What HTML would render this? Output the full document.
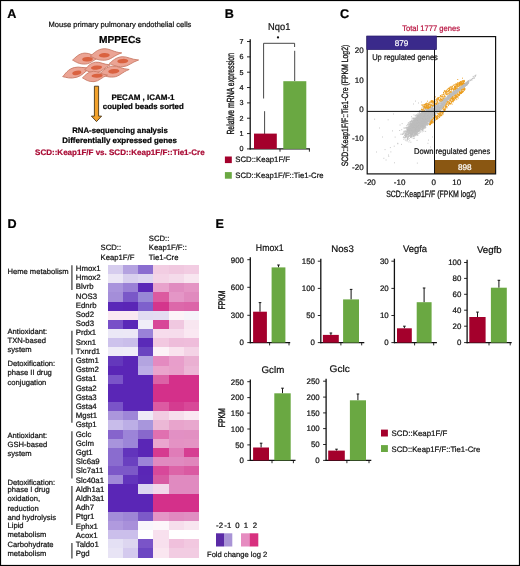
<!DOCTYPE html>
<html><head><meta charset="utf-8"><style>
html,body{margin:0;padding:0;background:#fff;}
body{width:520px;height:566px;overflow:hidden;}
svg{display:block;font-family:"Liberation Sans", sans-serif;text-rendering:geometricPrecision;filter:blur(0.3px);}
</style></head><body>
<svg width="520" height="566" viewBox="0 0 520 566">
<defs><clipPath id="cclip"><rect x="367.5" y="37" width="127" height="136.2"/></clipPath></defs>
<rect x="0.5" y="0.5" width="519" height="565" fill="none" stroke="#000" stroke-width="1.2"/>
<text x="7.2" y="17.9" font-size="12.6" text-anchor="start" font-weight="bold" fill="#000" stroke="#000" stroke-width="0.22" >A</text>
<text x="224.8" y="18.3" font-size="12.6" text-anchor="start" font-weight="bold" fill="#000" stroke="#000" stroke-width="0.22" >B</text>
<text x="340" y="18.3" font-size="12.6" text-anchor="start" font-weight="bold" fill="#000" stroke="#000" stroke-width="0.22" >C</text>
<text x="7.6" y="228" font-size="12.6" text-anchor="start" font-weight="bold" fill="#000" stroke="#000" stroke-width="0.22" >D</text>
<text x="215.6" y="227.8" font-size="12.6" text-anchor="start" font-weight="bold" fill="#000" stroke="#000" stroke-width="0.22" >E</text>
<text x="120" y="26.9" font-size="7.5" text-anchor="middle" fill="#111" stroke="#111" stroke-width="0.22" textLength="142.8" lengthAdjust="spacingAndGlyphs" >Mouse primary pulmonary endothelial cells</text>
<text x="120" y="43.2" font-size="10.1" text-anchor="middle" font-weight="bold" fill="#000" stroke="#000" stroke-width="0.22" textLength="41.8" lengthAdjust="spacingAndGlyphs" >MPPECs</text>
<g transform="translate(86.5,58.5) rotate(-3)"><path d="M-14.00,0.82 C-10.92,-1.38 -7.70,-5.50 -1.40,-5.50 C3.50,-5.50 7.00,-1.65 14.00,-0.66 C7.00,1.38 4.20,5.50 -1.40,5.50 C-7.70,5.50 -10.92,2.75 -14.00,0.82 Z" fill="#eba494" stroke="#c97a66" stroke-width="0.85"/></g>
<ellipse cx="87.5" cy="59.2" rx="5.3" ry="2.2" transform="rotate(-3 87.5 59.2)" fill="#da6240"/>
<g transform="translate(106,54.4) rotate(-3)"><path d="M-15.80,0.86 C-12.32,-1.44 -8.69,-5.75 -1.58,-5.75 C3.95,-5.75 7.90,-1.72 15.80,-0.69 C7.90,1.44 4.74,5.75 -1.58,5.75 C-8.69,5.75 -12.32,2.88 -15.80,0.86 Z" fill="#eba494" stroke="#c97a66" stroke-width="0.85"/></g>
<ellipse cx="104.3" cy="55.3" rx="5.5" ry="2.2" transform="rotate(-3 104.3 55.3)" fill="#da6240"/>
<g transform="translate(124,61.6) rotate(-4)"><path d="M-14.70,0.75 C-11.47,-1.25 -8.09,-5.00 -1.47,-5.00 C3.67,-5.00 7.35,-1.50 14.70,-0.60 C7.35,1.25 4.41,5.00 -1.47,5.00 C-8.09,5.00 -11.47,2.50 -14.70,0.75 Z" fill="#eba494" stroke="#c97a66" stroke-width="0.85"/></g>
<ellipse cx="122.8" cy="61.1" rx="5.5" ry="2.2" transform="rotate(-4 122.8 61.1)" fill="#da6240"/>
<g transform="translate(77,72) rotate(-15)"><path d="M-15.00,0.75 C-11.70,-1.25 -8.25,-5.00 -1.50,-5.00 C3.75,-5.00 7.50,-1.50 15.00,-0.60 C7.50,1.25 4.50,5.00 -1.50,5.00 C-8.25,5.00 -11.70,2.50 -15.00,0.75 Z" fill="#eba494" stroke="#c97a66" stroke-width="0.85"/></g>
<ellipse cx="76.8" cy="72.9" rx="4.6" ry="2.1" transform="rotate(-12 76.8 72.9)" fill="#da6240"/>
<g transform="translate(97.5,67.2) rotate(-8)"><path d="M-13.00,0.79 C-10.14,-1.31 -7.15,-5.25 -1.30,-5.25 C3.25,-5.25 6.50,-1.57 13.00,-0.63 C6.50,1.31 3.90,5.25 -1.30,5.25 C-7.15,5.25 -10.14,2.62 -13.00,0.79 Z" fill="#eba494" stroke="#c97a66" stroke-width="0.85"/></g>
<ellipse cx="96.5" cy="67.6" rx="5.6" ry="2.1" transform="rotate(-5 96.5 67.6)" fill="#da6240"/>
<g transform="translate(114.6,71.4) rotate(-5)"><path d="M-14.70,0.82 C-11.47,-1.38 -8.09,-5.50 -1.47,-5.50 C3.67,-5.50 7.35,-1.65 14.70,-0.66 C7.35,1.38 4.41,5.50 -1.47,5.50 C-8.09,5.50 -11.47,2.75 -14.70,0.82 Z" fill="#eba494" stroke="#c97a66" stroke-width="0.85"/></g>
<ellipse cx="113.8" cy="71.3" rx="5.6" ry="2.3" transform="rotate(-5 113.8 71.3)" fill="#da6240"/>
<g transform="translate(95,76.4) rotate(-3)"><path d="M-12.60,0.78 C-9.83,-1.30 -6.93,-5.20 -1.26,-5.20 C3.15,-5.20 6.30,-1.56 12.60,-0.62 C6.30,1.30 3.78,5.20 -1.26,5.20 C-6.93,5.20 -9.83,2.60 -12.60,0.78 Z" fill="#eba494" stroke="#c97a66" stroke-width="0.85"/></g>
<ellipse cx="97.1" cy="75.7" rx="5.6" ry="2.0" transform="rotate(-3 97.1 75.7)" fill="#da6240"/>
<path d="M94.4,86.2 L98.6,86.2 L98.6,116.1 L101.6,116.1 L96.5,121.6 L91.4,116.1 L94.4,116.1 Z" fill="#f2a22c" stroke="#3e2c10" stroke-width="0.85" stroke-linejoin="miter"/>
<text x="143" y="99.7" font-size="8" text-anchor="middle" font-weight="bold" fill="#000" stroke="#000" stroke-width="0.22" textLength="63.1" lengthAdjust="spacingAndGlyphs" >PECAM , ICAM-1</text>
<text x="143.3" y="109.2" font-size="7.9" text-anchor="middle" font-weight="bold" fill="#000" stroke="#000" stroke-width="0.22" textLength="80.9" lengthAdjust="spacingAndGlyphs" >coupled beads sorted</text>
<text x="120" y="132.9" font-size="7.9" text-anchor="middle" font-weight="bold" fill="#000" stroke="#000" stroke-width="0.22" textLength="95.6" lengthAdjust="spacingAndGlyphs" >RNA-sequencing analysis</text>
<text x="119.6" y="142.5" font-size="7.9" text-anchor="middle" font-weight="bold" fill="#000" stroke="#000" stroke-width="0.22" textLength="114.7" lengthAdjust="spacingAndGlyphs" >Differentially expressed genes</text>
<text x="119.85" y="154.8" font-size="8" text-anchor="middle" font-weight="bold" fill="#a90a34" stroke="#a90a34" stroke-width="0.22" textLength="169.5" lengthAdjust="spacingAndGlyphs" >SCD::Keap1F/F vs. SCD::Keap1F/F::Tie1-Cre</text>
<text x="279.2" y="30.4" font-size="9.9" text-anchor="middle" fill="#111" stroke="#111" stroke-width="0.22" textLength="22.2" lengthAdjust="spacingAndGlyphs" >Nqo1</text>
<line x1="250.2" y1="39.3" x2="250.2" y2="149.5" stroke="#111" stroke-width="1.3"/>
<line x1="247" y1="148.90" x2="250.2" y2="148.90" stroke="#111" stroke-width="0.9"/>
<text x="243.4" y="151.4" font-size="7.2" text-anchor="end" fill="#111" stroke="#111" stroke-width="0.22" >0</text>
<line x1="247" y1="133.56" x2="250.2" y2="133.56" stroke="#111" stroke-width="0.9"/>
<text x="243.4" y="136.06" font-size="7.2" text-anchor="end" fill="#111" stroke="#111" stroke-width="0.22" >1</text>
<line x1="247" y1="118.22" x2="250.2" y2="118.22" stroke="#111" stroke-width="0.9"/>
<text x="243.4" y="120.72" font-size="7.2" text-anchor="end" fill="#111" stroke="#111" stroke-width="0.22" >2</text>
<line x1="247" y1="102.88" x2="250.2" y2="102.88" stroke="#111" stroke-width="0.9"/>
<text x="243.4" y="105.38000000000001" font-size="7.2" text-anchor="end" fill="#111" stroke="#111" stroke-width="0.22" >3</text>
<line x1="247" y1="87.54" x2="250.2" y2="87.54" stroke="#111" stroke-width="0.9"/>
<text x="243.4" y="90.04" font-size="7.2" text-anchor="end" fill="#111" stroke="#111" stroke-width="0.22" >4</text>
<line x1="247" y1="72.20" x2="250.2" y2="72.20" stroke="#111" stroke-width="0.9"/>
<text x="243.4" y="74.7" font-size="7.2" text-anchor="end" fill="#111" stroke="#111" stroke-width="0.22" >5</text>
<line x1="247" y1="56.86" x2="250.2" y2="56.86" stroke="#111" stroke-width="0.9"/>
<text x="243.4" y="59.360000000000014" font-size="7.2" text-anchor="end" fill="#111" stroke="#111" stroke-width="0.22" >6</text>
<line x1="247" y1="41.52" x2="250.2" y2="41.52" stroke="#111" stroke-width="0.9"/>
<text x="243.4" y="44.02000000000001" font-size="7.2" text-anchor="end" fill="#111" stroke="#111" stroke-width="0.22" >7</text>
<line x1="249.7" y1="148.9" x2="309.9" y2="148.9" stroke="#111" stroke-width="1.3"/>
<line x1="280" y1="148.9" x2="280" y2="151.70000000000002" stroke="#111" stroke-width="0.9"/>
<line x1="309.4" y1="148.9" x2="309.4" y2="151.70000000000002" stroke="#111" stroke-width="0.9"/>
<line x1="264.6" y1="111.2" x2="264.6" y2="134" stroke="#333" stroke-width="0.9"/>
<line x1="294.7" y1="50.8" x2="294.7" y2="81" stroke="#333" stroke-width="0.9"/>
<rect x="254" y="133.6" width="22.8" height="15.30" fill="#a4002c"/>
<rect x="283.3" y="81.2" width="23" height="67.70" fill="#6aa842"/>
<path d="M263.6,98.5 V43.3 H294.6 V47" fill="none" stroke="#333" stroke-width="0.9"/>
<circle cx="278.0" cy="37.4" r="1.15" fill="#111"/>
<text x="230.6" y="93.8" font-size="10.3" text-anchor="middle" fill="#111" stroke="#111" stroke-width="0.35" textLength="81.6" lengthAdjust="spacingAndGlyphs" transform="rotate(-90 230.6 93.8)" dy="3.1">Relative mRNA expression</text>
<rect x="224.9" y="156.5" width="6.9" height="6.6" fill="#a4002c"/>
<rect x="224.9" y="172.1" width="6.9" height="6.6" fill="#6aa842"/>
<text x="235.3" y="162.4" font-size="7.8" text-anchor="start" fill="#111" stroke="#111" stroke-width="0.22" textLength="54.7" lengthAdjust="spacingAndGlyphs" >SCD::Keap1F/F</text>
<text x="235.3" y="177.6" font-size="7.8" text-anchor="start" fill="#111" stroke="#111" stroke-width="0.22" textLength="88.2" lengthAdjust="spacingAndGlyphs" >SCD::Keap1F/F::Tie1-Cre</text>
<text x="402.2" y="30.8" font-size="8.1" text-anchor="start" fill="#b8123f" stroke="#b8123f" stroke-width="0.22" textLength="57.9" lengthAdjust="spacingAndGlyphs" >Total 1777 genes</text>
<g clip-path="url(#cclip)">
<path d="M418.9 124.8h0.9M417.4 122.9h0.9M413.6 127.2h0.9M426.4 116.8h0.9M425.6 116.9h0.9M421.9 120.4h0.9M411.7 133.5h0.9M423.2 120.4h0.9M406.2 128.4h0.9M413.3 126.4h0.9M420.9 120.5h0.9M420.9 118.0h0.9M421.8 121.3h0.9M419.1 129.6h0.9M424.9 121.6h0.9M414.3 124.3h0.9M417.2 124.0h0.9M423.4 119.2h0.9M414.8 122.9h0.9M418.9 127.8h0.9M415.3 127.4h0.9M418.6 116.8h0.9M422.3 124.7h0.9M407.3 133.1h0.9M417.0 121.2h0.9M422.0 119.3h0.9M412.8 132.3h0.9M425.0 120.4h0.9M428.1 114.8h0.9M417.3 119.0h0.9M421.5 117.5h0.9M414.1 122.3h0.9M412.8 126.7h0.9M422.3 110.8h0.9M411.6 131.1h0.9M428.6 115.2h0.9M403.4 128.0h0.9M419.8 118.8h0.9M415.0 130.7h0.9M425.8 116.3h0.9M421.6 121.8h0.9M429.5 114.5h0.9M423.3 120.5h0.9M413.2 133.9h0.9M425.8 117.9h0.9M406.9 132.3h0.9M420.3 113.8h0.9M420.4 125.4h0.9M415.3 133.1h0.9M422.1 118.8h0.9M422.5 121.8h0.9M422.3 123.9h0.9M414.7 125.2h0.9M425.2 116.4h0.9M416.3 129.2h0.9M426.6 113.0h0.9M411.3 129.9h0.9M417.8 122.5h0.9M425.1 112.2h0.9M423.7 112.5h0.9M416.2 128.1h0.9M427.4 117.6h0.9M421.5 120.6h0.9M421.3 122.6h0.9M418.9 123.9h0.9M422.5 119.0h0.9M424.8 119.1h0.9M431.2 111.5h0.9M416.1 124.0h0.9M421.1 124.3h0.9M418.2 125.0h0.9M424.3 106.6h0.9M413.5 129.2h0.9M422.0 120.5h0.9M418.2 126.1h0.9M419.8 119.6h0.9M433.7 109.2h0.9M416.0 125.3h0.9M417.9 123.5h0.9M403.0 136.9h0.9M422.5 114.2h0.9M420.9 124.6h0.9M427.2 120.4h0.9M409.0 131.3h0.9M418.7 125.5h0.9M419.9 110.6h0.9M422.4 113.1h0.9M420.0 115.4h0.9M422.8 123.7h0.9M418.9 123.5h0.9M424.1 118.0h0.9M422.0 125.9h0.9M424.6 115.7h0.9M432.3 104.3h0.9M423.9 116.5h0.9M421.5 123.0h0.9M421.9 122.3h0.9M407.6 127.9h0.9M420.8 116.8h0.9M410.5 125.2h0.9M427.9 116.6h0.9M425.6 112.0h0.9M416.9 120.0h0.9M426.9 121.2h0.9M417.5 130.6h0.9M424.5 116.3h0.9M411.2 136.4h0.9M417.5 121.6h0.9M422.4 120.9h0.9M425.6 111.7h0.9M428.7 118.8h0.9M427.1 113.6h0.9M417.2 128.6h0.9M420.2 121.9h0.9M426.7 113.6h0.9M405.6 134.6h0.9M410.6 134.5h0.9M419.8 119.2h0.9M421.0 124.0h0.9M422.5 124.5h0.9M421.1 124.8h0.9M431.0 117.1h0.9M417.4 127.9h0.9M406.5 130.8h0.9M410.5 135.7h0.9M412.4 129.3h0.9M418.2 123.3h0.9M416.5 126.2h0.9M429.4 112.2h0.9M424.3 121.3h0.9M415.6 120.9h0.9M418.4 127.7h0.9M408.8 130.5h0.9M426.6 118.2h0.9M421.0 123.9h0.9M417.8 119.0h0.9M409.2 129.9h0.9M423.3 115.9h0.9M412.6 125.9h0.9M410.5 130.8h0.9M413.4 129.8h0.9M406.7 136.4h0.9M411.7 122.0h0.9M422.8 117.6h0.9M405.0 133.2h0.9M420.0 119.7h0.9M425.2 119.4h0.9M423.7 119.2h0.9M428.1 116.0h0.9M417.5 115.5h0.9M427.0 119.8h0.9M416.7 123.0h0.9M426.5 107.7h0.9M426.9 124.6h0.9M415.5 129.0h0.9M429.6 111.3h0.9M424.3 120.9h0.9M414.0 127.3h0.9M422.6 122.3h0.9M418.7 122.1h0.9M412.9 127.4h0.9M424.5 117.4h0.9M412.8 125.5h0.9M436.6 109.4h0.9M417.5 113.4h0.9M423.8 119.7h0.9M429.6 113.6h0.9M420.0 123.7h0.9M410.5 135.5h0.9M419.7 119.0h0.9M430.5 118.4h0.9M410.1 128.9h0.9M421.3 121.0h0.9M415.1 122.6h0.9M433.3 112.3h0.9M409.8 126.4h0.9M430.9 114.6h0.9M431.2 113.6h0.9M414.9 127.8h0.9M405.6 133.1h0.9M420.1 123.7h0.9M415.0 126.2h0.9M422.7 120.4h0.9M423.3 119.1h0.9M419.1 125.8h0.9M417.9 120.3h0.9M415.8 125.9h0.9M419.0 123.2h0.9M419.7 122.7h0.9M415.9 120.5h0.9M423.8 122.0h0.9M421.3 119.4h0.9M419.8 117.8h0.9M408.8 133.2h0.9M415.6 129.1h0.9M407.8 123.1h0.9M416.7 131.4h0.9M414.3 121.7h0.9M416.1 127.7h0.9M422.5 119.8h0.9M429.1 115.3h0.9M420.4 123.6h0.9M430.6 114.8h0.9M422.8 114.3h0.9M420.0 124.6h0.9M419.8 126.2h0.9M424.5 120.7h0.9M423.4 128.7h0.9M425.8 114.8h0.9M425.2 127.1h0.9M419.2 126.0h0.9M424.8 116.7h0.9M413.1 129.3h0.9M423.7 122.5h0.9M423.7 117.9h0.9M425.2 118.5h0.9M420.6 121.2h0.9M419.4 125.1h0.9M412.1 127.0h0.9M416.3 119.3h0.9M412.7 120.7h0.9M416.6 127.4h0.9M422.4 119.0h0.9M415.1 120.7h0.9M430.6 112.9h0.9M423.6 114.3h0.9M414.5 119.7h0.9M425.6 119.7h0.9M408.6 133.0h0.9M419.2 115.1h0.9M406.9 130.6h0.9M412.9 123.0h0.9M420.0 122.6h0.9M424.3 120.1h0.9M430.1 116.1h0.9M410.9 128.8h0.9M411.1 126.2h0.9M418.9 122.8h0.9M418.8 116.3h0.9M412.3 129.3h0.9M417.5 122.8h0.9M417.4 121.1h0.9M424.0 119.0h0.9M417.4 121.4h0.9M412.7 117.8h0.9M413.9 128.0h0.9M411.3 131.3h0.9M417.3 118.7h0.9M417.2 123.1h0.9M423.1 120.9h0.9M417.3 120.8h0.9M418.4 123.0h0.9M424.0 118.7h0.9M412.4 123.7h0.9M415.7 122.9h0.9M412.8 128.4h0.9M416.8 125.3h0.9M421.4 118.5h0.9M431.7 108.4h0.9M425.7 116.3h0.9M420.6 111.1h0.9M415.6 127.1h0.9M427.5 123.6h0.9M423.8 123.1h0.9M425.6 119.9h0.9M421.8 119.1h0.9M419.9 117.2h0.9M423.8 113.5h0.9M425.1 125.2h0.9M418.1 123.6h0.9M425.9 115.7h0.9M415.3 127.4h0.9M424.0 120.4h0.9M418.6 130.3h0.9M428.7 112.8h0.9M419.9 119.9h0.9M425.8 112.8h0.9M422.1 117.5h0.9M416.9 127.7h0.9M426.8 114.7h0.9M417.2 127.8h0.9M419.7 123.2h0.9M430.2 115.9h0.9M421.1 129.9h0.9M420.9 123.9h0.9M415.6 125.9h0.9M413.2 135.9h0.9M424.4 112.0h0.9M407.5 127.6h0.9M424.9 114.7h0.9M418.3 122.0h0.9M416.4 120.8h0.9M416.5 119.2h0.9M419.5 123.3h0.9M421.4 119.2h0.9M414.6 127.8h0.9M419.8 128.2h0.9M423.4 117.7h0.9M415.2 123.6h0.9M413.3 126.9h0.9M422.0 121.7h0.9M426.8 123.3h0.9M415.4 126.3h0.9M431.1 102.6h0.9M416.7 125.6h0.9M421.0 122.2h0.9M418.7 124.4h0.9M421.2 123.6h0.9M406.9 131.3h0.9M417.2 120.2h0.9M414.7 129.5h0.9M417.0 127.3h0.9M424.1 118.7h0.9M421.9 119.2h0.9M411.3 130.3h0.9M420.8 118.6h0.9M420.3 124.4h0.9M415.7 128.6h0.9M428.6 110.5h0.9M419.8 121.2h0.9M428.6 114.2h0.9M422.9 115.8h0.9M419.2 122.4h0.9M412.3 135.4h0.9M420.7 113.6h0.9M423.2 117.8h0.9M422.6 120.5h0.9M410.5 130.4h0.9M426.5 112.6h0.9M410.8 125.4h0.9M413.1 129.9h0.9M429.7 113.5h0.9M425.3 125.4h0.9M415.0 123.9h0.9M423.4 120.4h0.9M411.2 125.7h0.9M421.4 121.1h0.9M411.6 129.3h0.9M417.2 126.3h0.9M418.5 122.8h0.9M419.5 126.5h0.9M426.3 113.6h0.9M422.5 115.9h0.9M421.3 123.4h0.9M427.0 112.9h0.9M419.3 123.1h0.9M410.9 130.9h0.9M416.3 126.9h0.9M408.9 124.7h0.9M420.1 122.6h0.9M418.1 127.2h0.9M416.5 122.6h0.9M418.7 116.4h0.9M415.5 126.1h0.9M423.7 117.1h0.9M419.7 119.2h0.9M424.4 124.0h0.9M420.3 131.0h0.9M415.7 126.0h0.9M422.4 123.4h0.9M408.0 125.1h0.9M424.3 120.5h0.9M428.2 124.1h0.9M421.0 121.6h0.9M425.3 117.7h0.9M426.1 110.3h0.9M423.1 116.9h0.9M428.9 121.4h0.9M418.7 121.8h0.9M414.8 123.4h0.9M417.1 127.2h0.9M419.6 122.2h0.9M420.2 125.1h0.9M421.8 119.2h0.9M422.7 118.2h0.9M415.8 131.8h0.9M419.9 117.7h0.9M426.1 116.8h0.9M413.9 134.5h0.9M423.0 122.2h0.9M420.1 120.9h0.9M412.6 133.1h0.9M418.9 121.5h0.9M421.4 120.5h0.9M422.3 117.7h0.9M414.7 118.2h0.9M418.3 126.1h0.9M426.0 113.9h0.9M421.9 126.2h0.9M419.0 125.7h0.9M428.8 112.8h0.9M424.7 113.9h0.9M420.3 121.0h0.9M422.3 123.9h0.9M431.3 107.3h0.9M417.1 126.6h0.9M414.4 129.3h0.9M421.9 118.5h0.9M419.1 116.1h0.9M420.4 114.8h0.9M414.2 125.1h0.9M418.8 126.3h0.9M418.9 121.0h0.9M425.6 122.4h0.9M420.1 123.0h0.9M426.8 115.8h0.9M417.3 134.7h0.9M427.6 105.7h0.9M419.9 123.4h0.9M426.1 118.1h0.9M415.6 121.7h0.9M422.0 123.8h0.9M411.1 126.4h0.9M415.2 118.5h0.9M416.9 122.9h0.9M420.4 118.3h0.9M413.5 126.5h0.9M417.6 121.2h0.9M420.9 123.8h0.9M429.5 119.0h0.9M414.0 125.9h0.9M409.3 140.3h0.9M415.2 126.4h0.9M419.4 116.6h0.9M421.8 119.6h0.9M409.7 133.3h0.9M422.1 111.7h0.9M424.3 118.1h0.9M422.9 120.5h0.9M426.1 114.4h0.9M423.4 116.5h0.9M421.7 116.5h0.9M422.3 126.4h0.9M421.5 119.4h0.9M411.2 127.2h0.9M422.3 123.1h0.9M422.8 120.9h0.9M421.9 125.3h0.9M416.0 123.4h0.9M424.4 117.4h0.9M416.5 122.7h0.9M419.1 125.0h0.9M418.8 117.8h0.9M422.1 120.2h0.9M415.3 129.6h0.9M417.0 123.2h0.9M426.5 120.4h0.9M416.3 127.1h0.9M419.2 132.0h0.9M419.0 127.5h0.9M417.3 127.6h0.9M426.5 104.5h0.9M417.9 125.8h0.9M417.4 121.5h0.9M431.5 110.2h0.9M411.8 133.4h0.9M412.0 134.5h0.9M416.4 125.9h0.9M426.6 115.3h0.9M408.0 126.8h0.9M427.5 117.1h0.9M416.5 128.7h0.9M423.4 120.8h0.9M406.0 134.6h0.9M425.9 118.7h0.9M419.2 112.3h0.9M421.3 122.3h0.9M431.6 105.8h0.9M417.5 124.3h0.9M423.4 116.3h0.9M424.1 114.2h0.9M419.7 119.7h0.9M418.8 120.0h0.9M412.6 133.6h0.9M419.8 119.4h0.9M422.5 123.2h0.9M413.6 127.7h0.9M423.4 120.3h0.9M413.1 119.9h0.9M426.9 115.9h0.9M418.8 121.7h0.9M419.9 119.9h0.9M412.0 126.6h0.9M414.7 124.5h0.9M414.1 130.2h0.9M413.3 131.1h0.9M414.3 128.8h0.9M427.4 114.9h0.9M415.3 126.6h0.9M416.5 117.9h0.9M416.2 126.1h0.9M416.8 125.1h0.9M425.0 119.7h0.9M425.6 118.3h0.9M417.6 123.9h0.9M417.1 123.2h0.9M414.7 119.8h0.9M417.4 124.2h0.9M413.8 127.8h0.9M421.9 119.0h0.9M425.6 105.2h0.9M414.4 119.8h0.9M430.3 122.1h0.9M405.5 136.8h0.9M421.6 118.7h0.9M417.8 114.6h0.9M424.8 118.2h0.9M418.2 121.0h0.9M421.9 117.7h0.9M419.5 120.0h0.9M406.6 135.1h0.9M422.0 122.7h0.9M414.3 127.2h0.9M423.1 119.1h0.9M430.4 119.3h0.9M410.2 123.6h0.9M427.3 120.5h0.9M426.2 118.7h0.9M414.4 124.4h0.9M422.4 115.4h0.9M407.1 130.6h0.9M437.3 112.0h0.9M413.9 124.7h0.9M419.0 119.5h0.9M426.5 114.7h0.9M415.9 131.2h0.9M416.5 126.1h0.9M418.6 121.7h0.9M419.7 119.0h0.9M404.4 128.3h0.9M410.6 128.0h0.9M419.3 122.5h0.9M422.7 119.4h0.9M413.4 125.4h0.9M407.1 134.0h0.9M423.1 120.6h0.9M418.3 122.6h0.9M424.6 117.0h0.9M424.6 119.3h0.9M423.2 123.7h0.9M415.3 124.8h0.9M413.1 125.3h0.9M431.7 117.0h0.9M420.6 123.3h0.9M427.6 117.2h0.9M423.4 112.9h0.9M416.7 126.9h0.9M427.6 114.3h0.9M413.8 126.5h0.9M413.8 124.3h0.9M426.4 112.5h0.9M423.9 126.6h0.9M426.6 116.2h0.9M416.7 126.6h0.9M429.7 114.3h0.9M426.6 115.3h0.9M421.8 118.9h0.9M424.4 122.5h0.9M411.1 130.3h0.9M419.5 119.8h0.9M419.2 125.7h0.9M431.8 112.2h0.9M417.9 117.3h0.9M430.3 111.5h0.9M416.8 120.2h0.9M416.7 120.4h0.9M420.7 122.8h0.9M420.1 122.7h0.9M417.5 130.1h0.9M411.9 122.3h0.9M416.7 121.8h0.9M412.9 127.3h0.9M418.5 118.2h0.9M421.5 126.0h0.9M422.8 118.1h0.9M419.8 121.3h0.9M420.5 124.1h0.9M413.8 117.9h0.9M417.3 120.6h0.9M421.7 117.3h0.9M424.6 125.9h0.9M411.1 126.0h0.9M406.4 125.5h0.9M409.5 133.8h0.9M411.9 122.1h0.9M412.3 132.0h0.9M414.2 126.0h0.9M424.0 123.2h0.9M432.3 113.3h0.9M420.5 121.9h0.9M432.4 114.9h0.9M418.5 125.0h0.9M421.0 120.8h0.9M413.8 122.5h0.9M413.1 122.2h0.9M427.3 116.4h0.9M415.4 132.0h0.9M420.4 113.3h0.9M431.3 113.4h0.9M428.3 108.0h0.9M423.2 120.1h0.9M420.8 121.5h0.9M422.1 113.3h0.9M409.5 126.6h0.9M414.9 124.3h0.9M421.9 120.7h0.9M418.1 120.7h0.9M418.8 126.8h0.9M423.8 118.1h0.9M420.7 127.3h0.9M417.3 127.0h0.9M425.2 115.2h0.9M421.6 115.3h0.9M425.4 116.9h0.9M411.8 132.7h0.9M416.9 130.0h0.9M415.2 125.8h0.9M420.2 120.0h0.9M419.6 119.7h0.9M423.1 118.5h0.9M414.8 115.5h0.9M425.9 115.7h0.9M409.5 132.7h0.9M424.1 121.8h0.9M416.4 131.6h0.9M423.4 128.1h0.9M419.9 124.5h0.9M414.9 122.1h0.9M427.3 117.9h0.9M429.7 115.3h0.9M412.6 122.2h0.9M414.3 124.6h0.9M415.9 128.1h0.9M420.6 119.9h0.9M420.0 121.0h0.9M422.0 122.6h0.9M423.3 115.4h0.9M413.8 133.8h0.9M422.2 123.9h0.9M409.4 131.0h0.9M416.5 119.2h0.9M417.9 126.7h0.9M428.6 119.4h0.9M411.6 124.4h0.9M424.2 121.2h0.9M417.7 118.6h0.9M425.3 119.4h0.9M421.4 118.2h0.9M422.6 122.2h0.9M412.4 121.7h0.9M422.1 121.4h0.9M421.2 124.0h0.9M415.8 125.5h0.9M418.8 125.2h0.9M427.7 112.7h0.9M434.0 113.7h0.9M424.9 119.0h0.9M428.9 111.8h0.9M416.5 120.8h0.9M424.7 122.3h0.9M423.2 120.1h0.9M418.5 123.8h0.9M413.5 132.6h0.9M414.7 122.4h0.9M413.4 124.9h0.9M426.3 119.6h0.9M413.6 131.9h0.9M423.1 116.1h0.9M409.4 129.3h0.9M416.5 126.6h0.9M413.1 120.2h0.9M417.4 117.8h0.9M421.9 114.7h0.9M413.6 124.5h0.9M418.9 128.0h0.9M425.3 118.7h0.9M417.9 117.3h0.9M415.2 124.1h0.9M414.9 128.9h0.9M413.7 125.1h0.9M409.2 124.1h0.9M425.4 121.6h0.9M418.3 119.3h0.9M404.5 138.1h0.9M426.7 116.0h0.9M427.6 120.0h0.9M424.7 115.0h0.9M426.8 117.9h0.9M409.8 130.2h0.9M411.1 130.2h0.9M420.3 116.8h0.9M410.5 136.7h0.9M424.5 123.1h0.9M414.1 132.0h0.9M435.1 114.5h0.9M418.7 124.0h0.9M420.5 125.2h0.9M425.3 116.6h0.9M413.2 131.6h0.9M418.0 126.3h0.9M424.1 124.1h0.9M424.7 114.9h0.9M424.9 123.9h0.9M417.2 126.2h0.9M428.6 118.1h0.9M419.5 116.7h0.9M412.7 130.0h0.9M426.7 125.3h0.9M416.8 129.5h0.9M420.2 114.5h0.9M415.1 127.3h0.9M416.2 124.8h0.9M420.3 118.0h0.9M420.6 118.3h0.9M417.4 126.5h0.9M416.7 126.2h0.9M428.3 113.2h0.9M420.0 124.6h0.9M419.5 126.6h0.9M413.4 130.9h0.9M414.8 123.6h0.9M427.5 110.5h0.9M430.5 113.6h0.9M425.4 112.0h0.9M429.0 118.4h0.9M418.4 122.7h0.9M433.4 108.6h0.9M415.6 123.4h0.9M422.5 120.4h0.9M423.9 124.8h0.9M418.4 125.1h0.9M425.4 111.9h0.9M428.9 120.1h0.9M409.4 127.8h0.9M409.7 124.5h0.9M418.0 115.9h0.9M425.1 122.4h0.9M409.6 130.9h0.9M410.2 134.8h0.9M414.6 126.0h0.9M420.7 123.1h0.9M417.4 124.3h0.9M416.5 125.7h0.9M412.9 129.1h0.9M407.5 132.3h0.9M430.2 111.5h0.9M412.8 130.0h0.9M410.4 124.5h0.9M416.7 128.0h0.9M421.3 119.9h0.9M411.9 125.4h0.9M427.4 115.1h0.9M409.6 123.4h0.9M416.7 135.1h0.9M412.7 128.7h0.9M420.2 120.8h0.9M414.9 121.1h0.9M416.9 131.7h0.9M416.8 128.3h0.9M409.2 131.4h0.9M422.9 122.9h0.9M414.2 129.9h0.9M419.9 118.6h0.9M420.1 117.8h0.9M414.8 126.8h0.9M403.9 137.6h0.9M410.7 125.0h0.9M418.5 126.3h0.9M419.7 127.2h0.9M410.1 126.2h0.9M428.8 114.3h0.9M422.9 115.2h0.9M424.3 118.2h0.9M423.0 118.7h0.9M424.7 114.1h0.9M410.8 124.8h0.9M424.3 114.2h0.9M411.5 126.3h0.9M414.2 122.3h0.9M416.4 122.7h0.9M414.2 123.5h0.9M418.6 121.2h0.9M420.5 122.2h0.9M416.7 115.9h0.9M414.6 123.7h0.9M420.4 114.7h0.9M414.7 125.8h0.9M419.5 126.2h0.9M418.8 126.8h0.9M407.3 127.0h0.9M427.0 116.2h0.9M422.3 119.8h0.9M419.5 117.1h0.9M423.5 115.8h0.9M425.0 116.9h0.9M405.6 130.9h0.9M425.3 115.6h0.9M417.6 125.0h0.9M415.8 123.6h0.9M420.2 122.0h0.9M427.9 113.7h0.9M433.6 115.2h0.9M431.1 114.7h0.9M420.3 121.8h0.9M417.0 121.6h0.9M417.6 121.4h0.9M429.6 114.0h0.9M412.8 121.0h0.9M418.1 121.8h0.9M410.9 126.2h0.9M407.9 136.3h0.9M424.3 127.9h0.9M418.8 122.2h0.9M427.7 114.3h0.9M419.5 120.6h0.9M419.0 128.8h0.9M428.5 120.1h0.9M417.4 124.4h0.9M416.4 129.3h0.9M412.7 131.4h0.9M428.4 118.9h0.9M416.3 129.9h0.9M413.7 124.8h0.9M414.3 132.2h0.9M427.3 111.7h0.9M414.3 125.9h0.9M435.4 110.0h0.9M412.5 121.7h0.9M418.0 128.6h0.9M429.2 111.1h0.9M414.4 125.2h0.9M410.6 134.9h0.9M415.4 130.7h0.9M407.1 129.5h0.9M419.3 119.1h0.9M423.7 117.9h0.9M414.0 130.3h0.9M420.1 113.6h0.9M430.6 112.9h0.9M419.7 114.2h0.9M414.5 125.7h0.9M422.3 113.2h0.9M410.1 123.2h0.9M418.7 124.4h0.9M408.6 130.7h0.9M425.4 122.6h0.9M422.4 117.9h0.9M410.8 127.1h0.9M415.9 126.4h0.9M422.5 126.0h0.9M418.7 118.5h0.9M429.9 115.4h0.9M418.4 120.3h0.9M406.7 130.9h0.9M422.8 115.5h0.9M412.3 130.2h0.9M421.9 122.1h0.9M425.9 121.4h0.9M416.6 129.1h0.9M415.2 129.3h0.9M420.8 121.8h0.9M424.7 116.7h0.9M427.3 117.7h0.9M418.9 120.4h0.9M414.0 125.5h0.9M418.1 123.4h0.9M421.8 116.2h0.9M414.7 125.7h0.9M418.2 119.1h0.9M427.2 112.0h0.9M420.5 111.4h0.9M419.8 122.9h0.9M421.6 122.4h0.9M421.2 121.0h0.9M407.2 131.6h0.9M407.5 136.9h0.9M420.6 120.1h0.9M413.5 125.8h0.9M433.2 115.3h0.9M421.6 125.3h0.9M406.4 127.4h0.9M414.8 123.3h0.9M416.6 125.9h0.9M420.1 122.6h0.9M421.0 124.4h0.9M426.7 109.6h0.9M419.7 120.8h0.9M418.1 117.2h0.9M404.7 127.6h0.9M422.6 119.7h0.9M414.8 117.1h0.9M415.6 122.9h0.9M409.5 128.5h0.9M424.3 119.4h0.9M420.2 123.5h0.9M416.1 125.9h0.9M420.7 123.2h0.9M418.6 122.4h0.9M417.2 121.8h0.9M432.9 110.6h0.9M426.4 124.5h0.9M423.9 111.1h0.9M424.9 120.0h0.9M432.6 114.2h0.9M421.2 115.5h0.9M415.0 127.8h0.9M420.0 117.3h0.9M416.3 123.7h0.9M420.3 122.6h0.9M415.1 121.4h0.9M429.6 118.5h0.9M420.8 125.0h0.9M423.2 121.1h0.9M420.4 118.0h0.9M424.6 121.1h0.9M418.3 131.4h0.9M434.8 114.1h0.9M432.0 112.5h0.9M416.2 123.0h0.9M415.0 127.2h0.9M420.5 123.8h0.9M412.8 138.5h0.9M432.0 109.3h0.9M424.1 119.4h0.9M420.4 120.3h0.9M416.9 121.3h0.9M420.2 121.2h0.9M419.3 118.7h0.9M419.6 122.2h0.9M420.5 116.7h0.9M423.7 121.9h0.9M421.9 118.1h0.9M416.1 124.6h0.9M426.6 121.3h0.9M417.1 121.9h0.9M421.8 120.6h0.9M412.7 126.0h0.9M420.1 124.2h0.9M410.5 127.0h0.9M419.6 117.0h0.9M420.6 122.4h0.9M416.6 120.9h0.9M418.3 122.0h0.9M419.4 118.7h0.9M422.0 112.7h0.9M418.3 123.3h0.9M423.4 115.6h0.9M421.2 118.0h0.9M427.0 121.6h0.9M418.0 125.5h0.9M416.1 129.6h0.9M426.2 115.5h0.9M413.8 129.6h0.9M428.0 118.0h0.9M420.1 113.9h0.9M418.4 129.1h0.9M414.8 131.6h0.9M431.4 113.1h0.9M424.9 115.2h0.9M412.2 129.1h0.9M418.1 123.3h0.9M422.9 118.0h0.9M421.3 122.1h0.9M423.1 126.1h0.9M422.0 119.9h0.9M416.8 122.2h0.9M427.1 114.9h0.9M412.1 127.3h0.9M417.6 122.2h0.9M423.0 113.8h0.9M422.4 119.8h0.9M412.8 129.1h0.9M419.8 123.9h0.9M417.4 125.5h0.9M407.7 129.6h0.9M425.9 119.9h0.9M418.0 121.2h0.9M421.0 111.9h0.9M416.2 128.2h0.9M420.8 116.5h0.9M411.7 136.0h0.9M418.3 119.6h0.9M421.5 123.8h0.9M407.1 139.3h0.9M419.1 113.8h0.9M419.9 114.3h0.9M426.5 116.6h0.9M430.7 108.2h0.9M421.5 124.4h0.9M414.3 124.5h0.9M417.1 124.3h0.9M414.2 129.5h0.9M422.5 119.3h0.9M428.2 111.9h0.9M425.5 113.7h0.9M419.5 114.1h0.9M420.0 120.8h0.9M415.3 123.9h0.9M415.9 122.8h0.9M405.8 133.6h0.9M415.1 124.4h0.9M413.1 128.1h0.9M423.2 117.3h0.9M419.3 127.9h0.9M426.7 118.6h0.9M425.1 115.0h0.9M420.9 125.3h0.9M415.9 125.2h0.9M422.2 120.9h0.9M419.8 125.9h0.9M419.8 124.8h0.9M426.7 117.5h0.9M421.0 115.8h0.9M410.7 128.5h0.9M425.1 122.6h0.9M413.1 129.9h0.9M413.0 125.7h0.9M419.2 125.3h0.9M422.9 123.5h0.9M415.6 129.7h0.9M424.7 117.1h0.9M420.8 118.4h0.9M412.4 127.7h0.9M421.7 131.8h0.9M420.0 128.4h0.9M421.1 121.8h0.9M421.9 116.5h0.9M425.2 117.8h0.9M412.0 132.2h0.9M423.3 120.1h0.9M427.3 112.4h0.9M423.7 120.9h0.9M416.7 129.9h0.9M408.5 127.9h0.9M420.0 117.1h0.9M415.2 119.6h0.9M417.3 119.6h0.9M418.0 117.2h0.9M421.3 119.2h0.9M419.5 121.8h0.9M417.3 118.9h0.9M405.0 137.0h0.9M413.1 126.7h0.9M417.6 115.8h0.9M413.8 125.4h0.9M414.0 129.0h0.9M416.8 121.4h0.9M415.4 129.6h0.9M416.8 127.3h0.9M417.9 115.9h0.9M413.2 128.5h0.9M422.8 121.9h0.9M425.9 119.8h0.9M416.8 124.0h0.9M422.8 117.0h0.9M421.9 113.0h0.9M422.6 118.2h0.9M410.3 135.5h0.9M421.1 120.6h0.9M412.3 127.5h0.9M426.1 112.0h0.9M412.3 128.9h0.9M415.2 122.7h0.9M416.7 129.2h0.9M415.3 134.5h0.9M414.0 123.2h0.9M424.9 119.0h0.9M415.0 129.8h0.9M407.1 130.9h0.9M425.1 115.4h0.9M413.1 130.8h0.9M424.4 117.0h0.9M408.5 131.9h0.9M423.2 121.5h0.9M429.2 111.2h0.9M416.5 125.0h0.9M424.1 113.5h0.9M420.9 109.3h0.9M422.4 116.4h0.9M423.3 121.1h0.9M412.5 128.9h0.9M421.9 122.1h0.9M412.0 125.6h0.9M413.8 138.4h0.9M417.8 122.9h0.9M412.8 132.7h0.9M419.3 128.3h0.9M424.1 117.5h0.9M421.1 115.9h0.9M416.3 123.0h0.9M412.2 129.6h0.9M421.5 126.0h0.9M413.2 126.6h0.9M422.5 120.7h0.9M418.5 121.2h0.9M422.8 120.2h0.9M408.4 132.3h0.9M409.1 127.7h0.9M420.2 121.6h0.9M418.1 119.9h0.9M416.3 121.6h0.9M422.9 121.5h0.9M431.8 114.9h0.9M413.8 126.0h0.9M414.7 128.3h0.9M431.9 112.4h0.9M404.4 132.3h0.9M413.1 130.7h0.9M419.9 122.9h0.9M427.6 110.5h0.9M418.6 131.1h0.9M419.6 118.8h0.9M404.8 130.8h0.9M405.7 136.4h0.9M421.6 124.1h0.9M417.1 121.7h0.9M419.1 130.4h0.9M409.8 132.7h0.9M420.7 123.4h0.9M418.1 125.6h0.9M423.6 117.3h0.9M416.3 124.5h0.9M413.5 127.4h0.9M418.0 124.5h0.9M429.5 117.3h0.9M418.1 126.1h0.9M422.5 122.2h0.9M420.0 122.7h0.9M415.0 123.4h0.9M426.9 120.0h0.9M423.9 119.4h0.9M419.9 119.9h0.9M410.7 133.8h0.9M419.3 120.0h0.9M416.5 130.4h0.9M412.8 136.2h0.9M427.8 123.5h0.9M415.2 126.4h0.9M416.8 125.5h0.9M416.6 122.0h0.9M423.7 114.6h0.9M417.6 126.3h0.9M415.4 124.5h0.9M420.5 119.5h0.9M412.1 129.2h0.9M421.6 127.0h0.9M415.2 130.5h0.9M414.2 126.1h0.9M418.0 124.7h0.9M427.8 120.9h0.9M418.5 128.6h0.9M426.6 118.3h0.9M416.9 128.5h0.9M419.4 123.6h0.9M419.2 125.2h0.9M427.9 118.2h0.9M420.2 125.5h0.9M425.5 112.1h0.9M424.8 111.2h0.9M423.6 120.4h0.9M428.2 114.4h0.9M415.0 123.4h0.9M413.9 131.0h0.9M416.5 122.2h0.9M420.7 117.7h0.9M415.9 123.9h0.9M431.6 115.8h0.9M415.2 120.0h0.9M421.0 120.9h0.9M422.4 121.5h0.9M419.4 126.0h0.9M424.4 118.0h0.9M416.0 123.6h0.9M420.9 116.1h0.9M416.9 121.7h0.9M412.7 131.5h0.9M419.2 122.5h0.9M421.1 114.3h0.9M419.5 123.3h0.9M421.7 115.3h0.9M423.8 118.7h0.9M429.3 116.9h0.9M426.8 123.5h0.9M418.4 121.4h0.9M415.4 122.3h0.9M415.3 118.6h0.9M419.7 123.6h0.9M424.1 115.9h0.9M425.7 113.1h0.9M414.7 119.3h0.9M413.4 125.0h0.9M428.6 115.0h0.9M414.3 129.5h0.9M421.5 119.2h0.9M418.8 121.6h0.9M412.7 121.8h0.9M421.4 125.4h0.9M426.6 113.8h0.9M414.8 126.0h0.9M424.9 118.0h0.9M416.8 126.3h0.9M419.2 124.5h0.9M414.1 121.7h0.9M421.2 123.5h0.9M413.0 128.3h0.9M423.3 116.7h0.9M419.8 129.9h0.9M425.9 119.7h0.9M417.4 130.8h0.9M409.2 130.5h0.9M426.0 120.8h0.9M412.9 126.2h0.9M416.5 117.4h0.9M423.9 119.9h0.9M417.9 125.8h0.9M424.2 118.6h0.9M425.2 122.4h0.9M417.0 125.3h0.9M418.5 127.2h0.9M418.0 125.5h0.9M420.2 121.7h0.9M428.5 112.6h0.9M428.7 116.1h0.9M426.1 114.7h0.9M425.9 118.7h0.9M416.5 126.2h0.9M418.5 122.9h0.9M424.9 113.7h0.9M406.7 128.2h0.9M415.6 123.5h0.9M420.5 123.3h0.9M429.4 113.2h0.9M420.3 118.3h0.9M425.2 121.8h0.9M422.7 111.1h0.9M427.3 120.5h0.9M420.8 114.8h0.9M418.8 125.1h0.9M419.9 118.4h0.9M416.4 129.1h0.9M414.9 132.4h0.9M420.0 122.8h0.9M410.9 128.5h0.9M420.1 115.6h0.9M427.7 108.2h0.9M412.8 129.1h0.9M423.4 121.1h0.9M416.9 123.9h0.9M416.9 122.5h0.9M407.3 138.3h0.9M421.0 121.2h0.9M416.4 126.2h0.9M419.1 122.2h0.9M421.8 112.9h0.9M418.5 118.8h0.9M420.6 127.0h0.9M413.3 128.0h0.9M418.0 127.4h0.9M410.7 124.4h0.9M421.4 118.8h0.9M419.7 126.2h0.9M413.8 126.4h0.9M420.9 122.3h0.9M418.6 127.2h0.9M430.6 109.2h0.9M425.2 107.9h0.9M426.2 113.9h0.9M419.4 120.9h0.9M413.3 123.3h0.9M419.7 127.0h0.9M424.7 115.4h0.9M415.1 123.8h0.9M416.4 132.4h0.9M423.1 118.9h0.9M414.6 123.0h0.9M427.9 116.6h0.9M416.1 129.4h0.9M414.6 129.6h0.9M413.3 126.8h0.9M422.8 120.4h0.9M423.1 115.1h0.9M430.5 116.3h0.9M420.2 123.3h0.9M414.8 126.3h0.9M412.4 129.7h0.9M423.0 123.8h0.9M426.0 118.7h0.9M416.9 123.8h0.9M417.9 124.6h0.9M410.4 134.4h0.9M409.8 129.9h0.9M418.4 121.2h0.9M428.1 113.0h0.9M430.1 116.0h0.9M417.4 125.8h0.9M425.6 114.5h0.9M418.7 120.7h0.9M418.9 121.3h0.9M421.7 123.8h0.9M427.1 114.9h0.9M422.1 122.9h0.9M415.6 121.8h0.9M423.4 114.4h0.9M422.4 115.3h0.9M427.1 110.2h0.9M426.8 120.6h0.9M417.1 130.5h0.9M411.4 123.4h0.9M424.6 119.7h0.9M413.2 118.5h0.9M418.4 122.0h0.9M416.7 123.8h0.9M408.5 131.0h0.9M432.1 115.5h0.9M415.9 122.9h0.9M423.5 122.2h0.9M420.9 116.1h0.9M420.5 121.7h0.9M429.4 116.8h0.9M424.5 121.8h0.9M420.2 127.5h0.9M417.8 125.4h0.9M422.4 115.5h0.9M412.0 122.7h0.9M420.1 121.3h0.9M418.5 125.1h0.9M407.9 133.8h0.9M419.2 121.3h0.9M427.1 121.4h0.9M415.0 122.9h0.9M416.2 125.8h0.9M420.7 117.4h0.9M422.6 114.8h0.9M424.6 118.6h0.9M426.1 124.0h0.9M417.6 123.4h0.9M423.6 121.4h0.9M412.6 130.2h0.9M416.6 127.6h0.9M426.8 114.9h0.9M419.1 123.2h0.9M404.9 140.0h0.9M422.6 119.5h0.9M415.7 123.0h0.9M420.7 125.6h0.9M421.4 125.5h0.9M404.5 135.5h0.9M420.7 120.8h0.9M409.0 130.1h0.9M423.5 112.9h0.9M411.8 125.6h0.9M417.6 126.6h0.9M418.5 115.1h0.9M426.0 113.1h0.9M419.4 128.8h0.9M416.4 120.3h0.9M414.4 124.4h0.9M413.2 127.2h0.9M424.7 118.2h0.9M417.4 135.3h0.9M414.2 127.9h0.9M421.0 123.6h0.9M418.4 125.0h0.9M430.8 111.0h0.9M414.1 128.9h0.9M414.2 126.0h0.9M421.0 121.9h0.9M419.5 125.5h0.9M415.7 120.8h0.9M423.3 116.8h0.9M424.5 114.4h0.9M423.0 119.8h0.9M401.8 134.2h0.9M416.1 131.2h0.9M411.0 134.4h0.9M426.2 117.3h0.9M421.9 117.6h0.9M419.7 122.8h0.9M423.0 121.4h0.9M416.8 122.1h0.9M417.1 126.2h0.9M407.9 129.0h0.9M416.0 123.5h0.9M412.6 118.6h0.9M417.0 123.7h0.9M419.5 114.2h0.9M418.6 124.9h0.9M424.3 122.0h0.9M422.9 114.5h0.9M422.1 118.2h0.9M418.0 129.7h0.9M414.2 124.1h0.9M415.4 122.9h0.9M425.5 117.5h0.9M427.7 115.4h0.9M418.1 127.7h0.9M414.8 125.0h0.9M418.5 123.3h0.9M424.5 114.6h0.9M421.1 120.3h0.9M410.3 127.1h0.9M418.9 124.3h0.9M422.0 121.5h0.9M418.7 121.2h0.9M419.6 118.0h0.9M411.4 129.0h0.9M410.6 129.2h0.9M414.2 125.3h0.9M417.5 121.0h0.9M413.6 121.3h0.9M418.3 119.8h0.9M415.8 114.5h0.9M415.5 127.2h0.9M405.4 135.0h0.9M420.0 122.0h0.9M411.7 131.0h0.9M418.2 119.6h0.9M423.2 118.1h0.9M418.5 121.3h0.9M422.5 119.5h0.9M426.4 116.9h0.9M415.5 125.3h0.9M423.5 116.5h0.9M422.4 121.2h0.9M413.7 118.7h0.9M420.4 122.0h0.9M418.5 120.1h0.9M425.6 115.4h0.9M414.5 124.3h0.9M419.1 118.2h0.9M417.9 131.8h0.9M428.5 117.1h0.9M427.9 115.9h0.9M412.6 133.9h0.9M427.0 116.4h0.9M411.2 135.5h0.9M425.7 113.8h0.9M421.5 123.1h0.9M421.0 124.9h0.9M421.1 123.2h0.9M416.8 118.9h0.9M423.4 123.3h0.9M428.9 119.4h0.9M421.1 118.1h0.9M415.6 118.4h0.9M420.1 125.1h0.9M407.9 134.7h0.9M426.4 120.4h0.9M413.0 126.1h0.9M407.1 130.7h0.9M426.4 123.4h0.9M415.8 131.4h0.9M420.6 119.0h0.9M426.2 105.2h0.9M419.4 123.1h0.9M434.5 114.0h0.9M431.9 110.0h0.9M427.4 119.6h0.9M422.8 120.2h0.9M417.5 122.5h0.9M416.5 133.0h0.9M412.7 120.7h0.9M420.7 120.8h0.9M423.9 124.9h0.9M418.2 122.4h0.9M415.2 126.4h0.9M417.3 125.1h0.9M418.5 130.9h0.9M425.7 119.1h0.9M424.8 120.0h0.9M425.8 121.3h0.9M427.5 119.4h0.9M416.6 125.1h0.9M417.2 128.2h0.9M422.9 116.8h0.9M427.8 124.2h0.9M423.8 113.2h0.9M420.1 124.1h0.9M419.9 123.3h0.9M426.4 116.4h0.9M414.7 129.8h0.9M419.0 123.1h0.9M413.4 122.7h0.9M411.8 128.5h0.9M408.0 122.9h0.9M423.2 113.6h0.9M416.4 127.4h0.9M408.8 138.4h0.9M416.4 127.9h0.9M417.3 125.6h0.9M419.9 121.7h0.9M406.4 129.5h0.9M421.9 125.3h0.9M417.4 126.4h0.9M421.2 122.4h0.9M421.7 113.8h0.9M420.4 120.4h0.9M415.9 122.3h0.9M412.9 124.6h0.9M418.4 133.4h0.9M428.6 112.9h0.9M421.4 116.2h0.9M400.4 134.2h0.9M423.0 124.4h0.9M417.1 120.6h0.9M416.0 121.7h0.9M411.2 129.6h0.9M415.5 122.9h0.9M412.6 125.4h0.9M423.4 123.7h0.9M422.7 127.9h0.9M411.0 131.8h0.9M412.7 128.4h0.9M421.0 122.8h0.9M424.4 114.9h0.9M412.1 128.8h0.9M419.5 119.3h0.9M427.6 120.7h0.9M412.3 130.9h0.9M421.0 112.8h0.9M420.0 120.7h0.9M414.2 132.8h0.9M419.5 120.1h0.9M423.0 121.1h0.9M424.7 119.2h0.9M419.2 117.7h0.9M417.3 124.9h0.9M408.5 141.9h0.9M415.1 122.3h0.9M409.9 132.9h0.9M418.3 121.0h0.9M415.2 122.9h0.9M415.0 126.3h0.9M417.2 127.2h0.9M418.8 123.4h0.9M424.1 122.6h0.9M423.0 119.4h0.9M416.8 121.6h0.9M418.8 125.6h0.9M419.8 120.3h0.9M408.9 126.7h0.9M423.1 122.5h0.9M418.6 117.5h0.9M418.6 123.9h0.9M415.0 128.1h0.9M416.5 121.8h0.9M414.1 130.8h0.9M419.5 118.6h0.9M415.6 129.7h0.9M421.9 118.4h0.9M427.4 112.9h0.9M415.7 130.3h0.9M419.0 124.0h0.9M417.5 120.1h0.9M412.4 128.5h0.9M425.0 112.5h0.9M427.2 115.2h0.9M413.8 129.0h0.9M420.6 117.4h0.9M408.4 134.8h0.9M414.1 129.3h0.9M408.6 132.6h0.9M411.9 123.9h0.9M418.3 124.0h0.9M413.9 123.1h0.9M416.9 117.7h0.9M423.2 120.3h0.9M430.2 114.7h0.9M421.8 120.9h0.9M416.8 119.5h0.9M428.3 115.2h0.9M415.4 121.6h0.9M428.5 115.1h0.9M414.2 130.2h0.9M429.6 111.7h0.9M420.6 119.3h0.9M418.0 127.9h0.9M420.2 124.6h0.9M419.1 125.4h0.9M421.8 115.7h0.9M413.3 128.1h0.9M424.4 118.2h0.9M423.3 112.7h0.9M420.7 118.3h0.9M420.5 122.4h0.9M413.6 127.2h0.9M413.5 129.3h0.9M413.7 126.0h0.9M419.2 119.8h0.9M424.3 114.7h0.9M424.5 118.2h0.9M413.2 127.6h0.9M414.0 126.2h0.9M421.5 127.4h0.9M420.2 127.7h0.9M419.1 117.3h0.9M408.1 136.4h0.9M409.9 134.7h0.9M425.7 117.4h0.9M417.7 123.0h0.9M420.1 120.3h0.9M415.7 124.5h0.9M424.4 114.6h0.9M419.1 117.9h0.9M412.7 123.5h0.9M419.6 124.7h0.9M420.0 119.6h0.9M421.9 118.2h0.9M421.9 120.8h0.9M417.3 114.4h0.9M413.8 131.0h0.9M423.2 127.3h0.9M416.9 122.5h0.9M428.5 115.1h0.9M430.6 112.8h0.9M419.6 124.8h0.9M414.1 125.8h0.9M415.8 124.9h0.9M422.6 117.1h0.9M420.0 119.5h0.9M418.6 112.0h0.9M418.5 123.8h0.9M415.5 130.2h0.9M423.0 123.6h0.9M425.8 118.3h0.9M416.3 121.0h0.9M417.2 122.6h0.9M419.7 120.0h0.9M424.7 114.9h0.9M419.8 125.5h0.9M416.9 119.9h0.9M421.2 119.6h0.9M408.5 134.0h0.9M412.1 126.7h0.9M422.5 120.2h0.9M422.1 128.2h0.9M420.3 118.8h0.9M420.3 120.8h0.9M404.2 131.3h0.9M415.9 134.0h0.9M417.8 122.8h0.9M418.2 127.3h0.9M422.9 125.5h0.9M426.9 121.2h0.9M419.4 123.7h0.9M416.6 124.4h0.9M408.8 130.7h0.9M412.9 126.3h0.9M426.4 116.1h0.9M427.6 117.2h0.9M426.3 119.2h0.9M417.6 127.2h0.9M416.5 123.0h0.9M430.1 120.0h0.9M417.5 131.1h0.9M422.1 116.1h0.9M421.5 121.5h0.9M420.6 119.5h0.9M412.4 129.4h0.9M425.5 119.1h0.9M425.1 120.8h0.9M413.9 127.7h0.9M423.1 122.4h0.9M421.2 122.5h0.9M424.2 125.7h0.9M407.5 134.3h0.9M433.1 109.2h0.9M409.7 132.6h0.9M410.2 128.9h0.9M423.9 124.4h0.9M423.1 121.1h0.9M425.2 117.1h0.9M414.5 126.8h0.9M420.6 119.9h0.9M415.0 125.3h0.9M409.1 128.5h0.9M418.1 122.1h0.9M422.3 124.8h0.9M420.9 120.6h0.9M410.8 126.6h0.9M419.6 118.5h0.9M419.5 117.8h0.9M419.9 121.4h0.9M423.9 116.1h0.9M417.8 124.8h0.9M423.0 125.3h0.9M416.8 122.7h0.9M418.5 125.0h0.9M421.9 122.4h0.9M416.8 134.7h0.9M429.2 112.1h0.9M413.1 129.2h0.9M417.1 115.7h0.9M416.4 119.3h0.9M424.5 122.5h0.9M421.9 113.7h0.9M428.6 116.5h0.9M418.4 125.3h0.9M426.8 113.3h0.9M418.1 121.3h0.9M421.3 111.7h0.9M425.0 112.6h0.9M421.1 114.0h0.9M413.1 126.3h0.9M420.5 114.6h0.9M421.3 117.7h0.9M425.4 114.9h0.9M421.6 119.3h0.9M428.3 111.7h0.9M423.1 126.3h0.9M421.1 123.2h0.9M415.7 126.7h0.9M407.3 135.0h0.9M412.8 122.9h0.9M413.9 132.3h0.9M418.6 117.0h0.9M427.7 111.0h0.9M417.8 124.8h0.9M409.9 125.4h0.9M417.6 128.7h0.9M421.3 114.0h0.9M425.9 115.8h0.9M422.1 119.7h0.9M419.5 118.1h0.9M413.0 125.9h0.9M418.5 125.5h0.9M415.9 132.1h0.9M414.7 124.6h0.9M424.0 119.3h0.9M415.3 122.1h0.9M410.7 124.7h0.9M427.6 118.1h0.9M430.4 113.0h0.9M422.6 122.0h0.9M423.9 116.6h0.9M425.5 124.6h0.9M407.4 128.9h0.9M415.6 129.1h0.9M425.0 115.1h0.9M422.8 118.5h0.9M419.8 119.6h0.9M419.1 122.4h0.9M429.8 120.5h0.9M410.6 133.3h0.9M421.2 124.2h0.9M426.6 118.0h0.9M421.8 116.0h0.9M413.4 134.9h0.9M423.9 113.8h0.9M427.6 116.5h0.9M407.8 137.5h0.9M416.3 130.0h0.9M414.1 124.6h0.9M410.5 130.4h0.9M423.5 115.4h0.9M413.5 136.7h0.9M430.6 113.5h0.9M414.0 122.9h0.9M411.6 132.4h0.9M424.2 113.1h0.9M418.7 121.8h0.9M418.9 124.7h0.9M429.3 109.5h0.9M426.1 119.8h0.9M417.5 123.6h0.9M414.2 131.8h0.9M415.1 123.9h0.9M418.0 120.2h0.9M413.1 127.4h0.9M426.9 113.7h0.9M419.2 116.5h0.9M412.4 136.6h0.9M414.1 121.5h0.9M419.9 124.1h0.9M408.2 130.1h0.9M418.9 119.1h0.9M425.5 119.8h0.9M420.8 119.0h0.9M417.8 121.3h0.9M419.2 123.6h0.9M419.6 125.9h0.9M432.2 106.9h0.9M422.8 122.0h0.9M422.3 118.3h0.9M418.7 126.9h0.9M423.7 119.9h0.9M416.2 128.0h0.9M423.2 117.6h0.9M427.1 123.0h0.9M410.3 133.8h0.9M410.2 126.1h0.9M419.1 124.7h0.9M417.3 119.7h0.9M410.4 129.1h0.9M417.7 120.6h0.9M414.7 134.0h0.9M414.4 126.6h0.9M415.2 124.2h0.9M418.9 121.5h0.9M420.3 116.6h0.9M415.1 134.3h0.9M420.4 124.2h0.9M426.8 116.9h0.9M416.4 119.0h0.9M412.6 133.1h0.9M424.1 119.7h0.9M406.0 127.3h0.9M411.2 125.8h0.9M418.1 119.4h0.9M426.6 112.3h0.9M418.0 127.1h0.9M419.3 118.7h0.9M427.6 121.5h0.9M412.1 128.6h0.9M409.6 124.4h0.9M424.1 120.2h0.9M425.5 117.8h0.9M408.3 133.4h0.9M413.3 123.7h0.9M414.8 129.9h0.9M421.6 127.8h0.9M418.0 115.9h0.9M426.7 119.8h0.9M417.0 119.7h0.9M426.3 109.9h0.9M415.0 119.0h0.9M409.0 125.9h0.9M427.6 118.6h0.9M414.4 121.9h0.9M419.7 123.4h0.9M408.6 128.5h0.9M420.2 124.3h0.9M420.6 122.8h0.9M407.5 124.3h0.9M419.2 118.7h0.9M417.9 122.2h0.9M420.4 118.1h0.9M427.3 114.3h0.9M423.5 120.6h0.9M425.8 117.3h0.9M408.5 130.8h0.9M430.4 112.9h0.9M423.3 120.1h0.9M414.4 124.5h0.9M418.1 128.2h0.9M424.9 123.8h0.9M425.9 123.3h0.9M419.4 117.4h0.9M429.5 113.3h0.9M426.3 116.1h0.9M417.8 124.5h0.9M410.7 126.2h0.9M413.4 126.2h0.9M411.6 129.7h0.9M425.1 124.6h0.9M429.3 111.9h0.9M423.7 116.9h0.9M421.4 120.0h0.9M416.5 125.5h0.9M412.1 131.5h0.9M415.5 121.8h0.9M418.4 125.4h0.9M416.5 127.1h0.9M425.6 122.2h0.9M413.1 128.2h0.9M425.2 122.4h0.9M422.3 122.3h0.9M410.0 129.4h0.9M427.9 112.4h0.9M429.8 108.7h0.9M414.5 120.7h0.9M423.4 119.3h0.9M430.8 111.3h0.9M415.0 120.9h0.9M420.8 124.7h0.9M425.9 120.6h0.9M424.0 117.3h0.9M423.0 119.2h0.9M415.4 133.2h0.9M419.2 118.1h0.9M422.0 120.7h0.9M427.8 119.6h0.9M425.8 111.8h0.9M409.6 133.3h0.9M421.9 121.1h0.9M412.2 127.6h0.9M421.9 122.7h0.9M432.1 110.5h0.9M411.1 121.0h0.9M425.0 116.0h0.9M416.7 120.9h0.9M419.7 114.5h0.9M420.2 121.9h0.9M423.6 123.2h0.9M418.9 123.0h0.9M420.9 114.3h0.9M417.8 124.1h0.9M423.0 115.3h0.9M424.6 118.5h0.9M408.0 127.7h0.9M411.6 130.7h0.9M421.9 122.6h0.9M422.7 116.5h0.9M426.9 117.9h0.9M422.9 120.6h0.9M412.9 130.3h0.9M411.1 125.7h0.9M417.6 124.6h0.9M418.3 121.9h0.9M414.1 128.3h0.9M412.3 123.7h0.9M422.8 124.7h0.9M414.9 122.5h0.9M430.5 117.9h0.9M417.2 123.5h0.9M422.1 123.6h0.9M418.0 116.1h0.9M410.6 126.1h0.9M421.9 120.1h0.9M428.7 111.6h0.9M421.2 120.7h0.9M424.8 126.2h0.9M423.9 123.7h0.9M425.3 113.7h0.9M422.3 117.6h0.9M420.2 122.0h0.9M418.4 121.2h0.9M427.5 112.9h0.9M426.7 121.7h0.9M424.9 120.8h0.9M429.3 116.6h0.9M426.0 109.6h0.9M430.3 111.2h0.9M408.2 130.9h0.9M411.5 130.2h0.9M408.9 128.7h0.9M421.3 120.9h0.9M414.4 126.4h0.9M418.9 123.0h0.9M418.8 121.9h0.9M420.9 114.0h0.9M416.8 125.4h0.9M415.9 123.5h0.9M417.3 125.2h0.9M425.9 114.8h0.9M418.5 124.5h0.9M413.9 119.8h0.9M420.0 120.0h0.9M417.4 126.8h0.9M418.4 120.9h0.9M403.5 131.2h0.9M419.1 122.0h0.9M422.2 120.3h0.9M414.0 122.5h0.9M412.9 128.3h0.9M414.4 130.4h0.9M408.2 126.2h0.9M414.5 119.8h0.9M426.4 111.0h0.9M418.5 122.1h0.9M411.0 123.4h0.9M410.7 134.7h0.9M429.5 120.9h0.9M412.3 131.8h0.9M421.0 124.1h0.9M417.9 126.7h0.9M425.6 118.4h0.9M427.0 113.7h0.9M426.5 112.1h0.9M423.0 107.2h0.9M417.7 120.6h0.9M421.4 124.4h0.9M423.5 118.4h0.9M425.8 109.6h0.9M417.9 130.0h0.9M416.8 116.2h0.9M418.8 117.9h0.9M430.0 116.2h0.9M418.9 128.1h0.9M416.5 128.9h0.9M422.3 118.7h0.9M410.7 129.8h0.9M405.3 134.2h0.9M411.4 135.3h0.9M408.8 122.9h0.9M423.3 119.7h0.9M420.8 129.5h0.9M423.8 118.0h0.9M424.0 121.5h0.9M413.1 122.8h0.9M415.6 119.1h0.9M420.9 123.8h0.9M428.3 114.2h0.9M422.0 122.7h0.9M426.5 113.7h0.9M410.8 127.7h0.9M410.4 127.7h0.9M419.3 123.7h0.9M420.3 121.6h0.9M418.2 125.2h0.9M425.8 118.8h0.9M427.1 113.2h0.9M421.4 127.2h0.9M421.3 122.0h0.9M419.4 126.2h0.9M415.0 122.5h0.9M418.0 121.7h0.9M423.2 116.8h0.9M419.5 121.2h0.9M419.9 119.1h0.9M422.5 113.1h0.9M415.7 123.1h0.9M423.0 118.7h0.9M421.3 118.9h0.9M413.0 124.1h0.9M416.3 123.1h0.9M421.6 121.4h0.9M424.6 116.5h0.9M412.9 124.4h0.9M420.4 122.7h0.9M430.6 111.6h0.9M433.0 116.1h0.9M415.9 130.7h0.9M428.5 118.5h0.9M421.2 124.3h0.9M416.5 124.9h0.9M423.1 125.8h0.9M420.1 125.5h0.9M418.2 120.5h0.9M422.0 122.3h0.9M416.6 127.7h0.9M413.5 124.6h0.9M420.0 120.6h0.9M410.4 124.6h0.9M419.9 122.7h0.9M417.1 125.3h0.9M411.5 131.8h0.9M422.2 120.5h0.9M416.0 126.0h0.9M422.2 123.7h0.9M421.4 121.2h0.9M417.0 128.2h0.9M424.9 114.6h0.9M423.5 119.3h0.9M416.4 120.0h0.9M425.3 108.5h0.9M420.2 119.8h0.9M424.8 114.9h0.9M420.8 123.3h0.9M420.8 118.6h0.9M423.9 119.2h0.9M423.8 115.6h0.9M418.2 121.8h0.9M415.1 127.6h0.9M424.5 122.8h0.9M418.3 124.9h0.9M425.5 115.6h0.9M419.9 122.2h0.9M413.4 124.2h0.9M425.9 116.3h0.9M416.3 120.2h0.9M422.4 124.0h0.9M411.0 127.0h0.9M428.4 118.9h0.9M426.8 112.4h0.9M421.1 117.4h0.9M421.5 118.6h0.9M423.2 123.9h0.9M420.7 119.9h0.9M420.2 122.5h0.9M416.9 125.6h0.9M425.9 122.0h0.9M405.4 131.6h0.9M414.2 131.1h0.9M433.3 108.8h0.9M422.3 123.9h0.9M405.3 135.8h0.9M415.5 124.2h0.9M420.0 119.2h0.9M425.5 116.0h0.9M426.6 125.3h0.9M418.7 126.7h0.9M417.3 129.5h0.9M425.0 117.1h0.9M428.1 119.9h0.9M427.0 114.5h0.9M421.3 124.8h0.9M409.9 129.4h0.9M423.2 120.7h0.9M433.3 115.3h0.9M422.0 121.4h0.9M411.6 129.4h0.9M420.3 120.4h0.9M420.9 123.2h0.9M412.9 126.5h0.9M411.8 134.7h0.9M410.0 124.8h0.9M423.1 117.5h0.9M423.9 116.1h0.9M432.6 111.7h0.9M420.4 121.7h0.9M419.8 125.1h0.9M429.5 110.2h0.9M414.5 129.6h0.9M422.2 113.3h0.9M413.4 124.2h0.9M423.5 120.1h0.9M412.9 124.2h0.9M418.9 114.3h0.9M422.5 118.4h0.9M432.0 113.5h0.9M415.5 125.0h0.9M416.3 122.4h0.9M421.7 123.8h0.9M410.5 130.3h0.9M429.1 115.4h0.9M413.2 125.3h0.9M411.3 123.9h0.9M425.8 116.0h0.9M412.5 123.4h0.9M416.1 123.4h0.9M427.9 111.7h0.9M422.1 123.8h0.9M422.6 118.2h0.9M410.1 137.4h0.9M421.7 118.1h0.9M416.9 120.9h0.9M411.3 124.4h0.9M423.1 120.5h0.9M421.9 122.9h0.9M422.5 119.5h0.9M415.6 128.4h0.9M427.1 116.9h0.9M425.2 114.4h0.9M416.4 130.3h0.9M416.6 126.1h0.9M418.3 123.4h0.9M416.7 122.7h0.9M413.4 136.1h0.9M416.5 117.3h0.9M412.0 125.1h0.9M410.0 121.4h0.9M425.8 122.3h0.9M419.5 125.2h0.9M420.1 116.5h0.9M422.6 112.1h0.9M415.4 124.8h0.9M426.4 115.5h0.9M417.0 121.4h0.9M419.9 121.9h0.9M426.1 121.0h0.9M423.4 118.2h0.9M421.7 126.3h0.9M420.4 121.1h0.9M432.3 115.4h0.9M422.2 118.9h0.9M418.0 128.0h0.9M418.8 126.7h0.9M415.2 126.9h0.9M421.8 120.3h0.9M421.4 121.8h0.9M410.9 126.4h0.9M422.1 126.7h0.9M416.7 121.2h0.9M415.8 126.0h0.9M424.6 114.6h0.9M422.8 119.5h0.9M415.4 122.4h0.9M417.0 121.7h0.9M418.7 115.8h0.9M427.0 117.5h0.9M425.5 122.0h0.9M419.2 115.5h0.9M420.5 122.9h0.9M413.3 123.9h0.9M422.7 120.9h0.9M416.5 124.2h0.9M415.4 124.0h0.9M421.2 124.8h0.9M409.8 130.6h0.9M428.8 113.9h0.9M421.8 123.1h0.9M411.4 125.5h0.9M407.3 128.6h0.9M422.4 122.6h0.9M415.7 123.3h0.9M422.7 121.3h0.9M416.9 117.1h0.9M411.2 120.3h0.9M418.9 119.3h0.9M418.7 128.9h0.9M427.5 115.9h0.9M421.2 121.1h0.9M416.0 125.5h0.9M428.0 109.9h0.9M416.0 126.3h0.9M425.9 119.0h0.9M413.8 127.4h0.9M415.4 121.3h0.9M418.8 120.9h0.9M425.2 118.0h0.9M415.2 126.8h0.9M416.1 123.0h0.9M418.8 127.1h0.9M413.6 121.2h0.9M416.7 128.2h0.9M428.9 108.3h0.9M416.7 123.6h0.9M412.4 130.9h0.9M419.6 123.1h0.9M431.0 109.3h0.9M425.3 119.5h0.9M414.6 124.7h0.9M429.2 115.1h0.9M417.9 119.3h0.9M425.2 118.4h0.9M434.2 113.0h0.9M424.2 118.4h0.9M418.5 120.9h0.9M421.5 121.1h0.9M425.0 120.8h0.9M419.9 119.5h0.9M426.8 120.9h0.9M415.6 127.8h0.9M423.4 120.3h0.9M421.9 119.3h0.9M422.1 126.2h0.9M425.9 109.9h0.9M406.4 137.2h0.9M414.6 125.0h0.9M411.3 131.8h0.9M417.9 121.5h0.9M429.1 122.1h0.9M429.7 116.4h0.9M418.4 125.9h0.9M421.4 124.8h0.9M422.4 119.0h0.9M420.9 117.8h0.9M426.6 120.9h0.9M418.5 125.4h0.9M412.1 133.4h0.9M422.0 115.4h0.9M429.0 112.9h0.9M407.1 129.2h0.9M423.5 116.9h0.9M422.2 113.1h0.9M420.7 124.8h0.9M417.0 127.4h0.9M418.0 125.0h0.9M425.5 124.9h0.9M414.1 130.7h0.9M424.2 112.8h0.9M424.4 126.4h0.9M419.1 110.6h0.9M414.6 120.2h0.9M419.5 119.2h0.9M414.6 123.8h0.9M420.0 119.7h0.9M413.9 126.9h0.9M419.8 118.4h0.9M422.0 112.9h0.9M420.7 119.3h0.9M426.6 112.3h0.9M413.0 123.3h0.9M431.4 112.5h0.9M412.7 127.6h0.9M417.1 130.6h0.9M417.5 116.0h0.9M422.3 122.9h0.9M420.3 123.2h0.9M419.1 123.3h0.9M419.0 119.7h0.9M421.5 120.7h0.9M417.7 121.2h0.9M414.3 128.4h0.9M418.9 112.9h0.9M419.1 127.9h0.9M422.9 115.8h0.9M424.7 112.9h0.9M418.9 130.5h0.9M416.5 124.3h0.9M408.3 129.5h0.9M412.6 128.5h0.9M411.4 134.6h0.9M416.1 123.1h0.9M417.3 127.3h0.9M426.8 113.0h0.9M431.3 116.5h0.9M427.2 115.4h0.9M412.5 131.9h0.9M417.5 125.0h0.9M408.5 132.2h0.9M418.7 119.2h0.9M424.3 124.0h0.9M419.2 119.7h0.9M428.0 104.8h0.9M415.1 128.2h0.9M411.5 121.0h0.9M422.4 122.5h0.9M417.9 129.6h0.9M424.4 121.9h0.9M411.0 130.8h0.9M432.1 117.4h0.9M426.5 115.0h0.9M419.0 120.0h0.9M423.9 114.8h0.9M415.8 117.5h0.9M414.7 134.2h0.9M420.1 122.4h0.9M407.2 134.4h0.9M427.6 107.8h0.9M406.0 135.2h0.9M416.0 124.8h0.9M409.7 126.6h0.9M413.8 130.4h0.9M420.7 124.2h0.9M414.6 129.5h0.9M417.1 124.9h0.9M424.5 117.2h0.9M414.0 121.0h0.9M421.2 123.5h0.9M415.7 125.7h0.9M406.9 129.5h0.9M424.1 122.6h0.9M414.2 120.7h0.9M414.1 121.3h0.9M421.7 127.7h0.9M420.6 120.3h0.9M424.2 115.8h0.9M421.5 120.8h0.9M418.8 116.9h0.9M425.0 120.1h0.9M401.3 129.7h0.9M417.4 130.3h0.9M420.8 123.5h0.9M424.2 121.0h0.9M414.6 124.7h0.9M422.6 121.4h0.9M423.2 119.8h0.9M418.9 127.2h0.9M424.1 121.8h0.9M407.3 138.6h0.9M406.3 136.4h0.9M415.9 126.3h0.9M416.0 124.4h0.9M421.1 121.9h0.9M409.7 121.7h0.9M416.1 127.8h0.9M415.5 127.9h0.9M415.3 122.5h0.9M429.1 119.1h0.9M418.6 122.8h0.9M421.9 114.2h0.9M416.8 129.5h0.9M423.3 116.2h0.9M415.7 127.4h0.9M410.5 129.2h0.9M413.0 118.7h0.9M424.1 120.5h0.9M422.3 113.4h0.9M410.5 127.9h0.9M416.3 133.8h0.9M413.2 127.2h0.9M421.4 122.1h0.9M425.1 111.9h0.9M424.5 117.6h0.9M413.1 129.2h0.9M414.8 133.5h0.9M417.3 128.5h0.9M425.3 113.7h0.9M414.6 127.6h0.9M415.3 130.0h0.9M418.7 119.8h0.9M417.0 127.6h0.9M414.7 133.9h0.9M414.5 126.4h0.9M417.5 130.8h0.9M426.6 120.3h0.9M423.1 118.8h0.9M430.1 114.0h0.9M422.9 121.0h0.9M424.0 118.7h0.9M415.1 120.0h0.9M428.1 108.0h0.9M405.8 133.1h0.9M432.6 113.8h0.9M416.5 126.3h0.9M415.1 118.4h0.9M418.0 124.8h0.9M423.4 113.2h0.9M403.4 131.9h0.9M421.3 120.6h0.9M420.4 121.7h0.9M414.4 121.6h0.9M422.6 120.5h0.9M425.1 121.5h0.9M407.5 124.6h0.9M413.7 136.8h0.9M415.0 128.3h0.9M420.7 123.9h0.9M417.1 122.1h0.9M421.7 122.0h0.9M416.6 130.5h0.9M426.6 116.7h0.9M418.2 122.4h0.9M411.4 133.0h0.9M412.8 126.8h0.9M423.0 114.7h0.9M418.1 127.0h0.9M428.3 110.3h0.9M424.1 114.7h0.9M422.5 121.1h0.9M415.0 130.9h0.9M429.5 112.1h0.9M418.4 118.4h0.9M429.5 112.2h0.9M413.7 131.1h0.9M409.7 129.2h0.9M410.2 137.3h0.9M430.4 108.4h0.9M414.4 124.9h0.9M417.3 126.7h0.9M425.4 111.9h0.9M418.0 116.1h0.9M427.7 113.4h0.9M418.5 129.4h0.9M421.5 125.7h0.9M428.8 119.5h0.9M414.9 127.0h0.9M421.0 119.8h0.9M426.4 112.2h0.9M427.7 119.4h0.9M406.3 131.5h0.9M413.1 126.3h0.9M421.1 119.7h0.9M418.8 120.9h0.9M419.8 123.8h0.9M421.9 116.5h0.9M417.1 121.4h0.9M415.3 120.4h0.9M426.0 118.2h0.9M417.2 121.6h0.9M415.4 123.6h0.9M414.0 134.4h0.9M414.0 130.1h0.9M419.4 115.6h0.9M409.7 134.4h0.9M411.1 136.6h0.9M416.7 125.3h0.9M418.1 121.2h0.9M417.9 122.5h0.9M426.1 115.0h0.9M418.0 121.4h0.9M414.2 124.4h0.9M423.2 126.0h0.9M426.0 116.4h0.9M430.8 114.8h0.9M420.1 120.8h0.9M413.7 129.1h0.9M414.3 120.9h0.9M416.1 133.6h0.9M421.5 122.1h0.9M419.5 120.2h0.9M424.1 121.9h0.9M418.6 125.1h0.9M424.0 115.5h0.9M418.7 119.8h0.9M421.9 118.1h0.9M424.1 114.2h0.9M428.1 112.0h0.9M412.7 125.3h0.9M421.2 116.8h0.9M432.1 114.6h0.9M419.3 116.5h0.9M417.7 121.0h0.9M410.0 133.5h0.9M430.5 108.6h0.9M426.5 120.3h0.9M413.2 127.1h0.9M421.8 121.7h0.9M413.3 129.3h0.9M420.7 124.8h0.9M409.2 130.3h0.9M415.8 124.5h0.9M422.1 116.9h0.9M433.2 105.2h0.9M426.1 119.6h0.9M424.3 116.4h0.9M414.1 126.5h0.9M423.3 118.7h0.9M423.8 120.1h0.9M412.4 125.4h0.9M426.4 113.1h0.9M414.3 135.1h0.9M412.7 125.2h0.9M422.4 114.5h0.9M416.6 129.4h0.9M419.9 132.1h0.9M425.4 127.2h0.9M420.1 121.7h0.9M415.2 125.5h0.9M416.4 125.1h0.9M421.0 115.3h0.9M409.8 123.3h0.9M427.6 113.6h0.9M419.1 122.3h0.9M425.6 117.2h0.9M423.7 117.1h0.9M418.5 122.9h0.9M411.1 135.1h0.9M408.4 129.3h0.9M423.2 118.6h0.9M427.4 121.1h0.9M432.6 114.5h0.9M422.3 127.8h0.9M414.2 127.1h0.9M424.4 116.2h0.9M417.9 122.3h0.9M421.8 109.5h0.9M428.6 117.2h0.9M420.1 123.9h0.9M416.2 130.1h0.9M427.0 114.2h0.9M416.4 123.2h0.9M415.6 120.8h0.9M415.1 133.4h0.9M420.3 123.5h0.9M422.0 121.5h0.9M408.8 129.1h0.9M424.9 120.7h0.9M411.7 127.7h0.9M414.7 129.7h0.9M421.3 120.4h0.9M416.4 126.7h0.9M417.9 120.6h0.9M419.8 119.0h0.9M425.9 118.1h0.9M416.7 127.4h0.9M418.2 120.5h0.9M410.7 124.1h0.9M413.7 129.5h0.9M424.8 114.1h0.9M420.9 122.1h0.9M424.6 118.7h0.9M427.8 116.9h0.9M415.8 127.5h0.9M405.8 135.3h0.9M420.6 123.4h0.9M419.3 125.7h0.9M425.0 113.1h0.9M416.8 125.9h0.9M422.3 119.8h0.9M421.5 115.2h0.9M426.1 120.2h0.9M426.4 116.8h0.9M418.8 124.5h0.9M415.6 119.5h0.9M415.8 125.7h0.9M414.5 123.3h0.9M417.2 122.9h0.9M419.6 121.8h0.9M422.3 123.3h0.9M420.9 122.3h0.9M418.5 126.0h0.9M416.1 123.0h0.9M414.2 131.2h0.9M416.8 125.8h0.9M426.7 116.9h0.9M431.6 109.2h0.9M426.1 118.3h0.9M415.7 126.1h0.9M414.0 123.4h0.9M419.4 119.0h0.9M427.2 111.2h0.9M416.4 125.6h0.9M416.5 125.4h0.9M413.0 122.9h0.9M403.1 133.4h0.9M428.8 114.5h0.9M419.2 120.5h0.9M419.1 123.7h0.9M409.9 128.6h0.9M416.9 129.9h0.9M415.8 130.7h0.9M422.3 130.5h0.9M418.9 122.8h0.9M428.7 116.4h0.9M422.4 114.8h0.9M429.1 119.2h0.9M417.7 121.9h0.9M415.3 130.6h0.9M421.0 120.6h0.9M415.7 132.6h0.9M424.2 117.3h0.9M425.6 111.9h0.9M422.2 115.2h0.9M426.6 113.7h0.9M425.3 114.5h0.9M423.9 122.3h0.9M414.4 127.6h0.9M416.4 128.8h0.9M415.1 125.0h0.9M420.6 125.8h0.9M413.4 128.2h0.9M416.3 123.1h0.9M414.6 126.5h0.9M417.2 118.0h0.9M418.2 118.6h0.9M424.1 126.8h0.9M413.7 127.7h0.9M419.9 125.7h0.9M412.9 121.4h0.9M410.6 131.9h0.9M422.9 123.0h0.9M417.7 126.7h0.9M416.0 131.0h0.9M417.5 121.3h0.9M423.9 124.8h0.9M412.0 124.6h0.9M411.2 125.7h0.9M419.7 123.3h0.9M418.8 123.6h0.9M425.3 115.0h0.9M407.5 124.8h0.9M419.3 119.5h0.9M418.8 124.6h0.9M418.7 116.5h0.9M414.1 127.9h0.9M420.9 125.5h0.9M412.2 121.0h0.9M422.5 112.3h0.9M414.7 128.6h0.9M418.5 133.4h0.9M421.7 122.0h0.9M421.4 129.3h0.9M420.8 117.8h0.9M422.8 111.7h0.9M416.6 126.2h0.9M418.1 119.6h0.9M431.2 116.3h0.9M414.8 128.4h0.9M414.8 125.0h0.9M425.1 116.9h0.9M418.9 123.1h0.9M415.3 131.5h0.9M417.8 129.2h0.9M415.8 124.0h0.9M428.0 114.2h0.9M414.6 124.9h0.9M426.6 122.6h0.9M421.9 118.0h0.9M411.6 127.3h0.9M419.1 123.5h0.9M418.3 128.6h0.9M412.5 126.3h0.9M423.1 120.4h0.9M419.1 126.5h0.9M414.8 133.7h0.9M435.6 113.8h0.9M424.0 125.6h0.9M422.4 124.7h0.9M418.6 123.8h0.9M418.6 115.8h0.9M421.7 127.0h0.9M425.1 117.7h0.9M423.3 124.0h0.9M417.3 116.5h0.9M413.4 127.1h0.9M419.2 120.6h0.9M422.2 126.3h0.9M425.8 118.2h0.9M419.5 122.3h0.9M421.8 120.7h0.9M416.9 128.0h0.9M414.6 126.9h0.9M414.9 122.0h0.9M422.5 118.7h0.9M412.6 128.8h0.9M414.5 133.1h0.9M426.3 123.4h0.9M417.6 127.0h0.9M412.1 126.1h0.9M419.7 123.6h0.9M423.9 116.5h0.9M427.5 118.0h0.9M414.0 126.9h0.9M417.7 131.0h0.9M418.0 127.2h0.9M423.9 116.6h0.9M417.3 125.8h0.9M412.4 124.1h0.9M414.6 128.5h0.9M424.0 124.8h0.9M410.1 133.7h0.9M415.2 131.2h0.9M423.4 118.6h0.9M426.8 113.2h0.9M414.2 123.2h0.9M415.9 126.3h0.9M425.7 121.1h0.9M416.3 122.3h0.9M416.6 123.3h0.9M415.9 124.1h0.9M414.3 127.1h0.9M416.1 124.9h0.9M411.9 130.5h0.9M423.8 120.4h0.9M413.9 123.1h0.9M409.6 127.3h0.9M415.1 125.3h0.9M410.8 133.7h0.9M409.3 129.6h0.9M417.0 128.1h0.9M428.8 111.2h0.9M417.0 123.1h0.9M417.8 123.1h0.9M430.8 106.1h0.9M417.1 121.3h0.9M420.2 119.2h0.9M420.3 116.9h0.9M431.5 110.8h0.9M410.9 133.7h0.9M414.3 122.6h0.9M420.7 118.8h0.9M422.3 117.0h0.9M424.6 117.5h0.9M421.6 120.6h0.9M416.5 123.6h0.9M423.3 121.2h0.9M421.6 129.1h0.9M426.3 110.5h0.9M425.2 116.0h0.9M419.0 119.4h0.9M426.8 111.3h0.9M417.4 121.3h0.9M432.6 113.9h0.9M411.1 128.8h0.9M420.4 119.4h0.9M415.1 122.1h0.9M418.5 118.7h0.9M428.8 122.4h0.9M420.9 127.4h0.9M420.0 118.9h0.9M415.4 122.3h0.9M421.4 123.1h0.9M423.9 116.5h0.9M412.5 128.9h0.9M429.1 113.4h0.9M414.7 118.5h0.9M418.0 125.8h0.9M416.8 130.3h0.9M414.4 123.7h0.9M415.9 125.4h0.9M423.7 115.6h0.9M409.3 132.2h0.9M425.3 122.4h0.9M416.1 131.6h0.9M424.0 119.4h0.9M413.3 124.9h0.9M415.9 129.5h0.9M422.7 123.2h0.9M429.4 112.1h0.9M422.9 126.4h0.9M411.2 128.7h0.9M416.5 123.6h0.9M418.4 119.8h0.9M423.0 113.1h0.9M411.4 123.5h0.9M412.8 131.3h0.9M422.4 118.4h0.9M425.2 118.8h0.9M416.0 125.5h0.9M425.4 124.3h0.9M417.6 125.5h0.9M424.8 121.7h0.9M423.8 122.1h0.9M412.9 127.8h0.9M408.5 133.1h0.9M432.7 109.7h0.9M420.3 122.3h0.9M417.4 118.9h0.9M415.1 125.8h0.9M418.5 119.6h0.9M417.2 121.4h0.9M410.7 128.4h0.9M416.6 128.5h0.9M427.9 115.9h0.9M417.0 122.4h0.9M409.6 130.1h0.9M430.3 115.8h0.9M420.1 120.6h0.9M420.2 123.1h0.9M420.1 123.2h0.9M415.2 126.7h0.9M419.6 126.4h0.9M415.1 131.8h0.9M417.8 121.8h0.9M419.7 122.4h0.9M418.9 124.5h0.9M412.7 122.2h0.9M423.1 118.4h0.9M429.3 113.7h0.9M410.8 136.0h0.9M416.6 127.3h0.9M433.8 112.0h0.9M413.1 128.3h0.9M411.8 132.6h0.9M420.3 117.1h0.9M423.7 121.6h0.9M422.4 116.5h0.9M413.2 124.0h0.9M412.8 130.2h0.9M422.2 124.7h0.9M420.2 120.1h0.9M414.6 133.4h0.9M420.2 121.3h0.9M411.7 125.9h0.9M420.8 116.8h0.9M423.8 120.3h0.9M413.9 121.2h0.9M424.4 122.8h0.9M412.2 124.4h0.9M425.6 116.5h0.9M418.4 128.2h0.9M418.7 124.8h0.9M415.6 123.1h0.9M418.8 119.4h0.9M408.5 131.2h0.9M428.3 117.6h0.9M433.3 112.1h0.9M428.7 113.8h0.9M417.9 125.7h0.9M415.6 129.1h0.9M417.4 125.3h0.9M414.4 126.8h0.9M424.3 116.4h0.9M416.2 126.6h0.9M423.8 117.0h0.9M409.8 125.8h0.9M414.1 131.9h0.9M419.8 123.8h0.9M425.8 116.9h0.9M421.0 118.6h0.9M411.7 132.6h0.9M419.9 124.0h0.9M413.2 128.0h0.9M428.7 109.4h0.9M422.5 124.4h0.9M418.3 123.9h0.9M409.2 135.8h0.9M419.5 127.3h0.9M418.1 122.1h0.9M421.2 119.4h0.9M419.6 128.2h0.9M424.9 117.0h0.9M425.4 119.4h0.9M422.6 119.2h0.9M420.5 122.7h0.9M423.1 119.9h0.9M416.2 125.3h0.9M419.9 117.8h0.9M420.8 123.9h0.9M419.7 120.8h0.9M418.2 121.5h0.9M424.0 116.1h0.9M407.8 129.3h0.9M421.4 121.1h0.9M414.1 122.4h0.9M416.8 121.5h0.9M415.7 126.0h0.9M415.7 127.2h0.9M414.3 125.6h0.9M421.0 126.5h0.9M429.9 115.4h0.9M415.3 126.5h0.9M425.9 118.8h0.9M410.3 131.3h0.9M416.8 127.9h0.9M421.8 117.7h0.9M430.5 109.8h0.9M432.4 108.4h0.9M422.6 126.5h0.9M415.5 124.4h0.9M427.4 114.0h0.9M419.5 117.2h0.9M431.1 114.3h0.9M422.7 121.7h0.9M415.7 124.2h0.9M411.4 131.8h0.9M427.8 117.1h0.9M425.8 118.6h0.9M411.7 124.9h0.9M423.2 119.1h0.9M424.2 116.3h0.9M415.4 128.1h0.9M413.0 122.3h0.9M414.3 124.0h0.9M412.1 127.5h0.9M429.2 121.6h0.9M428.0 111.9h0.9M425.5 115.8h0.9M420.2 118.8h0.9M415.6 119.5h0.9M427.7 110.8h0.9M421.4 117.9h0.9M418.5 118.5h0.9M419.1 126.2h0.9M418.8 115.3h0.9M421.4 115.0h0.9M421.9 121.7h0.9M415.2 125.3h0.9M418.8 124.5h0.9M427.0 119.9h0.9M425.1 124.4h0.9M417.6 131.1h0.9M419.4 125.3h0.9M418.8 123.2h0.9M415.1 128.2h0.9M430.7 111.3h0.9M419.2 122.5h0.9M422.8 118.0h0.9M419.7 122.8h0.9M428.4 116.9h0.9M412.3 127.0h0.9M421.1 123.9h0.9M424.2 116.5h0.9M430.7 110.1h0.9M429.8 117.2h0.9M428.5 113.8h0.9M419.5 116.2h0.9M408.4 131.1h0.9M425.4 120.4h0.9M420.8 124.9h0.9M425.5 122.0h0.9M409.0 129.6h0.9M412.0 125.7h0.9M426.6 111.3h0.9M414.0 126.2h0.9M423.3 116.5h0.9M424.5 119.3h0.9M411.2 121.3h0.9M411.8 125.1h0.9M426.9 111.8h0.9M414.2 129.0h0.9M417.8 120.2h0.9M427.1 118.0h0.9M419.4 119.3h0.9M410.5 123.3h0.9M422.2 120.9h0.9M414.3 127.5h0.9M411.2 133.1h0.9M416.0 123.8h0.9M422.5 118.6h0.9M425.8 117.8h0.9M425.9 116.1h0.9M410.1 137.0h0.9M412.0 133.9h0.9M418.0 118.2h0.9M421.4 123.7h0.9M413.8 128.1h0.9M413.3 124.5h0.9M418.4 128.2h0.9M423.0 118.4h0.9M419.1 123.0h0.9M421.3 121.1h0.9M411.7 133.7h0.9M409.5 122.1h0.9M420.8 116.1h0.9M418.4 122.9h0.9M417.1 126.7h0.9M417.3 123.3h0.9M413.5 127.1h0.9M413.7 128.2h0.9M428.6 116.9h0.9M419.0 117.3h0.9M426.8 118.4h0.9M426.2 106.4h0.9M418.8 121.6h0.9M423.2 114.1h0.9M421.8 128.9h0.9M420.9 112.9h0.9M422.1 124.8h0.9M417.1 126.9h0.9M417.0 118.9h0.9M418.1 128.0h0.9M424.7 114.5h0.9M424.1 114.6h0.9M420.6 120.9h0.9M413.1 129.9h0.9M411.8 119.2h0.9M413.1 125.3h0.9M412.8 125.1h0.9M410.7 121.4h0.9M424.4 117.5h0.9M420.2 120.4h0.9M419.2 121.4h0.9M410.3 125.5h0.9M421.7 123.9h0.9M423.8 124.1h0.9M411.3 129.5h0.9M418.3 128.2h0.9M427.6 111.8h0.9M422.9 117.7h0.9M413.6 127.7h0.9M416.6 131.2h0.9M424.9 121.3h0.9M416.5 115.6h0.9M423.9 118.0h0.9M406.4 135.9h0.9M428.3 120.0h0.9M415.2 129.6h0.9M420.8 120.1h0.9M418.8 124.9h0.9M423.8 120.4h0.9M414.5 122.0h0.9M429.1 117.4h0.9M416.1 125.4h0.9M420.3 114.4h0.9M426.8 124.2h0.9M419.4 119.4h0.9M430.6 110.9h0.9M419.6 120.3h0.9M416.8 117.8h0.9M409.3 126.6h0.9M424.1 117.1h0.9M421.6 111.9h0.9M418.9 128.5h0.9M411.2 123.1h0.9M414.5 125.8h0.9M421.8 124.9h0.9M429.7 117.9h0.9M421.5 118.1h0.9M413.6 122.2h0.9M428.8 117.6h0.9M418.0 120.1h0.9M424.0 119.5h0.9M417.9 119.2h0.9M419.5 119.9h0.9M424.6 119.3h0.9M420.9 119.0h0.9M429.2 115.3h0.9M428.0 116.8h0.9M423.7 119.3h0.9M409.8 124.8h0.9M415.4 128.7h0.9M424.7 117.6h0.9M423.4 125.4h0.9M413.6 121.1h0.9M410.1 130.3h0.9M424.6 119.8h0.9M419.7 125.1h0.9M417.6 121.2h0.9M418.7 125.9h0.9M422.3 114.8h0.9M414.1 128.1h0.9M428.7 108.1h0.9M413.2 130.1h0.9M420.9 118.3h0.9M420.1 123.4h0.9M409.7 132.0h0.9M424.4 120.7h0.9M425.6 115.6h0.9M414.0 133.0h0.9M422.3 116.7h0.9M427.1 118.5h0.9M413.9 118.5h0.9M415.2 123.4h0.9M414.5 126.8h0.9M414.1 129.1h0.9M427.3 109.4h0.9M424.0 115.4h0.9M422.0 119.0h0.9M424.9 113.7h0.9M421.8 116.7h0.9M420.5 121.0h0.9M422.2 113.1h0.9M414.6 132.6h0.9M424.8 123.4h0.9M414.1 128.5h0.9M426.1 122.4h0.9M418.1 121.7h0.9M423.0 118.1h0.9M416.7 128.0h0.9M406.8 131.0h0.9M425.8 113.7h0.9M418.3 124.8h0.9M426.5 117.1h0.9M412.9 126.6h0.9M424.8 116.2h0.9M417.6 127.5h0.9M429.9 120.2h0.9M412.0 126.9h0.9M416.2 126.9h0.9M418.9 127.1h0.9M406.5 139.2h0.9M415.2 125.4h0.9M422.8 119.5h0.9M416.7 130.9h0.9M421.5 118.1h0.9M418.3 119.0h0.9M412.0 128.6h0.9M421.5 120.5h0.9M412.3 123.9h0.9M413.3 134.8h0.9M419.7 118.7h0.9M426.9 116.7h0.9M415.8 123.4h0.9M426.2 116.6h0.9M429.0 113.9h0.9M414.9 124.4h0.9M416.0 126.7h0.9M421.9 122.1h0.9M419.7 117.7h0.9M416.3 121.6h0.9M419.3 117.1h0.9M414.4 123.9h0.9M415.4 125.2h0.9M427.1 113.4h0.9M410.9 129.7h0.9M424.5 119.2h0.9M424.6 124.9h0.9M425.5 116.3h0.9M423.3 112.9h0.9M416.7 121.6h0.9M423.5 124.5h0.9M419.8 128.2h0.9M416.6 130.8h0.9M408.4 130.0h0.9M424.6 116.6h0.9M420.1 121.5h0.9M419.9 120.9h0.9M413.4 127.2h0.9M418.1 119.9h0.9M425.3 123.1h0.9M409.3 130.3h0.9M417.8 123.9h0.9M418.4 120.4h0.9M419.1 122.5h0.9M421.9 125.8h0.9M417.1 118.7h0.9M411.9 132.1h0.9M416.2 123.0h0.9M411.3 129.2h0.9M417.4 121.5h0.9M419.1 126.0h0.9M424.7 119.0h0.9M415.7 120.6h0.9M426.5 120.9h0.9M428.6 117.5h0.9M421.6 121.5h0.9M421.7 124.8h0.9M422.1 128.0h0.9M422.9 117.4h0.9M416.1 119.2h0.9M414.7 125.8h0.9M431.0 107.1h0.9M424.5 117.4h0.9M418.9 125.2h0.9M410.3 135.2h0.9M430.4 112.2h0.9M419.3 123.0h0.9M421.9 117.7h0.9M421.0 122.6h0.9M418.2 125.0h0.9M422.5 121.8h0.9M412.9 126.7h0.9M419.4 127.0h0.9M417.4 117.7h0.9M416.2 133.2h0.9M418.6 117.9h0.9M414.6 127.6h0.9M430.3 117.6h0.9M416.7 123.7h0.9M427.8 109.7h0.9M428.5 114.3h0.9M422.4 124.3h0.9M420.3 118.0h0.9M411.0 130.8h0.9M424.8 122.1h0.9M407.7 139.4h0.9M425.7 121.8h0.9M424.1 118.3h0.9M422.4 120.7h0.9M415.7 125.6h0.9M419.1 120.7h0.9M408.5 127.6h0.9M423.1 120.5h0.9M417.6 119.4h0.9M423.2 116.8h0.9M411.1 136.9h0.9M415.7 135.0h0.9M421.3 118.5h0.9M405.1 134.0h0.9M430.1 116.7h0.9M417.3 117.5h0.9M416.7 123.9h0.9M421.6 119.5h0.9M417.9 117.2h0.9M418.7 128.7h0.9M413.2 132.2h0.9M433.2 110.8h0.9M414.2 132.4h0.9M409.9 133.2h0.9M419.5 127.0h0.9M426.1 116.1h0.9M431.0 114.3h0.9M414.7 123.0h0.9M431.9 107.9h0.9M421.3 119.8h0.9M413.5 121.8h0.9M418.3 122.9h0.9M423.6 115.9h0.9M408.6 128.9h0.9M419.6 123.0h0.9M422.5 117.5h0.9M422.5 119.6h0.9M428.4 112.8h0.9M421.2 122.6h0.9M424.1 113.7h0.9M416.2 124.4h0.9M410.3 136.7h0.9M425.2 116.4h0.9M433.4 114.2h0.9M421.4 114.5h0.9M428.5 114.6h0.9M412.9 129.0h0.9M425.4 120.0h0.9M419.2 120.3h0.9M422.0 116.6h0.9M420.4 124.2h0.9M412.2 131.0h0.9M406.8 131.3h0.9M412.4 128.9h0.9M423.1 118.2h0.9M424.5 117.4h0.9M419.2 124.4h0.9M418.3 123.9h0.9M423.8 115.4h0.9M423.4 113.7h0.9M414.6 120.1h0.9M419.6 128.4h0.9M423.8 122.8h0.9M409.3 128.5h0.9M423.5 121.3h0.9M420.5 114.4h0.9M421.9 119.3h0.9M420.9 122.6h0.9M414.4 120.5h0.9M410.6 125.4h0.9M411.9 129.3h0.9M425.0 113.6h0.9M412.8 124.3h0.9M410.0 132.0h0.9M416.2 124.5h0.9M415.0 128.6h0.9M413.8 130.0h0.9M417.3 127.5h0.9M415.3 128.1h0.9M421.5 119.7h0.9M428.6 113.6h0.9M415.8 128.6h0.9M413.7 125.8h0.9M419.7 122.6h0.9M425.1 109.4h0.9M420.2 125.9h0.9M419.1 123.8h0.9M425.2 111.4h0.9M421.1 123.6h0.9M412.6 122.1h0.9M414.2 128.2h0.9M424.0 124.9h0.9M423.5 111.9h0.9M426.8 118.3h0.9M427.8 113.0h0.9M416.6 125.7h0.9M429.0 114.9h0.9M430.1 114.4h0.9M414.1 123.6h0.9M426.4 109.0h0.9M416.8 123.6h0.9M413.2 126.2h0.9M424.1 126.9h0.9M417.9 121.6h0.9M421.9 123.5h0.9M414.0 126.0h0.9M411.2 133.4h0.9M426.0 121.5h0.9M417.1 133.2h0.9M423.5 116.9h0.9M416.5 123.9h0.9M414.2 130.6h0.9M414.5 124.3h0.9M422.3 119.6h0.9M415.6 125.1h0.9M419.3 127.7h0.9M423.3 115.3h0.9M421.8 125.2h0.9M421.3 127.4h0.9M423.1 121.1h0.9M409.6 135.5h0.9M422.3 121.6h0.9M423.0 120.7h0.9M418.3 126.9h0.9M417.5 119.9h0.9M414.1 128.3h0.9M416.7 116.1h0.9M410.1 135.8h0.9M424.9 128.0h0.9M410.4 130.3h0.9M417.1 126.7h0.9M430.2 117.6h0.9M416.3 130.3h0.9M413.3 129.7h0.9M421.5 122.6h0.9M417.6 129.4h0.9M418.9 122.6h0.9M415.7 121.7h0.9M423.9 118.9h0.9M425.5 123.4h0.9M414.0 126.6h0.9M421.1 123.9h0.9M420.2 125.1h0.9M418.3 116.3h0.9M411.5 122.1h0.9M416.9 123.1h0.9M422.9 119.4h0.9M421.5 125.1h0.9M420.1 116.6h0.9M416.2 126.8h0.9M428.2 112.4h0.9M418.9 123.8h0.9M423.4 117.8h0.9M420.1 119.8h0.9M414.7 123.8h0.9M421.8 117.5h0.9M423.1 120.0h0.9M419.2 111.6h0.9M411.6 125.3h0.9M420.0 124.8h0.9M436.3 111.2h0.9M427.5 115.5h0.9M418.3 125.5h0.9M409.2 136.3h0.9M420.6 123.5h0.9M411.5 125.9h0.9M415.7 125.8h0.9M420.5 119.7h0.9M422.6 121.7h0.9M412.7 128.6h0.9M409.7 129.9h0.9M422.8 115.8h0.9M430.5 112.9h0.9M424.4 117.5h0.9M426.2 119.6h0.9M418.8 120.7h0.9M420.2 129.2h0.9M417.4 122.4h0.9M412.0 122.9h0.9M417.2 125.7h0.9M415.1 123.5h0.9M422.5 120.9h0.9M417.5 125.3h0.9M415.7 129.4h0.9M413.2 127.1h0.9M419.2 120.7h0.9M417.2 132.8h0.9M424.1 110.4h0.9M417.4 119.1h0.9M418.4 118.0h0.9M423.6 120.1h0.9M431.1 115.2h0.9M418.7 126.7h0.9M416.6 124.6h0.9M413.0 121.6h0.9M418.5 114.9h0.9M419.1 124.7h0.9M416.8 118.5h0.9M417.1 127.3h0.9M428.5 119.3h0.9M410.3 133.3h0.9M418.2 126.5h0.9M409.8 131.4h0.9M421.9 117.1h0.9M415.3 122.4h0.9M422.7 113.5h0.9M413.6 126.7h0.9M421.8 128.2h0.9M419.1 119.1h0.9M423.2 119.7h0.9M420.7 120.6h0.9M419.5 117.4h0.9M411.9 128.2h0.9M414.7 129.8h0.9M432.4 113.9h0.9M422.4 120.5h0.9M412.9 123.5h0.9M419.3 116.3h0.9M420.7 120.3h0.9M423.5 118.2h0.9M418.7 120.6h0.9M409.2 131.2h0.9M425.2 120.5h0.9M424.8 112.6h0.9M415.6 128.9h0.9M422.0 129.9h0.9M418.0 117.5h0.9M419.4 128.5h0.9M409.6 132.8h0.9M414.9 133.2h0.9M414.8 122.8h0.9M408.5 130.4h0.9M404.3 135.6h0.9M431.4 110.3h0.9M415.5 121.5h0.9M420.2 119.5h0.9M417.4 129.8h0.9M419.9 118.1h0.9M427.3 113.9h0.9M422.4 119.8h0.9M427.0 116.9h0.9M418.8 125.7h0.9M417.4 124.7h0.9M426.2 111.0h0.9M412.8 127.3h0.9M419.2 127.7h0.9M415.2 135.7h0.9M427.1 112.6h0.9M419.6 120.5h0.9M424.3 119.9h0.9M425.0 119.6h0.9M429.6 111.2h0.9M422.8 118.0h0.9M420.0 122.5h0.9M419.7 123.3h0.9M414.3 126.7h0.9M413.6 123.4h0.9M414.4 125.3h0.9M415.3 120.0h0.9M415.6 121.5h0.9M415.2 127.2h0.9M426.0 116.7h0.9M415.7 124.2h0.9M423.4 111.6h0.9M422.5 113.0h0.9M415.9 125.9h0.9M421.4 126.8h0.9M421.9 119.4h0.9M424.6 117.1h0.9M417.1 129.0h0.9M430.1 116.5h0.9M416.7 132.6h0.9M418.6 126.2h0.9M430.6 120.4h0.9M408.4 129.3h0.9M426.8 116.7h0.9M411.7 118.2h0.9M421.3 119.5h0.9M410.4 142.2h0.9M404.4 135.2h0.9M419.7 122.8h0.9M422.9 117.6h0.9M413.6 126.6h0.9M405.5 131.8h0.9M428.8 109.9h0.9M422.7 126.5h0.9M425.3 116.7h0.9M422.8 117.7h0.9M416.4 129.3h0.9M423.3 124.7h0.9M417.1 123.0h0.9M420.8 120.0h0.9M415.8 122.3h0.9M421.4 121.5h0.9M429.3 112.0h0.9M410.6 133.0h0.9M431.0 108.6h0.9M414.6 126.4h0.9M402.9 137.6h0.9M415.2 120.3h0.9M420.7 117.3h0.9M407.7 131.2h0.9M426.7 122.6h0.9M426.6 115.7h0.9M416.0 124.6h0.9M423.6 115.9h0.9M423.5 121.9h0.9M413.1 126.2h0.9M421.8 119.8h0.9M417.5 121.9h0.9M422.7 126.3h0.9M423.5 111.5h0.9M419.7 122.2h0.9M416.7 119.3h0.9M418.9 123.3h0.9M416.2 126.7h0.9M402.8 132.9h0.9M420.7 122.5h0.9M417.5 122.3h0.9M422.5 123.4h0.9M424.1 117.1h0.9M418.9 127.0h0.9M424.1 121.0h0.9M416.0 122.1h0.9M419.1 120.0h0.9M427.4 117.6h0.9M408.6 135.8h0.9M428.7 116.9h0.9M415.0 123.2h0.9M426.7 118.9h0.9M417.3 119.7h0.9M411.4 131.4h0.9M413.4 125.6h0.9M423.9 121.9h0.9M406.6 132.5h0.9M426.4 114.9h0.9M418.7 125.5h0.9M410.6 126.2h0.9M422.6 125.3h0.9M424.9 116.6h0.9M424.0 115.8h0.9M409.4 125.6h0.9M422.6 122.6h0.9M421.3 120.1h0.9M419.3 126.7h0.9M416.1 119.7h0.9M425.5 113.3h0.9M421.5 120.1h0.9M425.6 116.9h0.9M426.5 115.8h0.9M415.7 123.9h0.9M421.2 117.0h0.9M423.9 116.6h0.9M412.4 125.8h0.9M422.1 126.6h0.9M423.6 118.0h0.9M418.2 131.2h0.9M417.8 123.9h0.9M419.7 127.3h0.9M419.3 120.4h0.9M418.3 119.3h0.9M413.2 127.9h0.9M405.8 140.8h0.9M428.0 108.9h0.9M415.3 120.0h0.9M420.7 121.8h0.9M420.7 115.5h0.9M414.7 124.4h0.9M422.6 128.2h0.9M418.1 123.3h0.9M418.1 126.7h0.9M435.8 110.2h0.9M425.6 111.6h0.9M425.2 116.4h0.9M428.3 117.4h0.9M419.5 115.3h0.9M419.0 120.6h0.9M421.8 119.9h0.9M421.8 113.2h0.9M415.1 126.3h0.9M420.2 119.7h0.9M419.3 122.6h0.9M424.8 116.2h0.9M416.9 117.3h0.9M401.9 134.1h0.9M416.6 115.7h0.9M421.4 119.8h0.9M417.8 120.8h0.9M418.7 126.3h0.9M421.2 120.2h0.9M417.0 125.5h0.9M425.8 115.6h0.9M414.9 122.0h0.9M418.0 119.9h0.9M413.1 132.1h0.9M411.7 121.7h0.9M419.1 130.0h0.9M416.0 120.3h0.9M414.7 129.9h0.9M422.0 120.4h0.9M419.2 124.4h0.9M428.8 114.6h0.9M415.6 120.4h0.9M424.9 122.9h0.9M420.3 116.2h0.9M423.0 123.9h0.9M416.8 126.9h0.9M429.3 118.8h0.9M407.0 127.7h0.9M422.8 121.6h0.9M417.3 124.2h0.9M419.5 127.0h0.9M407.6 135.2h0.9M410.9 128.1h0.9M409.0 129.1h0.9M419.2 122.5h0.9M428.7 111.8h0.9M421.9 121.1h0.9M423.7 123.8h0.9M420.4 121.8h0.9M418.7 122.9h0.9M421.0 124.6h0.9M419.5 122.3h0.9M420.6 124.1h0.9M418.6 126.8h0.9M417.6 126.9h0.9M430.4 112.0h0.9M416.4 120.4h0.9M423.4 118.2h0.9M423.0 115.9h0.9M425.9 123.0h0.9M420.9 119.4h0.9M412.1 129.6h0.9M424.2 119.8h0.9M411.0 126.5h0.9M411.8 125.7h0.9M418.3 124.4h0.9M430.3 111.9h0.9M424.0 110.8h0.9M429.5 115.2h0.9M423.4 121.5h0.9M426.6 122.7h0.9M420.2 114.3h0.9M412.9 135.4h0.9M421.5 125.4h0.9M416.1 122.9h0.9M418.0 124.9h0.9M419.1 120.0h0.9M423.5 120.5h0.9M411.9 125.2h0.9M407.8 132.7h0.9M417.9 120.8h0.9M415.7 125.4h0.9M420.6 123.3h0.9M424.8 118.5h0.9M423.5 114.1h0.9M423.4 119.6h0.9M412.1 126.8h0.9M421.9 120.0h0.9M411.2 128.3h0.9M429.5 115.4h0.9M422.5 124.5h0.9M413.9 127.1h0.9M423.9 116.2h0.9M414.3 129.8h0.9M423.0 108.2h0.9M417.6 118.9h0.9M414.8 121.1h0.9M432.3 106.3h0.9M418.1 120.6h0.9M412.9 127.0h0.9M424.0 124.6h0.9M424.1 123.8h0.9M413.5 128.5h0.9M413.7 121.6h0.9M419.1 119.4h0.9M414.0 123.5h0.9M424.2 115.7h0.9M418.9 123.5h0.9M413.0 129.7h0.9M419.3 124.2h0.9M417.2 124.5h0.9M424.1 121.3h0.9M417.5 128.1h0.9M413.5 127.5h0.9M420.3 121.9h0.9M403.5 134.4h0.9M420.2 125.2h0.9M418.5 129.3h0.9M409.5 132.6h0.9M422.3 119.3h0.9M422.7 122.7h0.9M416.0 128.0h0.9M424.7 115.8h0.9M404.0 133.0h0.9M412.4 125.0h0.9M420.0 118.3h0.9M434.2 109.5h0.9M411.5 129.1h0.9M429.2 115.0h0.9M415.8 130.1h0.9M421.2 129.4h0.9M417.5 126.6h0.9M421.5 118.2h0.9M420.8 125.5h0.9M421.9 119.4h0.9M425.3 123.3h0.9M425.4 118.0h0.9M417.9 117.3h0.9M419.1 120.6h0.9M422.1 117.0h0.9M419.6 117.7h0.9M422.8 115.8h0.9M420.3 123.6h0.9M417.5 124.1h0.9M428.8 119.9h0.9M407.5 130.7h0.9M425.0 120.4h0.9M416.9 125.2h0.9M422.9 128.0h0.9M415.8 121.0h0.9M408.1 128.5h0.9M425.7 114.2h0.9M431.4 112.6h0.9M422.7 121.4h0.9M425.6 119.7h0.9M412.8 126.7h0.9M416.5 125.6h0.9M415.4 121.2h0.9M419.1 129.8h0.9M429.3 108.6h0.9M421.3 120.1h0.9M416.1 128.5h0.9M422.3 126.0h0.9M421.2 119.1h0.9M404.4 137.0h0.9M422.5 116.1h0.9M425.6 118.7h0.9M409.1 131.9h0.9M422.6 122.0h0.9M420.1 121.4h0.9M416.8 123.7h0.9M417.1 120.1h0.9M422.2 118.0h0.9M421.2 118.3h0.9M421.8 120.2h0.9M425.2 118.2h0.9M424.1 116.7h0.9M418.5 122.1h0.9M412.1 129.1h0.9M426.9 117.7h0.9M415.2 127.7h0.9M420.7 115.3h0.9M421.9 121.0h0.9M424.0 118.6h0.9M405.5 128.1h0.9M429.5 110.3h0.9M428.9 117.7h0.9M417.5 119.5h0.9M426.8 114.5h0.9M423.2 120.3h0.9M426.6 119.0h0.9M408.6 127.5h0.9M420.1 121.5h0.9M423.3 117.6h0.9M422.4 127.4h0.9M429.3 116.9h0.9M423.4 114.9h0.9M418.7 122.6h0.9M411.5 126.7h0.9M417.7 119.0h0.9M423.3 120.2h0.9M417.3 122.9h0.9M423.6 119.9h0.9M418.8 117.8h0.9M414.5 135.5h0.9M414.9 125.2h0.9M407.6 131.0h0.9M416.9 128.0h0.9M401.8 134.4h0.9M416.0 123.6h0.9M414.1 125.8h0.9M411.1 131.7h0.9M426.2 115.9h0.9M418.9 127.9h0.9M419.9 117.5h0.9M414.9 124.3h0.9M421.5 125.0h0.9M415.1 126.0h0.9M417.5 119.3h0.9M417.9 126.2h0.9M421.8 112.2h0.9M422.6 117.7h0.9M427.7 116.3h0.9M430.8 111.8h0.9M415.4 122.9h0.9M412.5 131.5h0.9M423.8 121.0h0.9M418.2 117.3h0.9M416.6 124.1h0.9M421.7 122.9h0.9M427.7 114.9h0.9M405.8 131.9h0.9M405.9 132.8h0.9M413.1 129.5h0.9M420.3 125.8h0.9M424.4 115.3h0.9M424.6 117.0h0.9M424.6 122.4h0.9M412.8 128.6h0.9M426.3 112.1h0.9M420.8 121.3h0.9M414.3 122.0h0.9M413.5 124.2h0.9M425.8 116.7h0.9M420.8 116.0h0.9M422.4 119.8h0.9M423.6 114.9h0.9M426.6 120.5h0.9M427.4 110.3h0.9M410.1 125.7h0.9M425.8 118.1h0.9M419.4 118.6h0.9M429.5 118.4h0.9M418.9 122.3h0.9M426.9 116.6h0.9M425.9 113.9h0.9M420.5 119.7h0.9M415.5 124.9h0.9M418.8 124.9h0.9M417.8 124.2h0.9M412.3 124.4h0.9M425.2 112.3h0.9M431.3 113.9h0.9M405.3 133.9h0.9M417.0 124.7h0.9M417.1 122.1h0.9M426.0 115.0h0.9M423.2 115.5h0.9M418.2 128.8h0.9M415.5 121.7h0.9M420.5 125.3h0.9M417.0 121.8h0.9M424.8 120.7h0.9M417.5 122.8h0.9M422.8 129.7h0.9M421.8 126.8h0.9M419.3 123.9h0.9M408.4 134.1h0.9M419.0 121.4h0.9M414.3 121.9h0.9M411.4 131.0h0.9M415.6 125.7h0.9M417.3 122.3h0.9M419.0 130.1h0.9M412.2 127.5h0.9M415.3 121.7h0.9M415.7 129.4h0.9M424.7 117.3h0.9M424.5 113.7h0.9M428.7 119.5h0.9M420.9 128.0h0.9M412.6 124.6h0.9M417.4 120.9h0.9M420.6 116.5h0.9M415.8 117.9h0.9M421.3 124.6h0.9M418.5 124.4h0.9M423.1 114.0h0.9M412.4 129.6h0.9M420.3 120.2h0.9M416.4 130.2h0.9M412.4 128.3h0.9M420.5 124.0h0.9M415.2 123.2h0.9M428.8 109.3h0.9M423.4 117.5h0.9M416.6 124.9h0.9M418.5 124.3h0.9M405.2 136.6h0.9M417.8 119.9h0.9M421.9 129.1h0.9M430.8 113.2h0.9M420.0 120.4h0.9M426.1 113.6h0.9M416.2 128.3h0.9M412.4 126.2h0.9M424.1 110.9h0.9M419.2 122.9h0.9M417.8 117.9h0.9M417.4 122.9h0.9M432.0 113.4h0.9M416.9 128.3h0.9M422.7 118.4h0.9M417.4 123.1h0.9M409.5 129.7h0.9M427.4 119.9h0.9M428.8 111.1h0.9M417.9 114.0h0.9M415.3 121.3h0.9M420.5 114.4h0.9M411.3 126.0h0.9M423.2 121.7h0.9M417.9 131.0h0.9M418.5 119.7h0.9M421.2 120.3h0.9M424.6 118.3h0.9M433.8 112.3h0.9M417.4 127.4h0.9M421.5 116.0h0.9M413.6 124.9h0.9M406.9 137.4h0.9M420.6 125.9h0.9M416.4 125.6h0.9M425.3 120.1h0.9M419.0 118.4h0.9M433.3 111.6h0.9M430.1 117.8h0.9M427.9 115.2h0.9M423.2 120.9h0.9M412.7 132.3h0.9M414.8 128.6h0.9M415.2 129.4h0.9M421.7 129.9h0.9M421.4 122.2h0.9M413.7 126.8h0.9M418.4 122.0h0.9M415.2 123.0h0.9M422.8 117.2h0.9M415.6 127.6h0.9M414.5 126.5h0.9M414.6 123.3h0.9M416.4 121.9h0.9M413.1 130.0h0.9M414.7 121.0h0.9M417.5 124.9h0.9M422.5 120.6h0.9M421.9 122.0h0.9M415.0 123.5h0.9M421.9 118.0h0.9M420.7 123.5h0.9M427.0 119.4h0.9M414.8 125.4h0.9M419.5 116.3h0.9M413.6 130.5h0.9M414.1 123.9h0.9M424.9 118.8h0.9M423.7 116.4h0.9M417.1 123.2h0.9M416.9 116.6h0.9M416.9 127.5h0.9M414.9 126.5h0.9M421.1 122.6h0.9M414.4 122.7h0.9M431.7 106.8h0.9M425.3 109.2h0.9M419.6 121.2h0.9M433.9 115.6h0.9M422.7 114.8h0.9M413.4 125.3h0.9M417.0 125.7h0.9M414.5 126.2h0.9M430.4 116.8h0.9M407.2 130.8h0.9M419.9 126.9h0.9M421.4 127.9h0.9M424.3 123.0h0.9M414.0 126.5h0.9M426.1 117.7h0.9M408.5 132.2h0.9M421.6 122.5h0.9M419.4 129.3h0.9M423.1 124.3h0.9M421.7 120.2h0.9M415.3 121.7h0.9M425.6 118.9h0.9M423.7 116.3h0.9M413.1 127.1h0.9M417.6 124.0h0.9M422.9 114.9h0.9M418.1 126.3h0.9M428.8 121.5h0.9M420.6 117.6h0.9M412.0 126.5h0.9M420.3 122.3h0.9M417.8 121.4h0.9M418.2 123.1h0.9M422.8 119.1h0.9M412.6 124.5h0.9M427.4 113.8h0.9M418.3 123.2h0.9M424.9 115.3h0.9M419.9 120.8h0.9M420.5 117.0h0.9M422.6 123.1h0.9M427.1 116.8h0.9M424.1 123.7h0.9M426.1 121.0h0.9M410.6 126.8h0.9M423.2 117.2h0.9M415.1 122.8h0.9M425.1 111.6h0.9M417.2 118.9h0.9M422.9 127.6h0.9M431.8 107.6h0.9M417.1 131.1h0.9M411.1 123.5h0.9M419.1 118.2h0.9M413.7 132.6h0.9M413.2 124.2h0.9M419.9 120.9h0.9M425.7 116.1h0.9M430.4 115.6h0.9M431.4 114.5h0.9M420.9 122.9h0.9M416.4 119.0h0.9M414.4 130.3h0.9M404.7 133.8h0.9M412.2 129.3h0.9M414.2 128.5h0.9M417.4 122.4h0.9M410.3 122.6h0.9M417.2 119.3h0.9M418.5 124.6h0.9M426.5 117.7h0.9M424.7 111.2h0.9M426.2 121.5h0.9M419.3 117.8h0.9M420.5 119.0h0.9M418.0 127.9h0.9M416.2 121.0h0.9M419.6 129.9h0.9M416.1 128.3h0.9M422.7 123.5h0.9M416.0 121.9h0.9M413.8 123.8h0.9M434.0 108.1h0.9M420.2 126.5h0.9M422.6 118.2h0.9M423.3 119.3h0.9M428.9 119.2h0.9M417.6 123.9h0.9M420.8 125.6h0.9M423.1 121.6h0.9M423.1 115.9h0.9M422.9 124.2h0.9M426.1 118.7h0.9M417.1 123.1h0.9M414.2 126.5h0.9M416.2 119.8h0.9M424.2 114.2h0.9M422.0 122.0h0.9M412.8 121.7h0.9M425.5 117.6h0.9M420.3 125.8h0.9M422.4 115.3h0.9M415.4 119.2h0.9M420.8 126.5h0.9M416.5 128.5h0.9M410.6 130.0h0.9M428.0 120.3h0.9M423.4 121.2h0.9M423.9 107.8h0.9M413.8 135.4h0.9M434.1 109.6h0.9M420.3 122.4h0.9M418.3 120.8h0.9M419.1 122.0h0.9M424.4 119.8h0.9M425.9 117.9h0.9M416.9 130.3h0.9M405.0 137.3h0.9M420.1 119.3h0.9M427.5 109.6h0.9M412.0 127.7h0.9M423.3 121.4h0.9M421.3 122.9h0.9M414.4 124.9h0.9M417.4 118.8h0.9M419.6 120.4h0.9M421.1 116.4h0.9M415.4 124.0h0.9M415.4 122.3h0.9M415.3 121.0h0.9M423.7 120.6h0.9M418.9 121.9h0.9M412.6 125.3h0.9M416.4 121.6h0.9M413.3 129.1h0.9M418.5 121.5h0.9M414.9 126.6h0.9M414.8 125.2h0.9M421.9 122.6h0.9M422.3 116.8h0.9M423.7 113.2h0.9M421.1 125.7h0.9M432.6 109.3h0.9M416.7 123.5h0.9M412.5 128.6h0.9M415.6 123.1h0.9M424.4 114.1h0.9M430.3 114.5h0.9M421.7 117.5h0.9M412.6 121.1h0.9M420.3 120.2h0.9M420.2 118.7h0.9M419.0 116.6h0.9M408.5 135.2h0.9M425.7 114.4h0.9M415.4 120.1h0.9M415.4 129.1h0.9M415.3 126.2h0.9M422.5 127.0h0.9M421.6 114.7h0.9M414.5 122.6h0.9M410.5 128.5h0.9M425.5 116.2h0.9M422.8 118.2h0.9M417.3 124.7h0.9M422.8 126.4h0.9M429.9 113.0h0.9M418.7 115.0h0.9M423.5 127.6h0.9M416.7 128.2h0.9M425.2 114.7h0.9M417.3 122.6h0.9M423.7 117.9h0.9M429.9 116.3h0.9M424.5 127.4h0.9M416.5 122.7h0.9M416.3 121.8h0.9M417.0 124.4h0.9M421.0 114.2h0.9M410.3 128.4h0.9M418.6 124.8h0.9M418.1 129.5h0.9M416.1 124.7h0.9M422.0 124.2h0.9M421.0 120.6h0.9M416.8 125.5h0.9M420.9 119.3h0.9M415.6 118.7h0.9M418.9 127.5h0.9M426.9 114.3h0.9M411.4 137.7h0.9M423.6 128.2h0.9M419.2 126.5h0.9M418.8 128.3h0.9M423.5 113.8h0.9M432.1 120.7h0.9M415.7 121.1h0.9M420.1 119.9h0.9M409.2 128.4h0.9M417.6 117.9h0.9M426.1 117.2h0.9M421.2 126.0h0.9M415.7 128.7h0.9M411.4 129.0h0.9M421.8 117.7h0.9M420.0 124.1h0.9M430.2 116.4h0.9M421.3 119.2h0.9M415.0 133.6h0.9M425.2 107.7h0.9M424.0 117.4h0.9M423.8 119.0h0.9M418.3 123.3h0.9M421.5 124.7h0.9M416.9 122.6h0.9M424.2 119.9h0.9M422.3 120.4h0.9M429.6 116.3h0.9M420.1 120.7h0.9M419.2 114.9h0.9M415.1 123.7h0.9M419.5 120.5h0.9M434.1 110.2h0.9M426.1 124.5h0.9M418.7 121.6h0.9M427.7 117.1h0.9M426.8 119.6h0.9M416.1 122.9h0.9M415.7 126.4h0.9M422.7 114.7h0.9M413.8 122.5h0.9M431.8 112.8h0.9M418.1 118.6h0.9M412.5 126.6h0.9M417.0 119.6h0.9M420.6 125.9h0.9M419.6 122.4h0.9M407.5 133.2h0.9M417.2 121.7h0.9M411.7 129.7h0.9M412.7 126.8h0.9M410.6 130.8h0.9M422.6 115.6h0.9M458.2 90.2h0.9M431.5 110.4h0.9M438.5 106.2h0.9M445.7 98.8h0.9M467.9 82.7h0.9M440.8 107.5h0.9M464.6 83.8h0.9M451.5 96.8h0.9M441.0 108.8h0.9M459.1 88.3h0.9M432.3 115.6h0.9M442.6 102.6h0.9M444.5 102.7h0.9M463.2 87.3h0.9M457.5 89.0h0.9M440.7 101.8h0.9M434.3 109.2h0.9M433.5 111.0h0.9M431.9 114.5h0.9M442.4 102.1h0.9M453.9 92.2h0.9M428.5 120.3h0.9M456.9 92.0h0.9M437.8 105.9h0.9M454.4 91.2h0.9M466.5 83.8h0.9M448.0 95.5h0.9M437.4 107.6h0.9M467.1 81.8h0.9M449.9 94.2h0.9M466.7 83.9h0.9M459.5 89.5h0.9M433.6 108.7h0.9M429.0 116.3h0.9M430.2 110.4h0.9M433.4 115.4h0.9M458.5 88.6h0.9M466.7 82.2h0.9M432.2 111.2h0.9M459.2 87.4h0.9M458.5 89.6h0.9M458.9 88.5h0.9M429.0 110.0h0.9M455.6 91.7h0.9M457.3 89.2h0.9M437.2 105.9h0.9M461.2 88.0h0.9M432.7 114.3h0.9M429.0 115.1h0.9M436.4 111.1h0.9M455.4 92.5h0.9M434.2 106.5h0.9M451.9 95.3h0.9M428.2 120.3h0.9M463.3 85.3h0.9M446.8 99.2h0.9M464.6 85.3h0.9M446.7 100.0h0.9M445.6 97.5h0.9M448.0 97.1h0.9M439.4 105.9h0.9M435.1 108.3h0.9M456.6 92.3h0.9M444.2 103.9h0.9M431.7 113.2h0.9M456.5 92.0h0.9M441.4 102.5h0.9M466.2 83.9h0.9M452.5 93.4h0.9M431.3 114.2h0.9M442.1 107.2h0.9M452.9 94.7h0.9M448.9 97.9h0.9M432.0 118.2h0.9M449.4 96.9h0.9M433.9 107.1h0.9M454.8 93.2h0.9M453.1 92.6h0.9M445.5 101.6h0.9M452.0 96.2h0.9M430.5 117.5h0.9M428.3 117.4h0.9M447.4 96.0h0.9M442.7 104.8h0.9M462.0 85.4h0.9M446.4 100.5h0.9M431.4 117.8h0.9M465.2 83.9h0.9M434.6 107.2h0.9M435.0 109.2h0.9M454.9 93.9h0.9M448.5 99.2h0.9M443.0 104.3h0.9M428.0 114.7h0.9M428.5 110.7h0.9M459.3 87.4h0.9M438.0 108.0h0.9M447.1 96.1h0.9M431.2 115.5h0.9M442.1 101.2h0.9M445.1 99.8h0.9M468.0 80.8h0.9M433.6 107.1h0.9M448.2 99.5h0.9M458.0 88.4h0.9M447.7 97.1h0.9M467.0 83.5h0.9M450.4 94.6h0.9M443.4 102.9h0.9M441.1 106.1h0.9M430.5 113.1h0.9M467.4 82.3h0.9M446.3 100.5h0.9M459.5 89.5h0.9M441.2 107.1h0.9M434.3 111.7h0.9M428.3 111.6h0.9M433.4 109.9h0.9M456.2 89.3h0.9M462.4 85.1h0.9M465.7 85.4h0.9M450.8 96.8h0.9M465.3 84.2h0.9M461.4 85.6h0.9M458.1 90.2h0.9M457.9 88.6h0.9M430.3 114.6h0.9M450.5 96.4h0.9M433.5 111.8h0.9M466.6 82.6h0.9M459.8 90.0h0.9M453.4 93.1h0.9M442.7 103.4h0.9M431.7 108.2h0.9M437.2 105.6h0.9M463.4 85.3h0.9M462.3 86.7h0.9M463.3 87.1h0.9M455.0 91.9h0.9M435.9 109.8h0.9M438.5 110.2h0.9M429.1 117.4h0.9M439.5 106.0h0.9M447.8 99.9h0.9M467.7 81.9h0.9M466.0 85.1h0.9M447.1 98.5h0.9M434.2 113.3h0.9M445.4 101.7h0.9M464.4 85.4h0.9M454.3 92.8h0.9M431.9 112.3h0.9M429.6 110.7h0.9M467.1 82.5h0.9M432.0 112.0h0.9M429.6 116.4h0.9M435.3 107.3h0.9M451.8 96.4h0.9M428.3 118.7h0.9M449.5 96.3h0.9M442.8 99.9h0.9M440.0 106.5h0.9M439.4 110.9h0.9M439.6 109.5h0.9M459.4 89.7h0.9M445.7 99.9h0.9M460.9 86.3h0.9M435.2 105.6h0.9M445.7 99.7h0.9M466.0 85.1h0.9M442.2 104.2h0.9M431.0 116.7h0.9M446.8 97.0h0.9M462.4 85.0h0.9M434.0 110.5h0.9M467.9 81.1h0.9M436.7 111.1h0.9M439.4 110.4h0.9M428.4 112.2h0.9M438.4 110.4h0.9M430.9 115.8h0.9M462.8 87.7h0.9M459.2 87.2h0.9M445.3 98.8h0.9M431.6 110.2h0.9M456.1 91.6h0.9M431.8 110.4h0.9M429.8 120.4h0.9M456.9 90.5h0.9M466.2 85.0h0.9M434.5 108.1h0.9M434.0 111.9h0.9M450.0 96.0h0.9M457.8 90.0h0.9M438.6 108.8h0.9M465.7 82.7h0.9M445.5 98.2h0.9M456.6 90.6h0.9M460.7 88.3h0.9M466.1 83.9h0.9M450.0 98.0h0.9M459.1 88.4h0.9M430.9 118.7h0.9M429.7 120.5h0.9M465.0 85.1h0.9M465.7 84.4h0.9M456.5 91.3h0.9M435.1 106.3h0.9M456.4 90.8h0.9M431.7 113.7h0.9M436.7 106.7h0.9M462.4 86.9h0.9M456.7 92.0h0.9M443.4 102.3h0.9M443.2 101.9h0.9M458.0 91.2h0.9M437.9 109.6h0.9M434.8 105.8h0.9M453.9 94.1h0.9M439.2 111.1h0.9M455.4 91.1h0.9M457.2 91.7h0.9M432.2 116.9h0.9M443.3 101.2h0.9M441.1 105.8h0.9M447.2 97.2h0.9M429.6 116.8h0.9M455.3 92.6h0.9M441.8 107.5h0.9M428.4 110.7h0.9M428.4 116.5h0.9M447.0 97.1h0.9M447.1 96.0h0.9M428.9 122.0h0.9M462.8 84.8h0.9M452.6 94.0h0.9M447.6 99.4h0.9M452.0 96.3h0.9M453.7 94.7h0.9M431.4 117.0h0.9M438.8 110.7h0.9M458.6 91.0h0.9M457.0 90.2h0.9M447.0 99.6h0.9M429.5 115.6h0.9M448.9 97.8h0.9M439.6 107.5h0.9M456.1 90.8h0.9M453.7 94.7h0.9M440.7 106.1h0.9M445.4 102.2h0.9M436.9 106.8h0.9M441.6 106.1h0.9M432.7 116.9h0.9M446.2 100.5h0.9M442.4 100.4h0.9M441.4 105.8h0.9M430.5 120.0h0.9M449.7 96.0h0.9M428.7 112.2h0.9M439.5 108.0h0.9M433.4 111.2h0.9M436.9 109.1h0.9M454.0 92.9h0.9M456.7 91.2h0.9M430.3 116.3h0.9M445.4 101.8h0.9M465.1 84.0h0.9M461.2 86.5h0.9M452.4 92.1h0.9M460.1 88.0h0.9M444.2 101.8h0.9M440.8 103.5h0.9M454.2 93.2h0.9M429.4 112.1h0.9M464.9 84.0h0.9M437.8 108.6h0.9M440.9 109.5h0.9M467.2 81.7h0.9M435.2 107.0h0.9M443.8 100.8h0.9M453.4 94.9h0.9M429.9 108.5h0.9M431.2 111.2h0.9M432.0 112.0h0.9M440.5 107.9h0.9M466.5 84.8h0.9M442.8 104.5h0.9M431.9 114.0h0.9M462.7 87.5h0.9M432.2 108.9h0.9M463.5 86.3h0.9M457.3 88.7h0.9M451.0 93.1h0.9M456.2 92.3h0.9M438.9 103.0h0.9M456.0 93.3h0.9M451.1 94.5h0.9M439.1 109.6h0.9M466.6 82.9h0.9M435.0 114.1h0.9M443.1 102.7h0.9M438.4 109.4h0.9M467.2 82.6h0.9M461.4 86.9h0.9M442.8 105.6h0.9M466.7 83.9h0.9M454.7 93.6h0.9M464.3 86.5h0.9M447.3 97.5h0.9M428.1 116.1h0.9M440.2 102.1h0.9M467.7 81.7h0.9M464.9 83.1h0.9M440.3 108.5h0.9M453.4 94.1h0.9M445.5 97.8h0.9M460.3 88.9h0.9M445.1 101.0h0.9M459.1 88.9h0.9M445.0 100.6h0.9M456.1 92.1h0.9M439.4 109.1h0.9M441.0 107.1h0.9M441.0 108.9h0.9M465.3 85.2h0.9M441.2 104.2h0.9M443.3 103.6h0.9M428.8 116.2h0.9M464.7 83.4h0.9M463.0 86.2h0.9M467.9 82.7h0.9M455.4 92.8h0.9M442.8 100.7h0.9M461.4 88.5h0.9M455.5 90.6h0.9M446.0 99.6h0.9M440.5 105.9h0.9M444.3 104.7h0.9M451.4 96.9h0.9M463.8 84.4h0.9M457.7 89.6h0.9M450.1 96.2h0.9M456.3 90.3h0.9M453.6 92.7h0.9M458.2 89.6h0.9M452.1 96.4h0.9M437.3 104.1h0.9M463.2 85.9h0.9M452.2 95.6h0.9M463.0 85.7h0.9M467.4 82.2h0.9M455.7 92.8h0.9M440.5 105.4h0.9M440.6 104.6h0.9M442.4 106.5h0.9M429.6 121.5h0.9M458.5 89.6h0.9M452.0 93.6h0.9M457.4 91.7h0.9M441.2 105.4h0.9M435.0 107.8h0.9M461.3 87.8h0.9M443.9 103.1h0.9M433.8 106.4h0.9M440.2 106.8h0.9M433.7 111.4h0.9M439.0 105.1h0.9M456.3 90.6h0.9M456.4 92.0h0.9M441.0 101.8h0.9M460.9 87.8h0.9M449.4 97.3h0.9M448.1 99.3h0.9M428.2 122.1h0.9M450.9 94.9h0.9M463.8 86.7h0.9M450.1 93.8h0.9M451.2 94.6h0.9M449.1 98.1h0.9M431.9 116.6h0.9M438.4 105.4h0.9M428.9 110.2h0.9M436.8 108.9h0.9M465.2 83.4h0.9M437.6 107.0h0.9M451.9 93.9h0.9M453.2 92.0h0.9M429.1 116.6h0.9M455.6 90.2h0.9M429.2 117.7h0.9M429.7 120.4h0.9M454.1 91.4h0.9M442.3 100.7h0.9M430.4 112.3h0.9M462.4 87.8h0.9M456.9 91.2h0.9M449.6 96.4h0.9M452.6 93.9h0.9M441.9 107.2h0.9M438.1 106.9h0.9M453.6 95.0h0.9M439.7 106.0h0.9M442.0 102.2h0.9M440.1 108.7h0.9M433.8 110.7h0.9M437.4 108.9h0.9M457.8 88.5h0.9M445.5 98.4h0.9M452.2 95.0h0.9M435.1 107.6h0.9M438.1 106.2h0.9M463.1 87.2h0.9M458.6 89.0h0.9M444.3 99.8h0.9M444.4 104.3h0.9M430.6 112.8h0.9M434.1 113.8h0.9M438.1 107.6h0.9M429.3 117.8h0.9M446.6 100.2h0.9M455.5 92.7h0.9M436.6 106.7h0.9M450.1 93.9h0.9M465.1 85.1h0.9M445.8 99.1h0.9M430.1 115.2h0.9M457.8 88.6h0.9M430.8 116.1h0.9M444.8 102.8h0.9M442.4 107.5h0.9M462.2 86.0h0.9M447.5 98.3h0.9M444.0 104.0h0.9M454.8 93.5h0.9M436.2 109.1h0.9M447.8 98.0h0.9M428.3 120.0h0.9M443.9 99.9h0.9M461.4 87.4h0.9M456.3 92.0h0.9M451.2 96.8h0.9M429.5 112.9h0.9M433.0 113.1h0.9M435.0 105.9h0.9M432.0 109.1h0.9M447.7 97.6h0.9M444.6 98.3h0.9M447.2 97.0h0.9M430.6 108.6h0.9M432.5 111.1h0.9M433.1 111.2h0.9M433.0 114.1h0.9M462.3 85.9h0.9M429.9 120.7h0.9M430.3 116.2h0.9M457.0 90.5h0.9M463.0 84.9h0.9M455.4 93.3h0.9M463.3 86.9h0.9M443.4 102.8h0.9M461.1 87.0h0.9M436.3 105.0h0.9M434.4 107.3h0.9M464.8 84.1h0.9M440.1 110.3h0.9M454.1 92.5h0.9M431.0 112.0h0.9M437.7 111.8h0.9M442.8 106.9h0.9M436.9 104.8h0.9M463.4 84.4h0.9M458.4 89.8h0.9M437.4 111.0h0.9M443.1 106.4h0.9M448.5 99.2h0.9M464.8 84.3h0.9M454.2 93.7h0.9M452.6 92.0h0.9M454.0 93.9h0.9M434.1 107.1h0.9M429.8 115.4h0.9M431.0 117.7h0.9M442.6 107.4h0.9M456.0 91.0h0.9M433.7 110.4h0.9M450.5 97.1h0.9M463.1 85.4h0.9M428.5 117.9h0.9M454.0 93.5h0.9M459.1 90.1h0.9M451.3 96.3h0.9M431.7 118.0h0.9M453.1 91.9h0.9M433.2 112.9h0.9M438.3 111.3h0.9M437.2 108.2h0.9M446.2 101.6h0.9M438.2 110.9h0.9M455.6 91.9h0.9M465.5 85.3h0.9M456.7 90.9h0.9M429.1 111.6h0.9M452.4 92.5h0.9M452.1 93.7h0.9M441.4 107.7h0.9M460.8 88.5h0.9M443.8 102.4h0.9M467.3 83.8h0.9M450.6 93.7h0.9M463.5 84.2h0.9M431.4 115.1h0.9M434.2 112.9h0.9M454.0 91.6h0.9M463.8 87.0h0.9M452.7 95.9h0.9M459.0 88.9h0.9M460.0 89.8h0.9M454.4 90.9h0.9M440.8 107.5h0.9M440.6 103.2h0.9M444.2 99.4h0.9M445.0 98.4h0.9M455.7 90.4h0.9M465.1 83.3h0.9M451.6 95.4h0.9M434.2 111.8h0.9M448.1 98.0h0.9M433.7 110.8h0.9M460.6 88.3h0.9M435.9 107.9h0.9M462.5 84.9h0.9M445.1 100.7h0.9M443.2 99.5h0.9M431.0 117.7h0.9M444.2 100.4h0.9M444.0 99.1h0.9M430.2 118.5h0.9M457.2 89.3h0.9M438.7 103.7h0.9M438.7 107.4h0.9M456.9 90.7h0.9M461.1 89.2h0.9M448.8 94.8h0.9M432.0 114.6h0.9M431.8 117.3h0.9M429.4 109.2h0.9M467.8 81.9h0.9M448.3 97.7h0.9M431.4 111.3h0.9M440.7 107.8h0.9M458.2 90.4h0.9M433.6 110.8h0.9M464.2 84.1h0.9M439.9 107.4h0.9M467.8 80.9h0.9M454.2 92.6h0.9M447.2 99.7h0.9M430.7 115.1h0.9M438.7 109.4h0.9M455.2 91.6h0.9M432.6 114.8h0.9M454.6 92.7h0.9M456.5 92.6h0.9M435.9 110.9h0.9M459.2 88.0h0.9M463.6 85.0h0.9M466.0 84.1h0.9M466.8 84.2h0.9M458.1 89.2h0.9M444.3 102.1h0.9M459.2 88.6h0.9M463.4 84.8h0.9M446.9 96.8h0.9M433.2 109.4h0.9M429.2 116.3h0.9M451.1 94.7h0.9M458.8 89.3h0.9M453.8 91.3h0.9M439.2 102.9h0.9M432.9 115.4h0.9M432.0 113.7h0.9M441.0 107.0h0.9M462.1 87.8h0.9M466.4 84.8h0.9M441.9 108.3h0.9M457.3 89.5h0.9M439.1 107.2h0.9M461.0 86.2h0.9M463.0 86.6h0.9M449.9 95.6h0.9M441.2 104.6h0.9M455.2 91.7h0.9M455.1 93.5h0.9M430.4 108.2h0.9M465.3 83.4h0.9M459.6 88.2h0.9M435.2 105.6h0.9M443.1 103.8h0.9M429.4 108.6h0.9M437.5 111.3h0.9M456.7 89.8h0.9M442.1 103.7h0.9M454.9 91.3h0.9M440.2 106.3h0.9M435.6 108.8h0.9M456.6 90.9h0.9M429.5 113.1h0.9M449.0 95.6h0.9M441.5 105.6h0.9M440.5 103.3h0.9M462.3 85.1h0.9M463.7 84.2h0.9M448.3 97.5h0.9M442.3 105.0h0.9M462.7 85.7h0.9M429.6 111.0h0.9M462.5 86.8h0.9M456.9 90.2h0.9M438.9 108.7h0.9M448.9 98.7h0.9M432.9 110.2h0.9M454.2 94.4h0.9M444.7 102.9h0.9M431.1 115.1h0.9M439.1 108.6h0.9M437.9 105.2h0.9M436.8 110.5h0.9M455.1 93.7h0.9M442.5 100.6h0.9M459.3 87.9h0.9M455.3 91.8h0.9M443.7 99.2h0.9M435.3 111.8h0.9M444.4 103.9h0.9M459.3 88.9h0.9M467.2 81.3h0.9M442.0 104.7h0.9M429.4 120.2h0.9M432.5 113.0h0.9M436.9 107.5h0.9M444.6 100.0h0.9M433.3 113.1h0.9M451.4 93.2h0.9M466.8 82.0h0.9M435.1 108.0h0.9M440.5 105.9h0.9M463.6 84.3h0.9M449.1 97.2h0.9M436.4 107.7h0.9M443.8 104.8h0.9M457.9 89.8h0.9M429.8 112.9h0.9M459.7 88.3h0.9M441.6 106.0h0.9M429.0 117.6h0.9M453.9 91.4h0.9M442.6 106.2h0.9M436.6 109.0h0.9M439.8 106.9h0.9M441.6 103.7h0.9M464.6 85.5h0.9M467.9 81.6h0.9M444.6 100.4h0.9M461.9 86.4h0.9M453.7 91.8h0.9M447.8 96.6h0.9M464.1 84.8h0.9M465.8 84.1h0.9M439.6 107.1h0.9M464.8 85.3h0.9M460.0 88.5h0.9M451.0 93.7h0.9M460.4 88.5h0.9M452.3 93.4h0.9M457.3 90.4h0.9M438.8 111.3h0.9M457.7 90.7h0.9M460.7 88.4h0.9M441.3 108.9h0.9M463.7 86.1h0.9M443.4 102.8h0.9M429.1 120.8h0.9M460.3 88.3h0.9M444.6 103.1h0.9M428.5 114.3h0.9M436.1 110.0h0.9M440.1 107.2h0.9M463.3 85.5h0.9M431.3 107.7h0.9M460.5 87.8h0.9M443.6 99.3h0.9M430.9 107.7h0.9M463.2 84.4h0.9M438.9 106.9h0.9M449.1 95.4h0.9M452.2 94.9h0.9M467.3 81.5h0.9M437.9 104.5h0.9M437.6 105.6h0.9M428.7 119.9h0.9M437.1 110.5h0.9M459.6 89.6h0.9M428.6 116.9h0.9M461.2 87.8h0.9M450.4 95.3h0.9M460.0 88.4h0.9M440.0 106.3h0.9M444.8 99.1h0.9M453.4 94.7h0.9M452.5 92.0h0.9M442.1 106.3h0.9M431.9 112.9h0.9M453.8 93.2h0.9M439.2 102.9h0.9M454.7 91.0h0.9M450.3 95.9h0.9M455.5 90.2h0.9M466.8 83.8h0.9M462.2 85.6h0.9M455.4 91.3h0.9M454.5 93.2h0.9M442.3 107.4h0.9M443.5 102.4h0.9M455.2 90.6h0.9M463.2 85.3h0.9M462.9 85.0h0.9M431.6 114.1h0.9M435.8 108.8h0.9M434.3 112.6h0.9M456.2 91.9h0.9M432.0 107.7h0.9M449.5 94.5h0.9M455.2 92.1h0.9M464.9 85.6h0.9M452.6 95.3h0.9M446.3 98.1h0.9M429.6 117.7h0.9M453.1 94.2h0.9M446.5 98.7h0.9M464.3 84.7h0.9M432.2 117.4h0.9M457.2 91.9h0.9M467.3 82.4h0.9M432.7 111.9h0.9M445.6 99.4h0.9M458.3 88.6h0.9M466.6 82.4h0.9M437.4 111.0h0.9M435.5 111.4h0.9M437.0 107.7h0.9M444.8 99.5h0.9M460.0 89.8h0.9M464.6 83.8h0.9M428.6 114.9h0.9M456.3 91.3h0.9M466.2 85.1h0.9M453.8 92.1h0.9M442.0 101.1h0.9M441.7 106.8h0.9M438.6 104.7h0.9M447.6 99.6h0.9M452.2 92.7h0.9M443.2 101.1h0.9M459.5 88.4h0.9M443.7 104.8h0.9M437.9 107.4h0.9M467.1 82.3h0.9M447.7 98.4h0.9M439.4 107.9h0.9M442.8 105.8h0.9M448.4 98.2h0.9M449.1 97.6h0.9M441.5 102.2h0.9M440.5 104.6h0.9M428.3 119.4h0.9M447.1 98.2h0.9M454.7 90.6h0.9M431.7 115.4h0.9M429.0 120.7h0.9M446.4 101.4h0.9M461.6 86.8h0.9M439.7 106.0h0.9M457.6 90.0h0.9M455.4 93.7h0.9M456.7 90.8h0.9M456.4 91.0h0.9M449.4 96.1h0.9M465.0 86.0h0.9M448.9 97.1h0.9M430.9 114.5h0.9M464.8 83.9h0.9M457.8 89.0h0.9M455.1 91.1h0.9M450.0 97.1h0.9M428.8 120.3h0.9M447.0 97.1h0.9M438.3 108.0h0.9M456.3 89.8h0.9M429.9 111.2h0.9M451.7 94.2h0.9M457.3 91.2h0.9M440.7 106.6h0.9M432.4 113.5h0.9M452.3 93.1h0.9M453.1 92.1h0.9M466.7 83.3h0.9M464.4 85.5h0.9M434.8 112.0h0.9M450.9 94.8h0.9M454.2 93.7h0.9M453.7 92.0h0.9M466.4 84.6h0.9M443.3 105.7h0.9M467.7 81.8h0.9M434.0 108.5h0.9M445.6 98.1h0.9M435.6 111.4h0.9M428.4 117.2h0.9M442.3 105.7h0.9M436.5 108.7h0.9M434.8 106.0h0.9M461.8 86.5h0.9M437.8 111.5h0.9M440.8 106.2h0.9M432.2 111.5h0.9M462.3 87.6h0.9M459.7 89.9h0.9M435.4 105.8h0.9M431.8 114.5h0.9M447.9 97.0h0.9M455.1 90.9h0.9M450.6 95.2h0.9M432.2 115.5h0.9M433.7 113.8h0.9M457.2 90.1h0.9M444.1 100.0h0.9M432.1 114.6h0.9M440.8 106.3h0.9M440.7 103.9h0.9M433.0 114.4h0.9M443.3 100.5h0.9M462.2 85.5h0.9M435.4 106.7h0.9M448.5 98.4h0.9M428.7 121.5h0.9M454.6 93.7h0.9M442.8 103.0h0.9M430.6 111.1h0.9M462.1 86.0h0.9M463.5 86.7h0.9M464.4 83.9h0.9M442.9 105.8h0.9M438.5 105.3h0.9M428.5 116.2h0.9M448.1 96.1h0.9M436.5 110.0h0.9M433.3 114.2h0.9M462.2 86.4h0.9M431.8 113.6h0.9M437.8 104.6h0.9M454.9 92.4h0.9M436.9 106.4h0.9M455.6 93.3h0.9M440.0 107.1h0.9M435.0 109.6h0.9M449.4 95.6h0.9M450.4 95.8h0.9M429.1 110.2h0.9M442.5 101.2h0.9M448.0 98.0h0.9M451.3 96.6h0.9M450.6 96.7h0.9M431.3 117.6h0.9M464.8 85.0h0.9M460.2 88.3h0.9M443.3 100.5h0.9M445.2 101.7h0.9M458.7 90.7h0.9M446.8 100.7h0.9M440.8 101.8h0.9M443.0 103.5h0.9M457.7 89.0h0.9M428.6 118.7h0.9M434.0 113.9h0.9M448.8 95.3h0.9M446.9 99.7h0.9M435.1 113.7h0.9M429.5 110.4h0.9M450.0 96.7h0.9M450.3 97.6h0.9M434.3 106.5h0.9M447.6 97.2h0.9M441.8 103.9h0.9M462.6 85.6h0.9M454.2 93.0h0.9M437.4 111.7h0.9M436.3 107.3h0.9M434.0 112.5h0.9M454.2 92.1h0.9M431.4 114.3h0.9M439.5 107.2h0.9M452.6 91.9h0.9M429.1 119.8h0.9M462.0 85.4h0.9M435.1 109.2h0.9M460.4 87.3h0.9M466.0 82.6h0.9M463.7 84.1h0.9M450.3 97.8h0.9M455.5 93.3h0.9M440.0 110.1h0.9M463.6 84.9h0.9M457.7 91.6h0.9M434.8 109.1h0.9M457.6 90.3h0.9M464.2 84.9h0.9M443.9 99.9h0.9M437.0 111.6h0.9M436.5 112.1h0.9M459.1 89.2h0.9M438.1 103.5h0.9M431.4 117.0h0.9M466.1 85.1h0.9M437.3 112.0h0.9M443.6 101.6h0.9M463.8 86.4h0.9M453.6 92.3h0.9M431.1 109.8h0.9M436.6 106.2h0.9M449.0 95.9h0.9M434.8 113.2h0.9M440.7 101.7h0.9M428.2 116.5h0.9M428.7 116.4h0.9M428.6 115.3h0.9M451.0 95.3h0.9M434.9 112.9h0.9M466.7 84.0h0.9M464.9 86.1h0.9M440.7 106.3h0.9M442.5 105.9h0.9M433.1 108.9h0.9M444.0 102.2h0.9M467.6 81.9h0.9M428.1 114.3h0.9M462.4 85.1h0.9M446.8 99.0h0.9M460.7 87.1h0.9M450.5 97.5h0.9M466.7 83.3h0.9M439.5 108.0h0.9M455.9 92.1h0.9M453.5 92.8h0.9M455.2 91.3h0.9M435.5 106.2h0.9M448.3 95.8h0.9M437.3 106.5h0.9M440.8 105.1h0.9M466.8 83.1h0.9M448.1 97.0h0.9M448.0 98.9h0.9M447.0 98.4h0.9M440.0 103.7h0.9M434.8 106.6h0.9M437.4 104.3h0.9M442.6 104.3h0.9M431.3 116.3h0.9M444.0 102.7h0.9M443.2 105.1h0.9M453.7 91.6h0.9M448.1 96.4h0.9M456.6 90.4h0.9M435.2 105.8h0.9M467.4 81.5h0.9M436.2 112.7h0.9M429.3 114.1h0.9M443.3 104.1h0.9M458.2 91.4h0.9M438.7 103.8h0.9M434.8 105.8h0.9M436.8 109.6h0.9M463.2 84.6h0.9M436.8 111.9h0.9M449.7 95.8h0.9M429.9 108.9h0.9M434.9 110.9h0.9M429.5 115.1h0.9M459.7 86.7h0.9M437.5 107.4h0.9M450.6 96.5h0.9M453.6 92.9h0.9M439.5 107.8h0.9M444.4 104.2h0.9M447.2 98.5h0.9M453.1 93.5h0.9M445.7 100.8h0.9M450.2 98.0h0.9M438.2 107.6h0.9M466.8 84.0h0.9M448.3 96.4h0.9M433.5 110.4h0.9M443.0 102.7h0.9M436.3 108.8h0.9M449.1 94.9h0.9M452.8 94.7h0.9M434.1 108.4h0.9M428.9 115.2h0.9M453.5 92.9h0.9M449.8 96.6h0.9M429.1 109.3h0.9M446.3 101.3h0.9M454.8 92.0h0.9M436.5 105.7h0.9M452.2 95.4h0.9M441.7 101.6h0.9M437.1 110.1h0.9M457.7 89.7h0.9M462.9 85.8h0.9M428.5 111.7h0.9M463.0 86.7h0.9M430.4 111.6h0.9M441.7 104.6h0.9M428.6 121.4h0.9M447.3 97.0h0.9M428.8 116.6h0.9M464.9 85.3h0.9M461.6 88.3h0.9M453.0 91.8h0.9M438.4 108.1h0.9M442.6 101.6h0.9M429.8 119.6h0.9M453.1 92.7h0.9M444.8 103.2h0.9M432.3 113.7h0.9M435.5 113.0h0.9M459.0 90.6h0.9M441.3 105.4h0.9M438.8 105.9h0.9M465.9 85.3h0.9M467.7 83.4h0.9M445.6 100.9h0.9M463.8 85.2h0.9M464.3 86.0h0.9M437.4 107.0h0.9M454.1 91.4h0.9M436.3 106.4h0.9M431.1 118.4h0.9M467.9 83.0h0.9M446.2 100.6h0.9M454.0 92.7h0.9M446.9 96.7h0.9M435.8 108.0h0.9M440.2 107.5h0.9M435.8 107.1h0.9M462.3 87.5h0.9M464.9 85.5h0.9M434.1 110.6h0.9M460.5 89.0h0.9M435.3 109.5h0.9M449.8 94.0h0.9M435.9 111.3h0.9M453.1 93.4h0.9M449.0 96.9h0.9M439.8 103.0h0.9M456.4 92.1h0.9M443.4 104.6h0.9M460.2 88.8h0.9M459.3 90.4h0.9M429.0 121.7h0.9M444.1 103.7h0.9M456.2 89.7h0.9M449.7 94.4h0.9M455.9 90.8h0.9M441.0 103.8h0.9M459.4 89.2h0.9M438.0 109.8h0.9M433.8 113.8h0.9M450.4 96.8h0.9M450.9 97.3h0.9M454.3 92.5h0.9M449.8 96.4h0.9M437.5 106.5h0.9M458.9 90.2h0.9M466.4 84.0h0.9M446.2 98.7h0.9M454.8 92.9h0.9M465.4 85.0h0.9M441.3 103.5h0.9M429.1 119.3h0.9M443.1 102.4h0.9M429.4 115.2h0.9M463.4 85.0h0.9M456.4 92.0h0.9M452.8 94.2h0.9M436.1 110.6h0.9M449.6 98.4h0.9M446.7 98.0h0.9M463.7 85.9h0.9M439.6 107.9h0.9M432.6 108.9h0.9M462.7 86.1h0.9M459.0 88.0h0.9M444.8 99.4h0.9M459.0 89.3h0.9M441.7 103.9h0.9M434.7 107.7h0.9M454.1 92.0h0.9M431.0 112.3h0.9M444.1 105.0h0.9M441.4 104.4h0.9M466.7 83.8h0.9M444.3 100.9h0.9M435.2 106.8h0.9M444.9 101.7h0.9M431.0 113.3h0.9M433.3 112.4h0.9M439.7 107.9h0.9M458.2 89.3h0.9M441.3 101.9h0.9M434.7 111.1h0.9M459.3 87.5h0.9M466.9 84.2h0.9M440.6 106.3h0.9M453.3 92.7h0.9M440.6 107.8h0.9M445.4 99.9h0.9M448.7 95.3h0.9M444.8 99.8h0.9M433.1 111.8h0.9M454.6 92.5h0.9M446.0 100.4h0.9M442.8 106.9h0.9M434.8 105.9h0.9M448.9 97.7h0.9M441.2 104.5h0.9M439.7 104.4h0.9M458.6 90.6h0.9M437.2 108.9h0.9M444.4 99.2h0.9M456.0 91.4h0.9M467.6 83.5h0.9M463.6 84.8h0.9M431.2 117.1h0.9M431.1 115.7h0.9M433.4 113.3h0.9M429.4 109.6h0.9M462.0 86.8h0.9M444.0 105.0h0.9M458.2 88.6h0.9M454.8 91.8h0.9M444.5 100.2h0.9M435.3 108.0h0.9M437.0 105.9h0.9M462.3 86.2h0.9M448.6 98.5h0.9M453.6 91.8h0.9M465.8 85.2h0.9M460.7 87.1h0.9M460.3 88.5h0.9M428.7 114.0h0.9M454.5 92.7h0.9M465.6 85.0h0.9M460.6 89.5h0.9M439.7 110.0h0.9M428.0 119.8h0.9M430.4 114.2h0.9M443.6 99.6h0.9M451.8 95.8h0.9M435.1 107.6h0.9M457.7 90.2h0.9M428.4 113.1h0.9M465.4 83.5h0.9M437.6 107.6h0.9M462.8 87.2h0.9M441.3 106.6h0.9M428.6 109.7h0.9M440.8 106.9h0.9M432.2 107.6h0.9M461.3 86.2h0.9M429.4 109.6h0.9M430.2 111.7h0.9M449.3 97.2h0.9M437.5 108.3h0.9M439.3 107.5h0.9M431.1 115.0h0.9M428.0 121.5h0.9M434.6 110.6h0.9M433.9 110.4h0.9M436.7 109.9h0.9M458.0 91.0h0.9M466.8 82.9h0.9M448.1 96.8h0.9M437.6 108.1h0.9M466.8 81.8h0.9M456.6 90.2h0.9M450.1 94.9h0.9M455.4 91.8h0.9M438.4 107.1h0.9M428.1 110.4h0.9M474.9 76.4h0.9M472.0 78.7h0.9M464.4 85.4h0.9M475.5 75.0h0.9M469.2 80.1h0.9M465.1 84.0h0.9M470.1 80.1h0.9M472.8 76.4h0.9M472.2 78.7h0.9M470.1 80.6h0.9M464.5 85.0h0.9M470.8 79.2h0.9M467.2 83.6h0.9M471.4 80.4h0.9M472.8 76.9h0.9M474.5 75.6h0.9M464.8 84.4h0.9M471.2 79.5h0.9M468.7 81.8h0.9M467.2 82.4h0.9M475.0 75.5h0.9M468.5 80.8h0.9M472.8 78.3h0.9M466.7 84.0h0.9M473.7 78.2h0.9M474.3 76.9h0.9M464.3 85.9h0.9M473.8 78.0h0.9M467.5 82.7h0.9M467.0 82.1h0.9M374.2 119.2h0.9M387.7 119.8h0.9M397.3 143.3h0.9M393.8 146.2h0.9M384.6 149.6h0.9M385.6 160.0h0.9M390.4 151.9h0.9M416.9 163.1h0.9M399.6 125.0h0.9M427.5 143.3h0.9M379.0 128.0h0.9M382.0 137.0h0.9M393.0 114.0h0.9M413.0 104.0h0.9M418.0 103.0h0.9M421.0 102.0h0.9M430.0 147.0h0.9M432.0 137.0h0.9M388.0 155.0h0.9M376.0 152.0h0.9M409.8 121.8h0.9M440.3 115.5h0.9M413.6 120.1h0.9M407.1 140.8h0.9M415.8 130.8h0.9M389.9 147.6h0.9M428.2 116.9h0.9M388.3 156.3h0.9M420.4 120.5h0.9M413.0 123.8h0.9M423.2 122.9h0.9M383.4 158.3h0.9M428.5 110.3h0.9M428.2 103.5h0.9M445.4 104.8h0.9M428.1 140.1h0.9M443.1 113.3h0.9M405.1 135.2h0.9M429.6 121.8h0.9M413.5 114.9h0.9M432.0 107.2h0.9M422.4 115.5h0.9M411.0 116.7h0.9M423.5 111.4h0.9M401.1 144.4h0.9M423.4 127.1h0.9M422.3 106.8h0.9M417.1 124.1h0.9M414.9 115.9h0.9M424.8 126.0h0.9M440.2 114.9h0.9M415.1 101.1h0.9M413.3 122.5h0.9M394.0 162.8h0.9M429.3 111.6h0.9M425.5 120.3h0.9M423.4 131.2h0.9M443.7 105.1h0.9M414.0 129.7h0.9M433.6 114.4h0.9M416.1 134.6h0.9M430.1 116.6h0.9M414.2 126.7h0.9M397.4 143.8h0.9M412.6 125.7h0.9M414.3 123.7h0.9M420.5 121.5h0.9M411.5 128.4h0.9M420.5 125.5h0.9M422.3 115.3h0.9M401.7 123.6h0.9M407.0 138.4h0.9M416.6 140.4h0.9M415.4 122.0h0.9M414.6 121.2h0.9M412.3 129.6h0.9M403.4 139.3h0.9M413.6 118.7h0.9M432.4 112.1h0.9M428.0 106.4h0.9M399.2 130.5h0.9M392.0 130.9h0.9M434.3 101.8h0.9M418.6 117.2h0.9M425.2 131.4h0.9M394.7 137.1h0.9M416.1 116.1h0.9M433.2 120.4h0.9M432.8 115.5h0.9M422.2 128.8h0.9" stroke="#bdbdbd" stroke-width="0.9" fill="none"/>
<path d="M449.1 89.7h0.9M423.6 104.9h0.9M460.0 83.2h0.9M459.2 83.0h0.9M422.7 110.9h0.9M457.4 85.8h0.9M440.0 95.8h0.9M426.6 107.9h0.9M453.1 89.5h0.9M438.7 101.2h0.9M427.0 101.2h0.9M437.3 103.2h0.9M463.5 80.7h0.9M458.5 82.6h0.9M452.2 88.2h0.9M451.8 88.2h0.9M428.7 102.5h0.9M440.0 95.7h0.9M437.8 99.3h0.9M431.4 101.6h0.9M460.6 84.3h0.9M459.2 82.4h0.9M457.1 84.8h0.9M429.3 104.6h0.9M461.7 84.6h0.9M431.3 101.7h0.9M453.9 89.2h0.9M462.8 83.5h0.9M432.8 101.5h0.9M450.1 91.5h0.9M435.1 96.9h0.9M448.2 88.3h0.9M423.6 105.9h0.9M429.6 102.1h0.9M436.0 103.9h0.9M423.6 107.6h0.9M453.1 89.3h0.9M433.0 101.1h0.9M448.7 90.1h0.9M456.6 83.6h0.9M429.1 107.5h0.9M462.8 82.9h0.9M443.6 98.3h0.9M454.5 84.5h0.9M455.8 84.9h0.9M462.0 78.2h0.9M451.0 91.3h0.9M446.7 89.6h0.9M455.1 89.4h0.9M424.0 106.7h0.9M454.7 87.2h0.9M460.3 81.6h0.9M436.7 98.8h0.9M461.3 83.7h0.9M432.0 102.1h0.9M439.2 97.3h0.9M427.0 107.9h0.9M454.0 86.5h0.9M455.7 87.8h0.9M421.2 109.5h0.9M432.2 101.5h0.9M440.0 96.9h0.9M449.5 89.6h0.9M449.0 88.5h0.9M458.1 84.0h0.9M457.0 85.0h0.9M427.9 107.1h0.9M425.8 107.1h0.9M445.2 91.2h0.9M459.5 82.5h0.9M446.4 94.6h0.9M430.5 105.0h0.9M455.7 84.4h0.9M424.2 110.2h0.9M437.1 101.3h0.9M443.8 96.0h0.9M425.9 105.0h0.9M422.6 109.7h0.9M432.5 103.3h0.9M432.3 105.7h0.9M455.9 88.2h0.9M455.9 85.9h0.9M460.9 82.1h0.9M433.9 102.7h0.9M457.1 84.8h0.9M443.1 92.7h0.9M426.6 108.1h0.9M425.1 103.7h0.9M455.3 86.9h0.9M430.7 101.6h0.9M438.5 97.7h0.9M463.9 81.7h0.9M456.5 86.2h0.9M441.6 98.3h0.9M454.2 88.1h0.9M434.0 104.9h0.9M454.3 86.1h0.9M428.5 105.1h0.9M454.7 86.5h0.9M428.3 108.0h0.9M421.8 109.9h0.9M451.1 88.1h0.9M461.0 84.1h0.9M426.3 107.3h0.9M462.3 82.2h0.9M423.5 104.8h0.9M454.1 89.0h0.9M426.9 105.7h0.9M445.6 91.7h0.9M426.7 105.9h0.9M440.2 98.9h0.9M426.3 104.7h0.9M450.6 88.7h0.9M429.5 102.1h0.9M440.7 99.3h0.9M463.2 82.3h0.9M426.3 105.5h0.9M431.1 105.1h0.9M448.7 91.4h0.9M427.7 103.3h0.9M455.1 87.3h0.9M459.5 83.4h0.9M443.5 93.7h0.9M452.9 85.4h0.9M433.8 100.2h0.9M459.2 84.4h0.9M461.7 83.9h0.9M428.4 106.4h0.9M437.5 98.3h0.9M442.9 98.8h0.9M459.9 83.1h0.9M458.0 83.8h0.9M445.8 90.6h0.9M426.7 104.3h0.9M441.1 99.9h0.9M445.7 91.6h0.9M424.3 105.0h0.9M438.9 100.1h0.9M440.0 101.1h0.9M427.4 108.7h0.9M437.4 99.1h0.9M459.8 83.6h0.9M444.3 91.2h0.9M437.7 102.9h0.9M455.1 85.9h0.9M428.0 104.5h0.9M431.7 100.5h0.9M429.9 106.4h0.9M460.9 84.4h0.9M427.2 107.6h0.9M439.0 100.7h0.9M431.3 105.3h0.9M428.3 108.1h0.9M421.2 105.0h0.9M459.2 83.6h0.9M438.3 99.9h0.9M423.3 109.8h0.9M429.9 105.5h0.9M447.5 93.7h0.9M450.8 89.5h0.9M454.5 87.4h0.9M422.8 106.5h0.9M433.5 105.4h0.9M459.3 84.2h0.9M457.3 86.6h0.9M459.1 85.4h0.9M461.3 83.2h0.9M462.2 81.3h0.9M451.4 89.7h0.9M460.7 83.2h0.9M462.2 83.5h0.9M432.8 105.1h0.9M463.8 80.4h0.9M441.7 94.5h0.9M459.6 84.6h0.9M443.1 92.5h0.9M458.5 86.0h0.9M460.4 83.2h0.9M455.7 86.6h0.9M450.7 89.9h0.9M455.8 84.2h0.9M436.8 99.4h0.9M457.6 86.4h0.9M432.0 101.6h0.9M421.3 111.1h0.9M446.4 90.5h0.9M424.4 106.5h0.9M439.5 100.1h0.9M431.0 102.0h0.9M451.7 88.6h0.9M433.0 101.9h0.9M460.5 84.9h0.9M425.3 108.6h0.9M451.9 86.3h0.9M427.3 106.5h0.9M433.0 102.5h0.9M428.4 106.6h0.9M448.1 90.5h0.9M433.9 98.0h0.9M462.1 81.0h0.9M454.8 88.7h0.9M449.0 89.5h0.9M450.3 87.1h0.9M438.0 98.4h0.9M450.5 86.9h0.9M462.1 83.5h0.9M430.0 106.8h0.9M461.7 83.6h0.9M460.9 81.3h0.9M436.2 99.0h0.9M421.4 111.3h0.9M431.4 101.5h0.9M457.6 85.2h0.9M435.6 104.3h0.9M461.9 81.0h0.9M425.2 107.0h0.9M427.6 108.3h0.9M424.6 105.4h0.9M463.5 83.3h0.9M455.1 88.5h0.9M463.1 81.1h0.9M429.0 103.9h0.9M439.8 100.7h0.9M441.8 96.3h0.9M421.2 109.5h0.9M444.8 96.3h0.9M462.7 81.8h0.9M447.0 94.0h0.9M462.7 83.7h0.9M435.8 103.2h0.9M457.6 86.8h0.9M442.5 98.1h0.9M463.6 83.3h0.9M429.7 106.7h0.9M461.7 82.9h0.9M451.1 87.1h0.9M435.3 103.7h0.9M447.0 89.2h0.9M454.9 88.9h0.9M426.2 107.1h0.9M449.3 87.6h0.9M445.9 93.6h0.9M432.4 106.4h0.9M452.1 86.9h0.9M440.0 98.8h0.9M431.4 100.6h0.9M438.4 99.1h0.9M433.6 103.2h0.9M459.6 82.2h0.9M440.6 99.6h0.9M426.9 103.6h0.9M440.8 101.0h0.9M442.5 96.2h0.9M423.3 108.7h0.9M425.5 105.9h0.9M443.9 90.8h0.9M448.4 88.4h0.9M457.0 84.7h0.9M456.0 84.8h0.9M460.8 85.1h0.9M436.4 100.6h0.9M428.2 104.2h0.9M462.1 83.6h0.9M426.2 103.5h0.9M457.8 86.2h0.9M431.6 103.1h0.9M445.7 92.5h0.9M462.0 84.5h0.9M449.7 87.1h0.9M431.6 100.9h0.9M445.6 92.2h0.9M458.8 82.5h0.9M459.4 84.9h0.9M427.8 104.6h0.9M463.8 81.2h0.9M462.4 83.8h0.9M448.9 93.9h0.9M426.0 103.1h0.9M448.3 90.8h0.9M461.2 82.8h0.9M432.3 105.5h0.9M422.5 109.9h0.9M437.8 98.1h0.9M429.9 104.3h0.9M434.5 104.1h0.9M436.6 101.5h0.9M431.3 104.8h0.9M429.9 107.4h0.9M460.3 84.3h0.9M440.8 99.6h0.9M459.1 83.2h0.9M457.1 83.2h0.9M449.7 92.3h0.9M455.2 87.2h0.9M433.6 105.4h0.9M424.2 107.4h0.9M445.8 94.6h0.9M445.0 93.7h0.9M428.4 105.4h0.9M437.2 102.3h0.9M444.3 96.5h0.9M443.7 91.9h0.9M435.9 104.2h0.9M435.8 103.8h0.9M447.5 92.6h0.9M448.2 91.5h0.9M447.0 91.5h0.9M435.8 99.9h0.9M443.7 96.8h0.9M441.6 100.3h0.9M455.5 83.8h0.9M451.2 89.4h0.9M451.3 89.7h0.9M426.0 105.6h0.9M454.1 89.3h0.9M448.4 93.5h0.9M460.9 82.7h0.9M445.2 91.7h0.9M448.9 90.0h0.9M454.4 86.3h0.9M459.3 83.6h0.9M434.4 104.8h0.9M430.6 101.2h0.9M459.5 84.7h0.9M445.8 94.2h0.9M447.6 94.3h0.9M425.8 106.4h0.9M434.6 101.2h0.9M456.3 85.1h0.9M456.7 88.1h0.9M422.2 105.2h0.9M457.2 82.9h0.9M459.7 86.0h0.9M455.1 87.4h0.9M454.0 87.5h0.9M427.8 108.1h0.9M443.6 97.2h0.9M424.4 108.3h0.9M427.5 105.4h0.9M458.9 85.7h0.9M460.5 81.5h0.9M450.3 92.5h0.9M450.8 92.4h0.9M425.5 107.5h0.9M454.9 87.8h0.9M421.5 108.1h0.9M424.2 104.4h0.9M463.8 81.3h0.9M426.5 106.2h0.9M445.0 92.7h0.9M436.4 104.0h0.9M429.0 107.5h0.9M453.5 84.9h0.9M456.7 87.2h0.9M437.4 97.8h0.9M433.9 102.4h0.9M432.1 102.0h0.9M463.3 81.5h0.9M441.2 96.6h0.9M460.4 83.2h0.9M441.5 95.3h0.9M441.8 100.1h0.9M426.0 107.8h0.9M460.4 85.2h0.9M441.9 99.7h0.9M444.0 95.2h0.9M423.8 106.6h0.9M429.2 104.4h0.9M459.3 83.5h0.9M453.2 88.2h0.9M437.0 100.0h0.9M446.2 91.9h0.9M436.1 100.1h0.9M440.0 99.0h0.9M447.9 88.7h0.9M448.9 90.5h0.9M449.5 88.9h0.9M443.4 94.3h0.9M449.3 89.4h0.9M455.2 88.7h0.9M442.1 96.8h0.9M444.3 90.9h0.9M423.7 106.8h0.9M430.8 100.9h0.9M433.6 103.6h0.9M431.8 105.8h0.9M452.6 89.2h0.9M462.9 80.9h0.9M458.4 84.4h0.9M439.9 95.9h0.9M431.3 101.4h0.9M459.0 85.1h0.9M451.7 86.3h0.9M436.5 102.3h0.9M425.4 107.8h0.9M456.4 88.5h0.9M442.8 98.1h0.9M429.9 102.9h0.9M458.8 85.3h0.9M427.5 107.5h0.9M434.5 99.4h0.9M437.9 98.0h0.9M424.8 104.5h0.9M428.5 107.1h0.9M463.0 82.5h0.9M440.9 99.6h0.9M435.6 103.1h0.9M424.9 107.5h0.9M422.4 105.0h0.9M449.0 92.6h0.9M457.3 79.5h0.9M429.6 107.3h0.9M425.1 104.5h0.9M433.3 105.1h0.9M453.2 90.6h0.9M426.3 106.9h0.9M424.5 106.8h0.9M460.2 81.9h0.9M443.0 94.5h0.9M441.2 96.9h0.9M444.8 109.4h0.9M455.1 98.4h0.9M431.6 120.2h0.9M456.1 96.9h0.9M456.7 94.6h0.9M446.1 104.4h0.9M461.1 91.6h0.9M454.8 97.2h0.9M462.8 91.0h0.9M464.0 87.9h0.9M448.5 101.7h0.9M449.6 103.6h0.9M460.9 93.5h0.9M448.6 102.5h0.9M433.2 118.4h0.9M458.8 95.4h0.9M446.7 102.0h0.9M449.6 104.3h0.9M452.3 97.1h0.9M436.2 118.3h0.9M436.3 116.7h0.9M435.3 117.0h0.9M454.1 99.9h0.9M443.2 110.0h0.9M455.2 97.6h0.9M442.4 108.9h0.9M429.5 124.8h0.9M458.7 92.5h0.9M454.3 99.6h0.9M434.4 119.8h0.9M434.9 117.8h0.9M429.7 124.2h0.9M460.3 92.1h0.9M459.2 91.7h0.9M439.4 111.9h0.9M459.2 91.9h0.9M434.2 121.3h0.9M452.4 99.4h0.9M461.8 90.0h0.9M449.2 103.7h0.9M464.4 89.3h0.9M436.7 119.0h0.9M464.1 90.1h0.9M454.6 95.7h0.9M454.4 95.6h0.9M432.6 119.0h0.9M456.2 96.7h0.9M462.3 89.3h0.9M444.7 106.3h0.9M458.6 94.7h0.9M449.6 100.7h0.9M447.9 101.3h0.9M457.8 95.6h0.9M437.3 117.7h0.9M450.9 102.7h0.9M437.1 116.2h0.9M442.5 112.5h0.9M454.3 100.0h0.9M459.8 93.3h0.9M451.7 104.2h0.9M436.0 118.8h0.9M452.6 102.0h0.9M440.7 112.1h0.9M451.4 98.6h0.9M431.7 119.5h0.9M462.0 92.3h0.9M455.3 97.0h0.9M448.0 105.5h0.9M444.5 106.2h0.9M444.0 110.3h0.9M451.0 98.3h0.9M433.6 119.6h0.9M452.9 98.6h0.9M462.1 92.0h0.9M430.9 123.0h0.9M443.1 109.3h0.9M434.0 119.8h0.9M444.3 109.6h0.9M434.7 116.7h0.9M452.7 99.7h0.9M441.7 113.7h0.9M438.0 113.3h0.9M459.1 95.1h0.9M458.2 94.5h0.9M439.5 116.5h0.9M446.2 106.8h0.9M436.1 119.0h0.9M432.1 119.4h0.9M434.9 120.0h0.9M460.0 93.5h0.9M456.3 99.6h0.9M439.4 114.3h0.9M448.7 102.9h0.9M459.3 93.2h0.9M446.8 102.5h0.9M454.5 98.5h0.9M439.2 117.4h0.9M435.6 118.2h0.9M431.6 122.2h0.9M434.0 120.0h0.9M431.4 122.8h0.9M431.1 122.6h0.9M461.2 89.7h0.9M430.7 122.2h0.9M435.8 119.3h0.9M451.4 98.3h0.9M433.6 117.6h0.9M438.5 114.9h0.9M464.5 88.7h0.9M452.7 99.8h0.9M442.7 112.5h0.9M448.4 103.0h0.9M456.7 94.3h0.9M450.2 100.6h0.9M464.2 88.7h0.9M434.4 115.3h0.9M434.0 119.3h0.9M456.3 96.2h0.9M452.9 100.2h0.9M437.1 115.8h0.9M460.6 92.3h0.9M454.8 95.6h0.9M429.3 124.2h0.9M445.5 106.6h0.9M436.5 117.3h0.9M446.7 106.8h0.9M455.4 94.6h0.9M430.9 121.1h0.9M442.6 108.8h0.9M439.7 113.1h0.9M442.1 113.2h0.9M460.7 92.3h0.9M444.2 110.3h0.9M433.9 117.3h0.9M431.1 120.8h0.9M453.2 98.3h0.9M443.9 111.1h0.9M463.6 89.6h0.9M451.1 102.8h0.9M443.8 110.8h0.9M437.0 117.4h0.9M441.5 114.1h0.9M461.5 91.2h0.9M433.6 121.5h0.9M460.6 92.0h0.9M463.5 89.1h0.9M433.9 121.6h0.9M447.7 104.6h0.9M452.7 97.0h0.9M459.9 92.5h0.9M451.9 98.2h0.9M453.1 100.9h0.9M452.6 100.4h0.9M439.8 115.3h0.9M442.3 112.0h0.9M464.3 89.7h0.9M448.9 102.9h0.9M450.2 100.6h0.9M452.7 100.8h0.9M452.4 101.5h0.9M449.4 103.6h0.9M429.0 124.3h0.9M436.2 116.4h0.9M445.1 107.1h0.9M459.2 93.1h0.9M454.0 97.3h0.9M439.7 111.7h0.9M430.6 121.8h0.9M463.5 88.5h0.9M441.5 112.1h0.9M457.6 93.2h0.9M438.7 116.0h0.9M446.5 108.0h0.9M431.6 123.0h0.9M437.6 118.4h0.9M446.3 106.3h0.9M431.3 119.9h0.9M462.6 91.6h0.9M430.7 123.0h0.9M460.7 93.5h0.9M456.6 96.7h0.9M442.5 114.6h0.9M444.8 110.1h0.9M445.1 108.1h0.9M450.9 98.1h0.9M438.1 116.7h0.9M451.3 101.5h0.9M434.2 117.2h0.9M455.8 95.9h0.9M440.9 112.3h0.9M443.7 109.5h0.9M462.0 89.1h0.9M441.3 115.3h0.9M429.9 124.0h0.9M458.0 94.9h0.9M452.5 100.1h0.9M435.9 118.2h0.9M430.7 121.2h0.9M432.2 121.0h0.9M439.5 115.9h0.9M431.4 122.2h0.9M450.5 103.4h0.9M436.8 115.4h0.9M434.7 116.6h0.9M457.8 98.1h0.9M451.7 101.4h0.9M433.8 117.7h0.9M457.3 96.8h0.9M459.2 94.6h0.9M431.0 121.1h0.9M433.1 117.9h0.9M430.8 121.6h0.9M437.6 116.0h0.9M429.6 124.4h0.9M430.1 124.5h0.9M432.6 122.8h0.9M451.5 101.0h0.9M454.3 98.2h0.9M439.9 113.2h0.9M449.1 100.1h0.9M454.6 97.6h0.9M445.9 106.6h0.9M439.7 113.1h0.9M447.1 101.7h0.9M430.9 121.3h0.9M429.9 122.9h0.9M455.0 96.4h0.9M455.6 98.0h0.9M443.9 109.1h0.9M436.2 119.0h0.9M457.4 96.7h0.9M452.8 97.9h0.9M442.3 113.1h0.9M438.9 117.3h0.9M463.7 89.7h0.9M441.2 115.7h0.9M452.9 98.3h0.9M435.3 116.9h0.9M455.4 95.1h0.9M451.9 99.6h0.9M429.7 123.4h0.9M455.8 95.6h0.9M443.1 107.2h0.9M437.1 118.6h0.9M439.1 115.1h0.9M452.0 98.6h0.9M429.5 124.7h0.9M439.4 112.8h0.9M434.3 117.4h0.9M435.8 117.5h0.9M432.8 122.2h0.9M443.7 108.0h0.9M439.5 114.1h0.9M438.2 114.7h0.9M451.5 99.7h0.9M456.9 97.1h0.9M459.2 92.7h0.9M429.9 122.5h0.9M436.2 119.1h0.9M440.3 115.5h0.9M449.6 100.1h0.9M447.3 104.2h0.9M447.6 103.4h0.9M445.8 106.2h0.9M434.4 116.7h0.9M450.0 98.9h0.9M449.7 101.7h0.9M461.1 90.0h0.9M463.9 89.9h0.9M442.5 111.6h0.9M457.3 95.8h0.9M441.0 115.0h0.9M463.1 89.2h0.9M459.6 93.9h0.9M434.2 116.5h0.9M452.1 97.2h0.9M433.3 118.0h0.9M448.5 103.9h0.9M437.1 113.7h0.9M449.9 103.6h0.9M433.6 118.5h0.9M445.0 105.9h0.9M460.8 90.7h0.9M463.2 89.4h0.9M462.6 91.0h0.9M451.3 101.5h0.9M445.9 103.4h0.9M457.2 94.1h0.9M444.2 109.4h0.9M432.1 121.8h0.9M436.3 116.7h0.9M460.6 92.7h0.9M444.7 108.2h0.9M439.6 115.0h0.9M450.3 99.6h0.9M457.3 93.8h0.9M430.2 123.9h0.9M458.3 94.9h0.9M449.0 103.0h0.9M429.5 123.9h0.9M434.0 118.5h0.9M434.4 116.6h0.9M435.2 115.6h0.9M462.3 91.9h0.9M449.3 103.0h0.9M452.1 97.1h0.9M439.1 113.8h0.9M434.0 116.7h0.9M440.1 112.9h0.9M462.7 91.6h0.9M459.3 92.9h0.9M437.9 114.0h0.9M440.3 114.8h0.9M430.6 121.3h0.9M460.1 93.5h0.9M453.6 96.2h0.9M436.9 118.6h0.9M445.6 107.4h0.9M460.7 92.4h0.9M441.7 113.3h0.9M445.3 104.3h0.9M452.7 98.6h0.9M462.7 89.5h0.9M446.4 103.1h0.9M455.9 97.8h0.9M461.3 92.8h0.9M435.3 115.5h0.9M432.2 121.8h0.9M445.5 105.5h0.9M430.7 123.4h0.9" stroke="#eb9d1e" stroke-width="0.95" fill="none"/>
</g>
<rect x="434.5" y="160" width="61.10000000000002" height="13.900000000000006" fill="#8a5712"/>
<text x="464.8" y="170.4" font-size="8.2" text-anchor="middle" fill="#fff" stroke="#fff" stroke-width="0.22" >898</text>
<rect x="367.2" y="36.6" width="128.40000000000003" height="137.3" fill="none" stroke="#111" stroke-width="1.2"/>
<line x1="434.5" y1="36.6" x2="434.5" y2="173.9" stroke="#111" stroke-width="1"/>
<line x1="367.2" y1="111.4" x2="495.6" y2="111.4" stroke="#111" stroke-width="1"/>
<rect x="366.8" y="36.0" width="69.70000000000002" height="13.6" fill="#3a2a8b" stroke="#2a1c6c" stroke-width="0.7"/>
<text x="401.5" y="46.0" font-size="8.2" text-anchor="middle" fill="#fff" stroke="#fff" stroke-width="0.22" >879</text>
<text x="372.2" y="60" font-size="8.2" text-anchor="start" fill="#111" stroke="#111" stroke-width="0.22" textLength="65.7" lengthAdjust="spacingAndGlyphs" >Up regulated genes</text>
<text x="490.2" y="154.2" font-size="8.2" text-anchor="end" fill="#111" stroke="#111" stroke-width="0.22" textLength="76.2" lengthAdjust="spacingAndGlyphs" >Down regulated genes</text>
<text x="363.6" y="53.199999999999996" font-size="8" text-anchor="end" fill="#111" stroke="#111" stroke-width="0.22" >20</text>
<text x="363.6" y="82.89999999999999" font-size="8" text-anchor="end" fill="#111" stroke="#111" stroke-width="0.22" >10</text>
<text x="363.6" y="111.7" font-size="8" text-anchor="end" fill="#111" stroke="#111" stroke-width="0.22" >0</text>
<text x="363.6" y="141.3" font-size="8" text-anchor="end" fill="#111" stroke="#111" stroke-width="0.22" >-10</text>
<text x="363.6" y="170.10000000000002" font-size="8" text-anchor="end" fill="#111" stroke="#111" stroke-width="0.22" >-20</text>
<text x="370.0" y="184.7" font-size="8" text-anchor="middle" fill="#111" stroke="#111" stroke-width="0.22" >-20</text>
<text x="399.6" y="184.7" font-size="8" text-anchor="middle" fill="#111" stroke="#111" stroke-width="0.22" >-10</text>
<text x="433.8" y="184.7" font-size="8" text-anchor="middle" fill="#111" stroke="#111" stroke-width="0.22" >0</text>
<text x="456.7" y="184.7" font-size="8" text-anchor="middle" fill="#111" stroke="#111" stroke-width="0.22" >10</text>
<text x="489" y="184.7" font-size="8" text-anchor="middle" fill="#111" stroke="#111" stroke-width="0.22" >20</text>
<text x="345.2" y="105.5" font-size="9.2" text-anchor="middle" fill="#111" stroke="#111" stroke-width="0.3" textLength="121.6" lengthAdjust="spacingAndGlyphs" transform="rotate(-90 345.2 105.5)" dy="3.2">SCD::Keap1F/F::Tie1-Cre (FPKM Log2)</text>
<text x="431.2" y="197.1" font-size="9.1" text-anchor="middle" fill="#111" stroke="#111" stroke-width="0.28" textLength="90" lengthAdjust="spacingAndGlyphs" >SCD::Keap1F/F (FPKM log2)</text>
<g shape-rendering="crispEdges">
<rect x="108.00" y="264.95" width="15.45" height="9.44" fill="#d6cdee"/>
<rect x="123.15" y="264.95" width="15.45" height="9.44" fill="#b4a2e0"/>
<rect x="138.30" y="264.95" width="15.45" height="9.44" fill="#8a6dd0"/>
<rect x="153.45" y="264.95" width="15.45" height="9.44" fill="#f2cde2"/>
<rect x="168.60" y="264.95" width="15.45" height="9.44" fill="#f0c8df"/>
<rect x="183.75" y="264.95" width="15.05" height="9.44" fill="#f2cce2"/>
<rect x="108.00" y="274.09" width="15.45" height="9.44" fill="#ebe6f5"/>
<rect x="123.15" y="274.09" width="15.45" height="9.44" fill="#d8cfee"/>
<rect x="138.30" y="274.09" width="15.45" height="9.44" fill="#ddd6f0"/>
<rect x="153.45" y="274.09" width="15.45" height="9.44" fill="#f4d4e6"/>
<rect x="168.60" y="274.09" width="15.45" height="9.44" fill="#f4dbea"/>
<rect x="183.75" y="274.09" width="15.05" height="9.44" fill="#f8e6f0"/>
<rect x="108.00" y="283.24" width="15.45" height="9.44" fill="#a994dc"/>
<rect x="123.15" y="283.24" width="15.45" height="9.44" fill="#9a80d6"/>
<rect x="138.30" y="283.24" width="15.45" height="9.44" fill="#5a28b8"/>
<rect x="153.45" y="283.24" width="15.45" height="9.44" fill="#e8a2cc"/>
<rect x="168.60" y="283.24" width="15.45" height="9.44" fill="#e08cc0"/>
<rect x="183.75" y="283.24" width="15.05" height="9.44" fill="#e494c4"/>
<rect x="108.00" y="292.38" width="15.45" height="9.44" fill="#a48ed9"/>
<rect x="123.15" y="292.38" width="15.45" height="9.44" fill="#7a58c8"/>
<rect x="138.30" y="292.38" width="15.45" height="9.44" fill="#9888d6"/>
<rect x="153.45" y="292.38" width="15.45" height="9.44" fill="#dc5aa0"/>
<rect x="168.60" y="292.38" width="15.45" height="9.44" fill="#e496c6"/>
<rect x="183.75" y="292.38" width="15.05" height="9.44" fill="#e08abe"/>
<rect x="108.00" y="301.53" width="15.45" height="9.44" fill="#5a28b8"/>
<rect x="123.15" y="301.53" width="15.45" height="9.44" fill="#5a26b6"/>
<rect x="138.30" y="301.53" width="15.45" height="9.44" fill="#7e60cc"/>
<rect x="153.45" y="301.53" width="15.45" height="9.44" fill="#d4358c"/>
<rect x="168.60" y="301.53" width="15.45" height="9.44" fill="#dc68aa"/>
<rect x="183.75" y="301.53" width="15.05" height="9.44" fill="#dc64a8"/>
<rect x="108.00" y="310.67" width="15.45" height="9.44" fill="#fae8f2"/>
<rect x="123.15" y="310.67" width="15.45" height="9.44" fill="#fae8f2"/>
<rect x="138.30" y="310.67" width="15.45" height="9.44" fill="#e2dcf2"/>
<rect x="153.45" y="310.67" width="15.45" height="9.44" fill="#e4dcf2"/>
<rect x="168.60" y="310.67" width="15.45" height="9.44" fill="#fcf4f8"/>
<rect x="183.75" y="310.67" width="15.05" height="9.44" fill="#f6f4fa"/>
<rect x="108.00" y="319.81" width="15.45" height="9.44" fill="#7850c8"/>
<rect x="123.15" y="319.81" width="15.45" height="9.44" fill="#5a28b8"/>
<rect x="138.30" y="319.81" width="15.45" height="9.44" fill="#f0eef8"/>
<rect x="153.45" y="319.81" width="15.45" height="9.44" fill="#d84698"/>
<rect x="168.60" y="319.81" width="15.45" height="9.44" fill="#f0c8e0"/>
<rect x="183.75" y="319.81" width="15.05" height="9.44" fill="#f8e6f0"/>
<rect x="108.00" y="328.96" width="15.45" height="9.44" fill="#ebe8f6"/>
<rect x="123.15" y="328.96" width="15.45" height="9.44" fill="#ece8f6"/>
<rect x="138.30" y="328.96" width="15.45" height="9.44" fill="#9a82d8"/>
<rect x="153.45" y="328.96" width="15.45" height="9.44" fill="#f7dcec"/>
<rect x="168.60" y="328.96" width="15.45" height="9.44" fill="#f6dcec"/>
<rect x="183.75" y="328.96" width="15.05" height="9.44" fill="#fae8f2"/>
<rect x="108.00" y="338.10" width="15.45" height="9.44" fill="#cdc2ec"/>
<rect x="123.15" y="338.10" width="15.45" height="9.44" fill="#cabeea"/>
<rect x="138.30" y="338.10" width="15.45" height="9.44" fill="#5a2ab8"/>
<rect x="153.45" y="338.10" width="15.45" height="9.44" fill="#f2c8e0"/>
<rect x="168.60" y="338.10" width="15.45" height="9.44" fill="#eebcda"/>
<rect x="183.75" y="338.10" width="15.05" height="9.44" fill="#efbddb"/>
<rect x="108.00" y="347.25" width="15.45" height="9.44" fill="#eeebf7"/>
<rect x="123.15" y="347.25" width="15.45" height="9.44" fill="#efecf8"/>
<rect x="138.30" y="347.25" width="15.45" height="9.44" fill="#6a44c0"/>
<rect x="153.45" y="347.25" width="15.45" height="9.44" fill="#fcf2f7"/>
<rect x="168.60" y="347.25" width="15.45" height="9.44" fill="#f9e2ee"/>
<rect x="183.75" y="347.25" width="15.05" height="9.44" fill="#f4d3e6"/>
<rect x="108.00" y="356.39" width="15.45" height="9.44" fill="#6438bc"/>
<rect x="123.15" y="356.39" width="15.45" height="9.44" fill="#5a26b6"/>
<rect x="138.30" y="356.39" width="15.45" height="9.44" fill="#b3a4e0"/>
<rect x="153.45" y="356.39" width="15.45" height="9.44" fill="#e48ac0"/>
<rect x="168.60" y="356.39" width="15.45" height="9.44" fill="#e89ecb"/>
<rect x="183.75" y="356.39" width="15.05" height="9.44" fill="#eab0d2"/>
<rect x="108.00" y="365.53" width="15.45" height="9.44" fill="#5a26b6"/>
<rect x="123.15" y="365.53" width="15.45" height="9.44" fill="#5a26b6"/>
<rect x="138.30" y="365.53" width="15.45" height="9.44" fill="#bcaee6"/>
<rect x="153.45" y="365.53" width="15.45" height="9.44" fill="#eaa4cc"/>
<rect x="168.60" y="365.53" width="15.45" height="9.44" fill="#e89fca"/>
<rect x="183.75" y="365.53" width="15.05" height="9.44" fill="#ecb6d6"/>
<rect x="108.00" y="374.68" width="15.45" height="9.44" fill="#7a54c8"/>
<rect x="123.15" y="374.68" width="15.45" height="9.44" fill="#5a26b6"/>
<rect x="138.30" y="374.68" width="15.45" height="9.44" fill="#5a26b6"/>
<rect x="153.45" y="374.68" width="15.45" height="9.44" fill="#dc62a6"/>
<rect x="168.60" y="374.68" width="15.45" height="9.44" fill="#d4308a"/>
<rect x="183.75" y="374.68" width="15.05" height="9.44" fill="#d4308a"/>
<rect x="108.00" y="383.82" width="15.45" height="9.44" fill="#5a26b6"/>
<rect x="123.15" y="383.82" width="15.45" height="9.44" fill="#5a26b6"/>
<rect x="138.30" y="383.82" width="15.45" height="9.44" fill="#5a26b6"/>
<rect x="153.45" y="383.82" width="15.45" height="9.44" fill="#d4308a"/>
<rect x="168.60" y="383.82" width="15.45" height="9.44" fill="#d4308a"/>
<rect x="183.75" y="383.82" width="15.05" height="9.44" fill="#d4308a"/>
<rect x="108.00" y="392.97" width="15.45" height="9.44" fill="#5a26b6"/>
<rect x="123.15" y="392.97" width="15.45" height="9.44" fill="#5a26b6"/>
<rect x="138.30" y="392.97" width="15.45" height="9.44" fill="#5a26b6"/>
<rect x="153.45" y="392.97" width="15.45" height="9.44" fill="#d4308a"/>
<rect x="168.60" y="392.97" width="15.45" height="9.44" fill="#d4308a"/>
<rect x="183.75" y="392.97" width="15.05" height="9.44" fill="#d4308a"/>
<rect x="108.00" y="402.11" width="15.45" height="9.44" fill="#7a54c8"/>
<rect x="123.15" y="402.11" width="15.45" height="9.44" fill="#5a26b6"/>
<rect x="138.30" y="402.11" width="15.45" height="9.44" fill="#5a26b6"/>
<rect x="153.45" y="402.11" width="15.45" height="9.44" fill="#dc5aa2"/>
<rect x="168.60" y="402.11" width="15.45" height="9.44" fill="#d43c90"/>
<rect x="183.75" y="402.11" width="15.05" height="9.44" fill="#d84898"/>
<rect x="108.00" y="411.25" width="15.45" height="9.44" fill="#ab96dc"/>
<rect x="123.15" y="411.25" width="15.45" height="9.44" fill="#9e86d8"/>
<rect x="138.30" y="411.25" width="15.45" height="9.44" fill="#eeeaf7"/>
<rect x="153.45" y="411.25" width="15.45" height="9.44" fill="#f2cce2"/>
<rect x="168.60" y="411.25" width="15.45" height="9.44" fill="#f6deec"/>
<rect x="183.75" y="411.25" width="15.05" height="9.44" fill="#fae8f2"/>
<rect x="108.00" y="420.40" width="15.45" height="9.44" fill="#c8bcea"/>
<rect x="123.15" y="420.40" width="15.45" height="9.44" fill="#bcaee6"/>
<rect x="138.30" y="420.40" width="15.45" height="9.44" fill="#a896dc"/>
<rect x="153.45" y="420.40" width="15.45" height="9.44" fill="#ecb8d6"/>
<rect x="168.60" y="420.40" width="15.45" height="9.44" fill="#e8a4cc"/>
<rect x="183.75" y="420.40" width="15.05" height="9.44" fill="#e8a8ce"/>
<rect x="108.00" y="429.54" width="15.45" height="9.44" fill="#8664cc"/>
<rect x="123.15" y="429.54" width="15.45" height="9.44" fill="#9c84d8"/>
<rect x="138.30" y="429.54" width="15.45" height="9.44" fill="#8868cc"/>
<rect x="153.45" y="429.54" width="15.45" height="9.44" fill="#e070b0"/>
<rect x="168.60" y="429.54" width="15.45" height="9.44" fill="#e290c4"/>
<rect x="183.75" y="429.54" width="15.05" height="9.44" fill="#e290c2"/>
<rect x="108.00" y="438.69" width="15.45" height="9.44" fill="#a894dc"/>
<rect x="123.15" y="438.69" width="15.45" height="9.44" fill="#9c86d8"/>
<rect x="138.30" y="438.69" width="15.45" height="9.44" fill="#5a26b6"/>
<rect x="153.45" y="438.69" width="15.45" height="9.44" fill="#eaa6ce"/>
<rect x="168.60" y="438.69" width="15.45" height="9.44" fill="#e492c4"/>
<rect x="183.75" y="438.69" width="15.05" height="9.44" fill="#e494c4"/>
<rect x="108.00" y="447.83" width="15.45" height="9.44" fill="#8a6ccf"/>
<rect x="123.15" y="447.83" width="15.45" height="9.44" fill="#6234bc"/>
<rect x="138.30" y="447.83" width="15.45" height="9.44" fill="#5a26b6"/>
<rect x="153.45" y="447.83" width="15.45" height="9.44" fill="#d63a90"/>
<rect x="168.60" y="447.83" width="15.45" height="9.44" fill="#e07cb8"/>
<rect x="183.75" y="447.83" width="15.05" height="9.44" fill="#d63e92"/>
<rect x="108.00" y="456.97" width="15.45" height="9.44" fill="#8a6ccf"/>
<rect x="123.15" y="456.97" width="15.45" height="9.44" fill="#6a40c0"/>
<rect x="138.30" y="456.97" width="15.45" height="9.44" fill="#9c84d8"/>
<rect x="153.45" y="456.97" width="15.45" height="9.44" fill="#e08ac0"/>
<rect x="168.60" y="456.97" width="15.45" height="9.44" fill="#e08ac0"/>
<rect x="183.75" y="456.97" width="15.05" height="9.44" fill="#e086bc"/>
<rect x="108.00" y="466.12" width="15.45" height="9.44" fill="#7c58c8"/>
<rect x="123.15" y="466.12" width="15.45" height="9.44" fill="#7c58c8"/>
<rect x="138.30" y="466.12" width="15.45" height="9.44" fill="#5a26b6"/>
<rect x="153.45" y="466.12" width="15.45" height="9.44" fill="#d8489a"/>
<rect x="168.60" y="466.12" width="15.45" height="9.44" fill="#dc64a8"/>
<rect x="183.75" y="466.12" width="15.05" height="9.44" fill="#da5aa2"/>
<rect x="108.00" y="475.26" width="15.45" height="9.44" fill="#a088d8"/>
<rect x="123.15" y="475.26" width="15.45" height="9.44" fill="#6234bc"/>
<rect x="138.30" y="475.26" width="15.45" height="9.44" fill="#5a28b6"/>
<rect x="153.45" y="475.26" width="15.45" height="9.44" fill="#d85aa2"/>
<rect x="168.60" y="475.26" width="15.45" height="9.44" fill="#e08ac0"/>
<rect x="183.75" y="475.26" width="15.05" height="9.44" fill="#e08ac0"/>
<rect x="108.00" y="484.41" width="15.45" height="9.44" fill="#5a26b6"/>
<rect x="123.15" y="484.41" width="15.45" height="9.44" fill="#5a26b6"/>
<rect x="138.30" y="484.41" width="15.45" height="9.44" fill="#dcd6f0"/>
<rect x="153.45" y="484.41" width="15.45" height="9.44" fill="#f2d8ea"/>
<rect x="168.60" y="484.41" width="15.45" height="9.44" fill="#e08ac0"/>
<rect x="183.75" y="484.41" width="15.05" height="9.44" fill="#e08ac0"/>
<rect x="108.00" y="493.55" width="15.45" height="9.44" fill="#5a26b6"/>
<rect x="123.15" y="493.55" width="15.45" height="9.44" fill="#5a26b6"/>
<rect x="138.30" y="493.55" width="15.45" height="9.44" fill="#5a26b6"/>
<rect x="153.45" y="493.55" width="15.45" height="9.44" fill="#d4308a"/>
<rect x="168.60" y="493.55" width="15.45" height="9.44" fill="#d4308a"/>
<rect x="183.75" y="493.55" width="15.05" height="9.44" fill="#d4308a"/>
<rect x="108.00" y="502.69" width="15.45" height="9.44" fill="#5a26b6"/>
<rect x="123.15" y="502.69" width="15.45" height="9.44" fill="#5a26b6"/>
<rect x="138.30" y="502.69" width="15.45" height="9.44" fill="#5a26b6"/>
<rect x="153.45" y="502.69" width="15.45" height="9.44" fill="#d4308a"/>
<rect x="168.60" y="502.69" width="15.45" height="9.44" fill="#d4308a"/>
<rect x="183.75" y="502.69" width="15.05" height="9.44" fill="#d4308a"/>
<rect x="108.00" y="511.84" width="15.45" height="9.44" fill="#a48ed9"/>
<rect x="123.15" y="511.84" width="15.45" height="9.44" fill="#9e86d6"/>
<rect x="138.30" y="511.84" width="15.45" height="9.44" fill="#7c5ac8"/>
<rect x="153.45" y="511.84" width="15.45" height="9.44" fill="#e496c6"/>
<rect x="168.60" y="511.84" width="15.45" height="9.44" fill="#e08ac0"/>
<rect x="183.75" y="511.84" width="15.05" height="9.44" fill="#e08ec2"/>
<rect x="108.00" y="520.98" width="15.45" height="9.44" fill="#b09ade"/>
<rect x="123.15" y="520.98" width="15.45" height="9.44" fill="#a890da"/>
<rect x="138.30" y="520.98" width="15.45" height="9.44" fill="#f8f6fc"/>
<rect x="153.45" y="520.98" width="15.45" height="9.44" fill="#fdf6fa"/>
<rect x="168.60" y="520.98" width="15.45" height="9.44" fill="#f6deec"/>
<rect x="183.75" y="520.98" width="15.05" height="9.44" fill="#f8e6f0"/>
<rect x="108.00" y="530.13" width="15.45" height="9.44" fill="#cbbfeb"/>
<rect x="123.15" y="530.13" width="15.45" height="9.44" fill="#cbbfeb"/>
<rect x="138.30" y="530.13" width="15.45" height="9.44" fill="#ffffff"/>
<rect x="153.45" y="530.13" width="15.45" height="9.44" fill="#f8e0ee"/>
<rect x="168.60" y="530.13" width="15.45" height="9.44" fill="#ffffff"/>
<rect x="183.75" y="530.13" width="15.05" height="9.44" fill="#ffffff"/>
<rect x="108.00" y="539.27" width="15.45" height="9.44" fill="#e4e0f4"/>
<rect x="123.15" y="539.27" width="15.45" height="9.44" fill="#ddd6f0"/>
<rect x="138.30" y="539.27" width="15.45" height="9.44" fill="#7a54c8"/>
<rect x="153.45" y="539.27" width="15.45" height="9.44" fill="#f8e0ee"/>
<rect x="168.60" y="539.27" width="15.45" height="9.44" fill="#f0c0dc"/>
<rect x="183.75" y="539.27" width="15.05" height="9.44" fill="#f2c8e0"/>
<rect x="108.00" y="548.41" width="15.45" height="9.14" fill="#e8e4f5"/>
<rect x="123.15" y="548.41" width="15.45" height="9.14" fill="#d4caee"/>
<rect x="138.30" y="548.41" width="15.45" height="9.14" fill="#6c46c2"/>
<rect x="153.45" y="548.41" width="15.45" height="9.14" fill="#fae6f0"/>
<rect x="168.60" y="548.41" width="15.45" height="9.14" fill="#f2cce2"/>
<rect x="183.75" y="548.41" width="15.05" height="9.14" fill="#f2cce2"/>
</g>
<text x="75.8" y="270.9" font-size="7.8" text-anchor="start" fill="#111" stroke="#111" stroke-width="0.22" >Hmox1</text>
<text x="75.8" y="280.1" font-size="7.8" text-anchor="start" fill="#111" stroke="#111" stroke-width="0.22" >Hmox2</text>
<text x="75.8" y="289.3" font-size="7.8" text-anchor="start" fill="#111" stroke="#111" stroke-width="0.22" >Blvrb</text>
<text x="75.8" y="298.5" font-size="7.8" text-anchor="start" fill="#111" stroke="#111" stroke-width="0.22" >NOS3</text>
<text x="75.8" y="307.7" font-size="7.8" text-anchor="start" fill="#111" stroke="#111" stroke-width="0.22" >Ednrb</text>
<text x="75.8" y="316.9" font-size="7.8" text-anchor="start" fill="#111" stroke="#111" stroke-width="0.22" >Sod2</text>
<text x="75.8" y="326.1" font-size="7.8" text-anchor="start" fill="#111" stroke="#111" stroke-width="0.22" >Sod3</text>
<text x="75.8" y="335.3" font-size="7.8" text-anchor="start" fill="#111" stroke="#111" stroke-width="0.22" >Prdx1</text>
<text x="75.8" y="344.5" font-size="7.8" text-anchor="start" fill="#111" stroke="#111" stroke-width="0.22" >Srxn1</text>
<text x="75.8" y="353.7" font-size="7.8" text-anchor="start" fill="#111" stroke="#111" stroke-width="0.22" >Txnrd1</text>
<text x="75.8" y="362.9" font-size="7.8" text-anchor="start" fill="#111" stroke="#111" stroke-width="0.22" >Gstm1</text>
<text x="75.8" y="372.1" font-size="7.8" text-anchor="start" fill="#111" stroke="#111" stroke-width="0.22" >Gstm2</text>
<text x="75.8" y="381.3" font-size="7.8" text-anchor="start" fill="#111" stroke="#111" stroke-width="0.22" >Gsta1</text>
<text x="75.8" y="390.5" font-size="7.8" text-anchor="start" fill="#111" stroke="#111" stroke-width="0.22" >Gsta2</text>
<text x="75.8" y="399.7" font-size="7.8" text-anchor="start" fill="#111" stroke="#111" stroke-width="0.22" >Gsta3</text>
<text x="75.8" y="408.9" font-size="7.8" text-anchor="start" fill="#111" stroke="#111" stroke-width="0.22" >Gsta4</text>
<text x="75.8" y="418.1" font-size="7.8" text-anchor="start" fill="#111" stroke="#111" stroke-width="0.22" >Mgst1</text>
<text x="75.8" y="427.3" font-size="7.8" text-anchor="start" fill="#111" stroke="#111" stroke-width="0.22" >Gstp1</text>
<text x="75.8" y="436.5" font-size="7.8" text-anchor="start" fill="#111" stroke="#111" stroke-width="0.22" >Gclc</text>
<text x="75.8" y="445.7" font-size="7.8" text-anchor="start" fill="#111" stroke="#111" stroke-width="0.22" >Gclm</text>
<text x="75.8" y="454.9" font-size="7.8" text-anchor="start" fill="#111" stroke="#111" stroke-width="0.22" >Ggt1</text>
<text x="75.8" y="464.1" font-size="7.8" text-anchor="start" fill="#111" stroke="#111" stroke-width="0.22" >Slc6a9</text>
<text x="75.8" y="473.3" font-size="7.8" text-anchor="start" fill="#111" stroke="#111" stroke-width="0.22" >Slc7a11</text>
<text x="75.8" y="482.5" font-size="7.8" text-anchor="start" fill="#111" stroke="#111" stroke-width="0.22" >Slc40a1</text>
<text x="75.8" y="491.7" font-size="7.8" text-anchor="start" fill="#111" stroke="#111" stroke-width="0.22" >Aldh1a1</text>
<text x="75.8" y="500.9" font-size="7.8" text-anchor="start" fill="#111" stroke="#111" stroke-width="0.22" >Aldh3a1</text>
<text x="75.8" y="510.1" font-size="7.8" text-anchor="start" fill="#111" stroke="#111" stroke-width="0.22" >Adh7</text>
<text x="75.8" y="519.3" font-size="7.8" text-anchor="start" fill="#111" stroke="#111" stroke-width="0.22" >Ptgr1</text>
<text x="75.8" y="528.5" font-size="7.8" text-anchor="start" fill="#111" stroke="#111" stroke-width="0.22" >Ephx1</text>
<text x="75.8" y="537.7" font-size="7.8" text-anchor="start" fill="#111" stroke="#111" stroke-width="0.22" >Acox1</text>
<text x="75.8" y="546.9" font-size="7.8" text-anchor="start" fill="#111" stroke="#111" stroke-width="0.22" >Taldo1</text>
<text x="75.8" y="556.1" font-size="7.8" text-anchor="start" fill="#111" stroke="#111" stroke-width="0.22" >Pgd</text>
<text x="100.6" y="250.3" font-size="7.7" text-anchor="start" fill="#111" stroke="#111" stroke-width="0.22" >SCD::</text>
<text x="100.6" y="259.8" font-size="7.7" text-anchor="start" fill="#111" stroke="#111" stroke-width="0.22" textLength="33.8" lengthAdjust="spacingAndGlyphs" >Keap1F/F</text>
<text x="148.8" y="240.7" font-size="7.7" text-anchor="start" fill="#111" stroke="#111" stroke-width="0.22" >SCD::</text>
<text x="148.8" y="250.3" font-size="7.7" text-anchor="start" fill="#111" stroke="#111" stroke-width="0.22" >Keap1F/F::</text>
<text x="148.8" y="259.8" font-size="7.7" text-anchor="start" fill="#111" stroke="#111" stroke-width="0.22" >Tie1-Cre</text>
<line x1="71.9" y1="265.2" x2="71.9" y2="290.0" stroke="#555" stroke-width="1.4"/>
<line x1="71.9" y1="330.8" x2="71.9" y2="354.5" stroke="#555" stroke-width="1.4"/>
<line x1="71.9" y1="358.1" x2="71.9" y2="422.8" stroke="#555" stroke-width="1.4"/>
<line x1="71.9" y1="431.3" x2="71.9" y2="478.5" stroke="#555" stroke-width="1.4"/>
<line x1="71.9" y1="485.9" x2="71.9" y2="525.0" stroke="#555" stroke-width="1.4"/>
<line x1="71.9" y1="543.0" x2="71.9" y2="558.4" stroke="#555" stroke-width="1.4"/>
<text x="7.5" y="273.6" font-size="7.6" text-anchor="start" fill="#111" stroke="#111" stroke-width="0.22" >Heme metabolism</text>
<text x="7.5" y="334.0" font-size="7.6" text-anchor="start" fill="#111" stroke="#111" stroke-width="0.22" >Antioxidant:</text>
<text x="7.5" y="342.9" font-size="7.6" text-anchor="start" fill="#111" stroke="#111" stroke-width="0.22" >TXN-based</text>
<text x="7.5" y="352.0" font-size="7.6" text-anchor="start" fill="#111" stroke="#111" stroke-width="0.22" >system</text>
<text x="7.5" y="365.5" font-size="7.6" text-anchor="start" fill="#111" stroke="#111" stroke-width="0.22" >Detoxification:</text>
<text x="7.5" y="375.0" font-size="7.6" text-anchor="start" fill="#111" stroke="#111" stroke-width="0.22" >phase II drug</text>
<text x="7.5" y="384.8" font-size="7.6" text-anchor="start" fill="#111" stroke="#111" stroke-width="0.22" >conjugation</text>
<text x="7.5" y="438.2" font-size="7.6" text-anchor="start" fill="#111" stroke="#111" stroke-width="0.22" >Antioxidant:</text>
<text x="7.5" y="447.1" font-size="7.6" text-anchor="start" fill="#111" stroke="#111" stroke-width="0.22" >GSH-based</text>
<text x="7.5" y="455.6" font-size="7.6" text-anchor="start" fill="#111" stroke="#111" stroke-width="0.22" >system</text>
<text x="7.5" y="484.5" font-size="7.6" text-anchor="start" fill="#111" stroke="#111" stroke-width="0.22" >Detoxification:</text>
<text x="7.5" y="492.2" font-size="7.6" text-anchor="start" fill="#111" stroke="#111" stroke-width="0.22" >phase I drug</text>
<text x="7.5" y="501.3" font-size="7.6" text-anchor="start" fill="#111" stroke="#111" stroke-width="0.22" >oxidation,</text>
<text x="7.5" y="510.6" font-size="7.6" text-anchor="start" fill="#111" stroke="#111" stroke-width="0.22" >reduction</text>
<text x="7.5" y="520.1" font-size="7.6" text-anchor="start" fill="#111" stroke="#111" stroke-width="0.22" >and hydrolysis</text>
<text x="7.5" y="528.2" font-size="7.6" text-anchor="start" fill="#111" stroke="#111" stroke-width="0.22" >Lipid</text>
<text x="7.5" y="537.3" font-size="7.6" text-anchor="start" fill="#111" stroke="#111" stroke-width="0.22" >metabolism</text>
<text x="7.5" y="547.2" font-size="7.6" text-anchor="start" fill="#111" stroke="#111" stroke-width="0.22" >Carbohydrate</text>
<text x="7.5" y="555.7" font-size="7.6" text-anchor="start" fill="#111" stroke="#111" stroke-width="0.22" >metabolism</text>
<rect x="216" y="533.3" width="8.10" height="13.2" fill="#5a2aa6"/>
<rect x="224" y="533.3" width="8.30" height="13.2" fill="#a994d6"/>
<rect x="241" y="533.3" width="8.70" height="13.2" fill="#e68cc0"/>
<rect x="249.6" y="533.3" width="8.70" height="13.2" fill="#d8307f"/>
<text x="219.5" y="528.0" font-size="7.8" text-anchor="middle" fill="#111" stroke="#111" stroke-width="0.22" >-2</text>
<text x="227.8" y="528.0" font-size="7.8" text-anchor="middle" fill="#111" stroke="#111" stroke-width="0.22" >-1</text>
<text x="237.4" y="528.0" font-size="7.8" text-anchor="middle" fill="#111" stroke="#111" stroke-width="0.22" >0</text>
<text x="246.0" y="528.0" font-size="7.8" text-anchor="middle" fill="#111" stroke="#111" stroke-width="0.22" >1</text>
<text x="255.0" y="528.0" font-size="7.8" text-anchor="middle" fill="#111" stroke="#111" stroke-width="0.22" >2</text>
<text x="207" y="557.4" font-size="7.6" text-anchor="start" fill="#111" stroke="#111" stroke-width="0.22" textLength="60.3" lengthAdjust="spacingAndGlyphs" >Fold change log 2</text>
<text x="269.7" y="250.8" font-size="9.6" text-anchor="middle" fill="#111" stroke="#111" stroke-width="0.22" textLength="27.7" lengthAdjust="spacingAndGlyphs" >Hmox1</text>
<line x1="250.3" y1="257.2" x2="250.3" y2="343.20000000000005" stroke="#111" stroke-width="1.3"/>
<line x1="247.3" y1="259.7" x2="250.3" y2="259.7" stroke="#111" stroke-width="0.9"/>
<text x="244" y="262.5" font-size="7.9" text-anchor="end" fill="#111" stroke="#111" stroke-width="0.22" >900</text>
<line x1="247.3" y1="287.3" x2="250.3" y2="287.3" stroke="#111" stroke-width="0.9"/>
<text x="244" y="290.1" font-size="7.9" text-anchor="end" fill="#111" stroke="#111" stroke-width="0.22" >600</text>
<line x1="247.3" y1="315.3" x2="250.3" y2="315.3" stroke="#111" stroke-width="0.9"/>
<text x="244" y="318.1" font-size="7.9" text-anchor="end" fill="#111" stroke="#111" stroke-width="0.22" >300</text>
<line x1="247.3" y1="342.6" x2="250.3" y2="342.6" stroke="#111" stroke-width="0.9"/>
<text x="244" y="345.40000000000003" font-size="7.9" text-anchor="end" fill="#111" stroke="#111" stroke-width="0.22" >0</text>
<line x1="249.8" y1="342.6" x2="290.2" y2="342.6" stroke="#111" stroke-width="1.3"/>
<line x1="269.6" y1="342.6" x2="269.6" y2="345.40000000000003" stroke="#111" stroke-width="0.9"/>
<line x1="289" y1="342.6" x2="289" y2="345.40000000000003" stroke="#111" stroke-width="0.9"/>
<line x1="260.0" y1="302.6" x2="260.0" y2="311.7" stroke="#1a1a1a" stroke-width="1.05"/>
<line x1="258.7" y1="302.6" x2="261.3" y2="302.6" stroke="#1a1a1a" stroke-width="1.05"/>
<line x1="278.5" y1="265.0" x2="278.5" y2="267.4" stroke="#1a1a1a" stroke-width="1.05"/>
<line x1="277.2" y1="265.0" x2="279.8" y2="265.0" stroke="#1a1a1a" stroke-width="1.05"/>
<rect x="253.1" y="311.7" width="13.80" height="30.90" fill="#a4002c"/>
<rect x="271.6" y="267.4" width="13.80" height="75.20" fill="#6aa842"/>
<text x="342.5" y="252.2" font-size="9.6" text-anchor="middle" fill="#111" stroke="#111" stroke-width="0.22" textLength="22.5" lengthAdjust="spacingAndGlyphs" >Nos3</text>
<line x1="320.8" y1="258.7" x2="320.8" y2="343.20000000000005" stroke="#111" stroke-width="1.3"/>
<line x1="317.8" y1="261.2" x2="320.8" y2="261.2" stroke="#111" stroke-width="0.9"/>
<text x="315" y="264.0" font-size="7.9" text-anchor="end" fill="#111" stroke="#111" stroke-width="0.22" >150</text>
<line x1="317.8" y1="288.4" x2="320.8" y2="288.4" stroke="#111" stroke-width="0.9"/>
<text x="315" y="291.2" font-size="7.9" text-anchor="end" fill="#111" stroke="#111" stroke-width="0.22" >100</text>
<line x1="317.8" y1="315.5" x2="320.8" y2="315.5" stroke="#111" stroke-width="0.9"/>
<text x="315" y="318.3" font-size="7.9" text-anchor="end" fill="#111" stroke="#111" stroke-width="0.22" >50</text>
<line x1="317.8" y1="342.6" x2="320.8" y2="342.6" stroke="#111" stroke-width="0.9"/>
<text x="315" y="345.40000000000003" font-size="7.9" text-anchor="end" fill="#111" stroke="#111" stroke-width="0.22" >0</text>
<line x1="320.3" y1="342.6" x2="364.3" y2="342.6" stroke="#111" stroke-width="1.3"/>
<line x1="340.9" y1="342.6" x2="340.9" y2="345.40000000000003" stroke="#111" stroke-width="0.9"/>
<line x1="361.7" y1="342.6" x2="361.7" y2="345.40000000000003" stroke="#111" stroke-width="0.9"/>
<line x1="330.9" y1="333.0" x2="330.9" y2="334.9" stroke="#1a1a1a" stroke-width="1.05"/>
<line x1="329.6" y1="333.0" x2="332.2" y2="333.0" stroke="#1a1a1a" stroke-width="1.05"/>
<line x1="351.1" y1="289.4" x2="351.1" y2="299.4" stroke="#1a1a1a" stroke-width="1.05"/>
<line x1="349.8" y1="289.4" x2="352.4" y2="289.4" stroke="#1a1a1a" stroke-width="1.05"/>
<rect x="322.9" y="334.9" width="15.90" height="7.70" fill="#a4002c"/>
<rect x="343.1" y="299.4" width="15.90" height="43.20" fill="#6aa842"/>
<text x="415.0" y="252.1" font-size="9.6" text-anchor="middle" fill="#111" stroke="#111" stroke-width="0.22" textLength="24.1" lengthAdjust="spacingAndGlyphs" >Vegfa</text>
<line x1="394.4" y1="258.7" x2="394.4" y2="343.20000000000005" stroke="#111" stroke-width="1.3"/>
<line x1="391.4" y1="261.2" x2="394.4" y2="261.2" stroke="#111" stroke-width="0.9"/>
<text x="388.7" y="264.0" font-size="7.9" text-anchor="end" fill="#111" stroke="#111" stroke-width="0.22" >30</text>
<line x1="391.4" y1="288.4" x2="394.4" y2="288.4" stroke="#111" stroke-width="0.9"/>
<text x="388.7" y="291.2" font-size="7.9" text-anchor="end" fill="#111" stroke="#111" stroke-width="0.22" >20</text>
<line x1="391.4" y1="315.5" x2="394.4" y2="315.5" stroke="#111" stroke-width="0.9"/>
<text x="388.7" y="318.3" font-size="7.9" text-anchor="end" fill="#111" stroke="#111" stroke-width="0.22" >10</text>
<line x1="391.4" y1="342.6" x2="394.4" y2="342.6" stroke="#111" stroke-width="0.9"/>
<text x="388.7" y="345.40000000000003" font-size="7.9" text-anchor="end" fill="#111" stroke="#111" stroke-width="0.22" >0</text>
<line x1="393.9" y1="342.6" x2="436.9" y2="342.6" stroke="#111" stroke-width="1.3"/>
<line x1="414.6" y1="342.6" x2="414.6" y2="345.40000000000003" stroke="#111" stroke-width="0.9"/>
<line x1="433.7" y1="342.6" x2="433.7" y2="345.40000000000003" stroke="#111" stroke-width="0.9"/>
<line x1="404.4" y1="326.2" x2="404.4" y2="328.3" stroke="#1a1a1a" stroke-width="1.05"/>
<line x1="403.1" y1="326.2" x2="405.7" y2="326.2" stroke="#1a1a1a" stroke-width="1.05"/>
<line x1="424.1" y1="288.0" x2="424.1" y2="302.2" stroke="#1a1a1a" stroke-width="1.05"/>
<line x1="422.8" y1="288.0" x2="425.4" y2="288.0" stroke="#1a1a1a" stroke-width="1.05"/>
<rect x="397.0" y="328.3" width="14.80" height="14.30" fill="#a4002c"/>
<rect x="416.7" y="302.2" width="14.90" height="40.40" fill="#6aa842"/>
<text x="489.3" y="253.4" font-size="9.6" text-anchor="middle" fill="#111" stroke="#111" stroke-width="0.22" textLength="24.7" lengthAdjust="spacingAndGlyphs" >Vegfb</text>
<line x1="467.1" y1="259.7" x2="467.1" y2="343.20000000000005" stroke="#111" stroke-width="1.3"/>
<line x1="464.1" y1="262.5" x2="467.1" y2="262.5" stroke="#111" stroke-width="0.9"/>
<text x="461.4" y="265.3" font-size="7.9" text-anchor="end" fill="#111" stroke="#111" stroke-width="0.22" >100</text>
<line x1="464.1" y1="278.4" x2="467.1" y2="278.4" stroke="#111" stroke-width="0.9"/>
<text x="461.4" y="281.2" font-size="7.9" text-anchor="end" fill="#111" stroke="#111" stroke-width="0.22" >80</text>
<line x1="464.1" y1="294.3" x2="467.1" y2="294.3" stroke="#111" stroke-width="0.9"/>
<text x="461.4" y="297.1" font-size="7.9" text-anchor="end" fill="#111" stroke="#111" stroke-width="0.22" >60</text>
<line x1="464.1" y1="310.2" x2="467.1" y2="310.2" stroke="#111" stroke-width="0.9"/>
<text x="461.4" y="313.0" font-size="7.9" text-anchor="end" fill="#111" stroke="#111" stroke-width="0.22" >40</text>
<line x1="464.1" y1="326.2" x2="467.1" y2="326.2" stroke="#111" stroke-width="0.9"/>
<text x="461.4" y="329.0" font-size="7.9" text-anchor="end" fill="#111" stroke="#111" stroke-width="0.22" >20</text>
<line x1="464.1" y1="342.6" x2="467.1" y2="342.6" stroke="#111" stroke-width="0.9"/>
<text x="461.4" y="345.40000000000003" font-size="7.9" text-anchor="end" fill="#111" stroke="#111" stroke-width="0.22" >0</text>
<line x1="466.6" y1="342.6" x2="511.7" y2="342.6" stroke="#111" stroke-width="1.3"/>
<line x1="489" y1="342.6" x2="489" y2="345.40000000000003" stroke="#111" stroke-width="0.9"/>
<line x1="510.2" y1="342.6" x2="510.2" y2="345.40000000000003" stroke="#111" stroke-width="0.9"/>
<line x1="477.5" y1="312.1" x2="477.5" y2="317.0" stroke="#1a1a1a" stroke-width="1.05"/>
<line x1="476.2" y1="312.1" x2="478.8" y2="312.1" stroke="#1a1a1a" stroke-width="1.05"/>
<line x1="498.9" y1="280.3" x2="498.9" y2="287.7" stroke="#1a1a1a" stroke-width="1.05"/>
<line x1="497.6" y1="280.3" x2="500.2" y2="280.3" stroke="#1a1a1a" stroke-width="1.05"/>
<rect x="469.3" y="317.0" width="16.30" height="25.60" fill="#a4002c"/>
<rect x="490.9" y="287.7" width="15.90" height="54.90" fill="#6aa842"/>
<text x="272.9" y="372.7" font-size="9.6" text-anchor="middle" fill="#111" stroke="#111" stroke-width="0.22" textLength="22.7" lengthAdjust="spacingAndGlyphs" >Gclm</text>
<line x1="250.3" y1="379.5" x2="250.3" y2="461.0" stroke="#111" stroke-width="1.3"/>
<line x1="247.3" y1="381.7" x2="250.3" y2="381.7" stroke="#111" stroke-width="0.9"/>
<text x="244" y="384.5" font-size="7.9" text-anchor="end" fill="#111" stroke="#111" stroke-width="0.22" >250</text>
<line x1="247.3" y1="397.6" x2="250.3" y2="397.6" stroke="#111" stroke-width="0.9"/>
<text x="244" y="400.40000000000003" font-size="7.9" text-anchor="end" fill="#111" stroke="#111" stroke-width="0.22" >200</text>
<line x1="247.3" y1="413.1" x2="250.3" y2="413.1" stroke="#111" stroke-width="0.9"/>
<text x="244" y="415.90000000000003" font-size="7.9" text-anchor="end" fill="#111" stroke="#111" stroke-width="0.22" >150</text>
<line x1="247.3" y1="429.0" x2="250.3" y2="429.0" stroke="#111" stroke-width="0.9"/>
<text x="244" y="431.8" font-size="7.9" text-anchor="end" fill="#111" stroke="#111" stroke-width="0.22" >100</text>
<line x1="247.3" y1="444.9" x2="250.3" y2="444.9" stroke="#111" stroke-width="0.9"/>
<text x="244" y="447.7" font-size="7.9" text-anchor="end" fill="#111" stroke="#111" stroke-width="0.22" >50</text>
<line x1="247.3" y1="460.4" x2="250.3" y2="460.4" stroke="#111" stroke-width="0.9"/>
<text x="244" y="463.2" font-size="7.9" text-anchor="end" fill="#111" stroke="#111" stroke-width="0.22" >0</text>
<line x1="249.8" y1="460.4" x2="295.5" y2="460.4" stroke="#111" stroke-width="1.3"/>
<line x1="272" y1="460.4" x2="272" y2="463.2" stroke="#111" stroke-width="0.9"/>
<line x1="293.4" y1="460.4" x2="293.4" y2="463.2" stroke="#111" stroke-width="0.9"/>
<line x1="261.1" y1="443.2" x2="261.1" y2="447.5" stroke="#1a1a1a" stroke-width="1.05"/>
<line x1="259.8" y1="443.2" x2="262.4" y2="443.2" stroke="#1a1a1a" stroke-width="1.05"/>
<line x1="282.5" y1="388.2" x2="282.5" y2="393.3" stroke="#1a1a1a" stroke-width="1.05"/>
<line x1="281.2" y1="388.2" x2="283.8" y2="388.2" stroke="#1a1a1a" stroke-width="1.05"/>
<rect x="253.1" y="447.5" width="15.90" height="12.90" fill="#a4002c"/>
<rect x="274.3" y="393.3" width="16.40" height="67.10" fill="#6aa842"/>
<text x="339.7" y="371.5" font-size="9.6" text-anchor="middle" fill="#111" stroke="#111" stroke-width="0.22" textLength="20.3" lengthAdjust="spacingAndGlyphs" >Gclc</text>
<line x1="326.1" y1="378.7" x2="326.1" y2="461.0" stroke="#111" stroke-width="1.3"/>
<line x1="323.1" y1="381.2" x2="326.1" y2="381.2" stroke="#111" stroke-width="0.9"/>
<text x="319.7" y="384.0" font-size="7.9" text-anchor="end" fill="#111" stroke="#111" stroke-width="0.22" >250</text>
<line x1="323.1" y1="397.1" x2="326.1" y2="397.1" stroke="#111" stroke-width="0.9"/>
<text x="319.7" y="399.90000000000003" font-size="7.9" text-anchor="end" fill="#111" stroke="#111" stroke-width="0.22" >200</text>
<line x1="323.1" y1="412.9" x2="326.1" y2="412.9" stroke="#111" stroke-width="0.9"/>
<text x="319.7" y="415.7" font-size="7.9" text-anchor="end" fill="#111" stroke="#111" stroke-width="0.22" >150</text>
<line x1="323.1" y1="428.6" x2="326.1" y2="428.6" stroke="#111" stroke-width="0.9"/>
<text x="319.7" y="431.40000000000003" font-size="7.9" text-anchor="end" fill="#111" stroke="#111" stroke-width="0.22" >100</text>
<line x1="323.1" y1="444.5" x2="326.1" y2="444.5" stroke="#111" stroke-width="0.9"/>
<text x="319.7" y="447.3" font-size="7.9" text-anchor="end" fill="#111" stroke="#111" stroke-width="0.22" >50</text>
<line x1="323.1" y1="460.4" x2="326.1" y2="460.4" stroke="#111" stroke-width="0.9"/>
<text x="319.7" y="463.2" font-size="7.9" text-anchor="end" fill="#111" stroke="#111" stroke-width="0.22" >0</text>
<line x1="325.6" y1="460.4" x2="371.3" y2="460.4" stroke="#111" stroke-width="1.3"/>
<line x1="346.9" y1="460.4" x2="346.9" y2="463.2" stroke="#111" stroke-width="0.9"/>
<line x1="369" y1="460.4" x2="369" y2="463.2" stroke="#111" stroke-width="0.9"/>
<line x1="336.5" y1="449.2" x2="336.5" y2="450.6" stroke="#1a1a1a" stroke-width="1.05"/>
<line x1="335.2" y1="449.2" x2="337.8" y2="449.2" stroke="#1a1a1a" stroke-width="1.05"/>
<line x1="357.9" y1="394.0" x2="357.9" y2="400.3" stroke="#1a1a1a" stroke-width="1.05"/>
<line x1="356.6" y1="394.0" x2="359.2" y2="394.0" stroke="#1a1a1a" stroke-width="1.05"/>
<rect x="328.2" y="450.6" width="16.60" height="9.80" fill="#a4002c"/>
<rect x="349.9" y="400.3" width="16.10" height="60.10" fill="#6aa842"/>
<text x="221.3" y="300" font-size="9.6" text-anchor="middle" fill="#111" stroke="#111" stroke-width="0.45" textLength="19" lengthAdjust="spacingAndGlyphs" transform="rotate(-90 221.3 300)" dy="3.4">FPKM</text>
<text x="221.3" y="417.7" font-size="9.6" text-anchor="middle" fill="#111" stroke="#111" stroke-width="0.45" textLength="19" lengthAdjust="spacingAndGlyphs" transform="rotate(-90 221.3 417.7)" dy="3.4">FPKM</text>
<rect x="381" y="429.6" width="6.9" height="6.9" fill="#a4002c"/>
<rect x="381" y="445.1" width="6.9" height="6.9" fill="#6aa842"/>
<text x="391.6" y="436.1" font-size="7.9" text-anchor="start" fill="#111" stroke="#111" stroke-width="0.22" textLength="55.7" lengthAdjust="spacingAndGlyphs" >SCD::Keap1F/F</text>
<text x="391.6" y="451.6" font-size="7.9" text-anchor="start" fill="#111" stroke="#111" stroke-width="0.22" textLength="88.6" lengthAdjust="spacingAndGlyphs" >SCD::Keap1F/F::Tie1-Cre</text>
</svg>
</body></html>
